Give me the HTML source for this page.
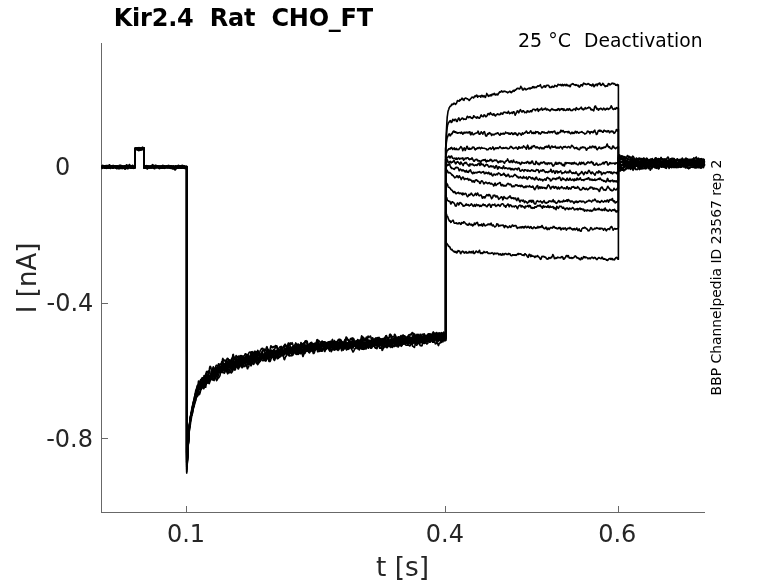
<!DOCTYPE html>
<html><head><meta charset="utf-8"><title>Kir2.4 Rat CHO_FT</title>
<style>
html,body{margin:0;padding:0;background:#fff;}
body{width:778px;height:583px;overflow:hidden;position:relative;font-family:"DejaVu Sans","Liberation Sans",sans-serif;}
svg{position:absolute;left:0;top:0;will-change:transform;}
.t{position:absolute;white-space:pre;line-height:1;color:#262626;}
</style></head><body>
<svg width="778" height="583" viewBox="0 0 778 583">
<g fill="#686868" shape-rendering="crispEdges">
<rect x="101" y="43" width="1" height="470"/>
<rect x="101" y="512" width="604" height="1"/>
<rect x="186" y="506" width="1" height="6"/>
<rect x="445" y="506" width="1" height="6"/>
<rect x="618" y="506" width="1" height="6"/>
<rect x="102" y="166" width="6" height="1"/>
<rect x="102" y="303" width="6" height="1"/>
<rect x="102" y="438" width="6" height="1"/>
</g>
<g fill="none" stroke="#000" stroke-width="1.6" stroke-linejoin="round" stroke-linecap="butt">
<path d="M101.5,165.7 101.9,166.2 102.3,166.6 102.7,166.6 103.1,166.1 103.5,165.6 103.9,165.8 104.3,166.3 104.7,166.3 105.1,166.0 105.5,165.9 105.9,166.0 106.3,166.5 106.7,166.8 107.1,166.9 107.5,167.0 107.9,167.1 108.3,167.0 108.7,166.9 109.1,166.8 109.5,166.7 109.9,166.6 110.3,166.9 110.7,167.1 111.1,167.0 111.5,167.1 111.9,167.2 112.3,167.5 112.7,167.9 113.1,167.6 113.5,167.0 113.9,166.9 114.3,167.2 114.7,167.3 115.1,167.4 115.5,167.6 115.9,167.8 116.3,167.7 116.7,167.3 117.1,166.9 117.5,166.7 117.9,166.4 118.3,166.2 118.7,166.4 119.1,167.0 119.5,167.5 119.9,167.3 120.3,166.6 120.7,166.3 121.1,166.2 121.5,166.0 121.9,166.3 122.3,167.1 122.7,167.7 123.1,167.6 123.5,167.1 123.9,166.9 124.3,167.2 124.7,167.4 125.1,167.2 125.5,167.0 125.9,167.0 126.3,166.8 126.7,166.5 127.1,166.4 127.5,166.6 127.9,167.1 128.3,167.6 128.7,167.7 129.1,167.5 129.5,167.4 129.9,167.4 130.3,167.5 130.7,167.4 131.1,167.0 131.5,166.5 131.9,166.0 132.3,165.4 132.7,165.3 133.1,165.7 133.5,166.5 133.9,167.3 134.3,167.7 134.7,167.2 135.1,166.8 135.1,148.8 135.9,148.9 136.3,148.9 136.7,149.0 137.1,149.1 137.5,148.9 137.9,148.5 138.3,148.4 138.7,148.3 139.1,148.3 139.5,148.4 139.9,148.7 140.3,149.0 140.7,149.1 141.1,148.7 141.5,148.3 141.9,147.8 142.3,147.4 142.7,147.4 143.1,147.7 143.5,147.8 143.9,148.0 143.9,166.4 144.7,166.6 145.1,166.9 145.5,167.0 145.9,166.9 146.3,167.0 146.7,167.6 147.1,167.9 147.5,167.4 147.9,166.9 148.3,166.6 148.7,166.8 149.1,167.0 149.5,166.9 149.9,166.5 150.3,166.2 150.7,166.1 151.1,166.5 151.5,167.1 151.9,167.5 152.3,167.4 152.7,167.1 153.1,166.6 153.5,166.4 153.9,166.5 154.3,166.6 154.7,166.5 155.1,166.2 155.5,166.1 155.9,166.6 156.3,167.0 156.7,166.8 157.1,166.7 157.5,167.1 157.9,167.1 158.3,166.6 158.7,166.2 159.1,166.0 159.5,166.1 159.9,166.7 160.3,167.0 160.7,166.9 161.1,166.8 161.5,166.7 161.9,166.6 162.3,166.3 162.7,166.1 163.1,166.4 163.5,167.0 163.9,167.1 164.3,167.0 164.7,166.9 165.1,166.7 165.5,166.8 165.9,167.0 166.3,167.0 166.7,167.1 167.1,167.4 167.5,167.8 167.9,167.8 168.3,167.2 168.7,166.6 169.1,166.6 169.5,167.3 169.9,167.6 170.3,167.6 170.7,167.7 171.1,167.9 171.5,168.0 171.9,167.8 172.3,167.6 172.7,167.4 173.1,167.3 173.5,167.5 173.9,168.0 174.3,168.4 174.7,168.6 175.1,167.9 175.5,166.7 175.9,166.2 176.3,166.4 176.7,166.6 177.1,166.8 177.5,166.5 177.9,165.8 178.3,165.6 178.7,166.2 179.1,166.7 179.5,166.8 179.9,166.5 180.3,166.0 180.7,165.8 181.1,165.8 181.5,165.8 181.9,166.0 182.3,166.6 182.7,166.9 183.1,166.8 183.5,166.3 183.9,166.0 184.3,165.9 184.7,166.1 185.1,166.5 185.5,166.8 185.9,167.2 186.3,167.7 186.7,167.7 186.7,473.1 187.3,463.1 187.7,453.9 188.1,445.4 188.5,437.6 188.9,430.9 189.3,426.1 189.7,422.6 190.1,418.9 190.5,416.9 190.9,414.7 191.3,412.6 191.7,409.7 192.1,407.1 192.5,405.7 192.9,404.0 193.3,402.2 193.7,400.7 194.1,399.9 194.5,398.7 194.9,396.9 195.3,394.7 195.7,393.5 196.1,392.0 196.5,390.7 196.9,390.0 197.3,388.6 197.7,386.5 198.1,385.3 198.5,384.8 198.9,383.9 199.3,382.6 199.7,382.2 200.1,381.0 200.5,380.2 200.9,379.3 201.3,379.3 201.7,378.7 202.1,377.9 202.5,378.3 202.9,377.6 203.3,377.6 203.7,376.8 204.1,375.5 204.5,375.8 204.9,376.6 205.3,376.3 205.7,375.2 206.1,373.3 206.5,371.6 206.9,371.5 207.3,371.4 207.7,372.8 208.1,372.6 208.5,371.6 208.9,371.0 209.3,369.7 209.7,367.3 210.1,366.3 210.5,366.6 210.9,367.3 211.3,369.9 211.7,372.5 212.1,372.2 212.5,372.0 212.9,370.8 213.3,370.1 213.7,368.9 214.1,368.1 214.5,368.7 214.9,369.5 215.3,368.5 215.7,366.9 216.1,365.5 216.5,365.3 216.9,365.2 217.3,365.7 217.7,366.1 218.1,366.0 218.5,363.8 218.9,364.2 219.3,365.3 219.7,364.8 220.1,364.5 220.5,364.7 220.9,364.3 221.3,365.2 221.7,365.7 222.1,363.0 222.5,359.3 222.9,358.4 223.3,359.7 223.7,361.0 224.1,360.2 224.5,360.0 224.9,361.1 225.3,361.4 225.7,360.8 226.1,360.2 226.5,360.0 226.9,359.3 227.3,358.3 227.7,358.8 228.1,358.6 228.5,359.5 228.9,360.9 229.3,360.6 229.7,359.9 230.1,361.8 230.5,362.5 230.9,360.8 231.3,359.5 231.7,358.6 232.1,357.7 232.5,357.3 232.9,354.7 233.3,354.4 233.7,355.9 234.1,357.1 234.5,358.0 234.9,358.2 235.3,357.9 235.7,357.2 236.1,355.5 236.5,356.1 236.9,357.0 237.3,357.8 237.7,357.5 238.1,356.2 238.5,356.1 238.9,357.0 239.3,357.0 239.7,357.4 240.1,359.9 240.5,360.3 240.9,358.2 241.3,359.0 241.7,360.4 242.1,359.4 242.5,358.2 242.9,357.8 243.3,357.4 243.7,356.9 244.1,356.1 244.5,355.6 244.9,354.5 245.3,353.7 245.7,353.7 246.1,354.3 246.5,354.3 246.9,354.8 247.3,355.3 247.7,354.7 248.1,354.2 248.5,353.7 248.9,353.0 249.3,352.3 249.7,352.1 250.1,352.2 250.5,352.1 250.9,353.3 251.3,352.9 251.7,351.8 252.1,351.6 252.5,351.9 252.9,352.7 253.3,353.5 253.7,354.4 254.1,353.0 254.5,351.3 254.9,351.2 255.3,351.2 255.7,352.7 256.1,354.2 256.5,353.6 256.9,351.8 257.3,352.1 257.7,353.6 258.1,353.2 258.5,352.9 258.9,353.9 259.3,354.5 259.7,352.9 260.1,351.0 260.5,350.3 260.9,349.9 261.3,348.8 261.7,348.5 262.1,348.8 262.5,348.3 262.9,348.5 263.3,349.6 263.7,350.6 264.1,349.3 264.5,349.1 264.9,349.8 265.3,350.5 265.7,350.4 266.1,348.8 266.5,347.2 266.9,346.6 267.3,347.8 267.7,349.9 268.1,350.3 268.5,349.9 268.9,350.3 269.3,351.0 269.7,350.8 270.1,349.4 270.5,347.5 270.9,345.7 271.3,346.2 271.7,347.6 272.1,346.7 272.5,347.2 272.9,347.8 273.3,347.1 273.7,346.6 274.1,346.9 274.5,347.1 274.9,346.5 275.3,345.6 275.7,346.1 276.1,346.0 276.5,346.1 276.9,347.2 277.3,348.4 277.7,348.8 278.1,348.2 278.5,348.3 278.9,348.1 279.3,347.8 279.7,347.4 280.1,346.6 280.5,346.7 280.9,346.9 281.3,346.4 281.7,347.3 282.1,348.1 282.5,348.1 282.9,347.3 283.3,347.0 283.7,347.3 284.1,347.5 284.5,346.9 284.9,345.8 285.3,345.3 285.7,345.4 286.1,346.2 286.5,346.6 286.9,347.2 287.3,347.3 287.7,345.2 288.1,343.3 288.5,343.0 288.9,343.0 289.3,343.9 289.7,345.3 290.1,344.3 290.5,342.9 290.9,343.8 291.3,344.2 291.7,343.1 292.1,342.7 292.5,343.5 292.9,344.6 293.3,345.5 293.7,345.9 294.1,345.9 294.5,345.7 294.9,345.4 295.3,344.2 295.7,342.9 296.1,343.5 296.5,344.4 296.9,344.6 297.3,344.9 297.7,344.1 298.1,343.9 298.5,345.3 298.9,345.7 299.3,345.7 299.7,346.2 300.1,346.1 300.5,344.5 300.9,342.6 301.3,343.1 301.7,343.6 302.1,343.8 302.5,345.0 302.9,345.9 303.3,345.1 303.7,344.9 304.1,345.6 304.5,343.6 304.9,341.8 305.3,341.8 305.7,341.4 306.1,340.7 306.5,341.1 306.9,341.0 307.3,341.7 307.7,343.8 308.1,345.3 308.5,345.6 308.9,346.1 309.3,346.6 309.7,346.6 310.1,344.4 310.5,343.6 310.9,343.1 311.3,343.4 311.7,344.6 312.1,345.4 312.5,345.5 312.9,344.6 313.3,343.7 313.7,344.1 314.1,345.2 314.5,345.8 314.9,345.6 315.3,344.5 315.7,343.9 316.1,343.3 316.5,341.5 316.9,339.9 317.3,339.5 317.7,340.1 318.1,341.1 318.5,340.4 318.9,340.7 319.3,341.2 319.7,342.0 320.1,342.3 320.5,342.0 320.9,342.0 321.3,342.1 321.7,341.7 322.1,341.0 322.5,341.6 322.9,342.7 323.3,342.5 323.7,343.7 324.1,344.5 324.5,345.3 324.9,345.5 325.3,344.6 325.7,343.8 326.1,343.0 326.5,343.9 326.9,344.2 327.3,344.5 327.7,343.5 328.1,341.7 328.5,342.4 328.9,344.1 329.3,344.9 329.7,343.9 330.1,342.4 330.5,341.8 330.9,343.4 331.3,343.8 331.7,342.1 332.1,340.2 332.5,339.4 332.9,341.3 333.3,343.1 333.7,343.0 334.1,343.1 334.5,342.8 334.9,342.4 335.3,342.8 335.7,341.8 336.1,341.7 336.5,342.0 336.9,342.0 337.3,341.5 337.7,340.8 338.1,339.9 338.5,339.7 338.9,340.3 339.3,339.9 339.7,339.3 340.1,339.4 340.5,339.9 340.9,339.9 341.3,340.8 341.7,342.4 342.1,344.6 342.5,346.0 342.9,345.6 343.3,342.9 343.7,342.0 344.1,342.1 344.5,341.0 344.9,340.5 345.3,340.5 345.7,338.7 346.1,337.0 346.5,337.2 346.9,338.9 347.3,339.5 347.7,339.1 348.1,339.7 348.5,341.1 348.9,341.1 349.3,340.3 349.7,340.3 350.1,339.8 350.5,338.6 350.9,339.3 351.3,339.9 351.7,338.8 352.1,337.7 352.5,338.8 352.9,340.2 353.3,340.2 353.7,339.8 354.1,342.1 354.5,342.6 354.9,343.9 355.3,344.8 355.7,344.3 356.1,342.9 356.5,341.8 356.9,342.0 357.3,341.0 357.7,341.1 358.1,344.2 358.5,345.0 358.9,344.6 359.3,343.5 359.7,343.7 360.1,343.4 360.5,342.1 360.9,340.2 361.3,339.0 361.7,338.6 362.1,337.3 362.5,337.0 362.9,337.6 363.3,337.4 363.7,337.6 364.1,338.5 364.5,339.8 364.9,339.8 365.3,339.7 365.7,340.6 366.1,340.7 366.5,341.2 366.9,341.0 367.3,338.9 367.7,337.1 368.1,336.1 368.5,336.9 368.9,337.7 369.3,336.9 369.7,336.6 370.1,336.2 370.5,336.0 370.9,337.2 371.3,339.7 371.7,340.6 372.1,339.0 372.5,337.7 372.9,338.1 373.3,339.0 373.7,340.8 374.1,342.2 374.5,343.0 374.9,342.9 375.3,341.5 375.7,340.0 376.1,338.7 376.5,338.3 376.9,337.8 377.3,337.8 377.7,337.6 378.1,338.0 378.5,338.0 378.9,337.3 379.3,337.7 379.7,338.9 380.1,340.7 380.5,341.5 380.9,340.6 381.3,339.6 381.7,339.5 382.1,338.9 382.5,339.7 382.9,338.8 383.3,338.4 383.7,341.1 384.1,340.8 384.5,338.5 384.9,337.8 385.3,337.4 385.7,336.7 386.1,335.9 386.5,336.9 386.9,338.6 387.3,339.6 387.7,339.9 388.1,339.7 388.5,339.5 388.9,337.7 389.3,336.2 389.7,334.4 390.1,334.2 390.5,335.1 390.9,334.7 391.3,335.5 391.7,336.1 392.1,336.4 392.5,337.1 392.9,337.1 393.3,336.8 393.7,336.6 394.1,335.8 394.5,334.5 394.9,334.3 395.3,335.1 395.7,336.0 396.1,337.6 396.5,339.2 396.9,338.8 397.3,338.1 397.7,337.9 398.1,337.7 398.5,337.6 398.9,337.7 399.3,337.8 399.7,337.7 400.1,337.4 400.5,336.3 400.9,335.5 401.3,335.8 401.7,337.4 402.1,338.1 402.5,338.3 402.9,337.6 403.3,336.6 403.7,335.5 404.1,336.2 404.5,337.0 404.9,335.9 405.3,336.9 405.7,337.9 406.1,337.7 406.5,338.2 406.9,338.7 407.3,338.1 407.7,337.7 408.1,336.4 408.5,335.3 408.9,334.8 409.3,334.9 409.7,335.0 410.1,334.5 410.5,334.0 410.9,335.1 411.3,334.9 411.7,333.6 412.1,332.5 412.5,332.8 412.9,333.8 413.3,333.7 413.7,333.4 414.1,335.5 414.5,336.9 414.9,335.5 415.3,336.1 415.7,336.3 416.1,335.9 416.5,335.6 416.9,334.4 417.3,335.2 417.7,336.5 418.1,336.4 418.5,336.5 418.9,336.8 419.3,337.1 419.7,337.5 420.1,337.0 420.5,337.2 420.9,337.0 421.3,337.2 421.7,336.0 422.1,334.2 422.5,334.5 422.9,334.2 423.3,334.4 423.7,334.8 424.1,333.7 424.5,334.3 424.9,336.6 425.3,337.4 425.7,337.9 426.1,337.1 426.5,336.3 426.9,337.3 427.3,338.8 427.7,338.7 428.1,337.6 428.5,336.7 428.9,336.0 429.3,335.9 429.7,336.7 430.1,335.5 430.5,334.2 430.9,334.4 431.3,335.2 431.7,335.0 432.1,333.9 432.5,333.1 432.9,332.8 433.3,331.9 433.7,332.4 434.1,333.7 434.5,333.7 434.9,334.2 435.3,335.1 435.7,335.4 436.1,336.4 436.5,338.4 436.9,338.5 437.3,337.8 437.7,337.5 438.1,336.5 438.5,335.2 438.9,334.9 439.3,334.2 439.7,333.3 440.1,334.0 440.5,334.5 440.9,333.9 441.3,333.1 441.7,333.6 442.1,334.0 442.5,333.7 442.9,333.0 443.3,332.8 443.7,332.0 444.1,332.6 444.5,333.8 444.9,333.5 445.3,333.8 445.7,334.5 445.7,148.6 446.4,131.0 446.8,123.6 447.2,117.2 447.6,114.5 448.0,111.5 448.4,110.3 448.8,109.3 449.2,107.7 449.6,107.2 450.0,106.5 450.4,106.2 450.8,106.0 451.2,105.6 451.6,104.2 452.0,104.8 452.4,104.2 452.8,104.5 453.2,104.3 453.6,103.7 454.0,103.1 454.4,103.4 454.8,103.8 455.2,104.1 455.6,104.5 456.0,103.5 456.4,103.4 456.8,102.4 457.2,101.2 457.6,100.5 458.0,100.8 458.4,100.9 458.8,101.2 459.2,101.1 459.6,101.0 460.0,99.5 460.4,100.2 460.8,99.6 461.2,99.4 461.6,98.9 462.0,98.2 462.4,98.5 462.8,98.9 463.2,99.9 463.6,99.7 464.0,100.3 464.4,99.2 464.8,98.4 465.2,98.2 465.6,98.1 466.0,98.1 466.4,98.5 466.8,98.7 467.2,98.7 467.6,98.7 468.0,99.5 468.4,99.5 468.8,99.9 469.2,100.5 469.6,100.1 470.0,99.6 470.4,98.9 470.8,98.6 471.2,98.0 471.6,98.0 472.0,97.1 472.4,97.3 472.8,97.2 473.2,97.4 473.6,98.0 474.0,97.2 474.4,96.6 474.8,96.0 475.2,96.6 475.6,96.3 476.0,95.9 476.4,95.3 476.8,95.1 477.2,96.2 477.6,97.2 478.0,96.0 478.4,96.4 478.8,96.4 479.2,96.1 479.6,96.3 480.0,96.1 480.4,96.2 480.8,97.2 481.2,95.5 481.6,95.5 482.0,95.4 482.4,95.7 482.8,96.7 483.2,96.9 483.6,95.9 484.0,95.7 484.4,96.4 484.8,96.3 485.2,97.4 485.6,97.1 486.0,95.7 486.4,94.7 486.8,93.4 487.2,94.1 487.6,94.7 488.0,95.6 488.4,96.4 488.8,95.6 489.2,95.5 489.6,95.3 490.0,96.0 490.4,95.5 490.8,94.7 491.2,94.8 491.6,95.7 492.0,94.3 492.4,94.1 492.8,94.2 493.2,94.6 493.6,94.4 494.0,93.5 494.4,93.4 494.8,94.0 495.2,95.0 495.6,94.5 496.0,94.8 496.4,94.4 496.8,94.1 497.2,94.8 497.6,94.9 498.0,94.7 498.4,93.2 498.8,93.4 499.2,92.6 499.6,91.9 500.0,92.0 500.4,92.2 500.8,91.9 501.2,91.2 501.6,90.8 502.0,91.4 502.4,91.9 502.8,91.8 503.2,92.0 503.6,91.2 504.0,91.3 504.4,91.4 504.8,91.1 505.2,91.4 505.6,91.8 506.0,91.7 506.4,91.7 506.8,92.2 507.2,92.1 507.6,92.8 508.0,92.5 508.4,92.2 508.8,92.0 509.2,91.7 509.6,91.3 510.0,91.2 510.4,91.9 510.8,92.4 511.2,92.7 511.6,91.8 512.0,92.1 512.4,91.5 512.8,90.9 513.2,90.4 513.6,90.5 514.0,91.3 514.4,91.0 514.8,90.0 515.2,90.3 515.6,90.0 516.0,89.4 516.4,89.4 516.8,88.6 517.2,88.7 517.6,88.3 518.0,88.4 518.4,88.7 518.8,88.6 519.2,88.9 519.6,88.9 520.0,88.5 520.4,87.6 520.8,86.2 521.2,87.4 521.6,87.3 522.0,88.4 522.4,89.4 522.8,89.9 523.2,90.0 523.6,89.6 524.0,88.7 524.4,88.2 524.8,88.4 525.2,88.8 525.6,89.6 526.0,89.3 526.4,89.7 526.8,89.2 527.2,89.1 527.6,88.7 528.0,88.6 528.4,88.6 528.8,88.3 529.2,88.0 529.6,88.1 530.0,89.0 530.4,88.3 530.8,88.0 531.2,88.3 531.6,88.3 532.0,88.0 532.4,86.9 532.8,87.0 533.2,86.5 533.6,87.3 534.0,87.9 534.4,87.4 534.8,86.9 535.2,87.1 535.6,87.3 536.0,87.6 536.4,87.3 536.8,86.7 537.2,86.6 537.6,85.9 538.0,86.2 538.4,86.1 538.8,86.2 539.2,85.6 539.6,85.5 540.0,85.7 540.4,84.7 540.8,85.8 541.2,86.8 541.6,87.7 542.0,87.9 542.4,87.6 542.8,87.1 543.2,86.8 543.6,86.7 544.0,85.8 544.4,86.0 544.8,86.0 545.2,87.2 545.6,87.0 546.0,86.3 546.4,85.4 546.8,85.6 547.2,85.2 547.6,85.2 548.0,85.2 548.4,85.5 548.8,85.6 549.2,86.7 549.6,87.4 550.0,87.5 550.4,87.3 550.8,87.1 551.2,87.5 551.6,86.9 552.0,86.5 552.4,86.2 552.8,86.2 553.2,87.2 553.6,86.8 554.0,87.0 554.4,86.4 554.8,85.3 555.2,85.6 555.6,86.0 556.0,85.9 556.4,85.8 556.8,86.6 557.2,86.0 557.6,85.3 558.0,84.4 558.4,84.5 558.8,84.5 559.2,84.9 559.6,85.0 560.0,84.7 560.4,84.5 560.8,84.7 561.2,85.6 561.6,85.6 562.0,84.8 562.4,84.4 562.8,85.1 563.2,85.8 563.6,84.7 564.0,84.7 564.4,84.9 564.8,84.4 565.2,85.4 565.6,85.2 566.0,85.6 566.4,84.7 566.8,84.4 567.2,85.0 567.6,85.6 568.0,85.7 568.4,86.0 568.8,85.3 569.2,85.2 569.6,85.7 570.0,86.7 570.4,86.2 570.8,85.1 571.2,84.5 571.6,84.2 572.0,84.3 572.4,84.0 572.8,83.6 573.2,83.8 573.6,84.2 574.0,84.7 574.4,85.0 574.8,84.9 575.2,84.8 575.6,85.3 576.0,84.6 576.4,85.0 576.8,85.3 577.2,85.2 577.6,85.8 578.0,85.4 578.4,85.3 578.8,86.5 579.2,87.2 579.6,86.5 580.0,86.7 580.4,85.6 580.8,84.7 581.2,84.7 581.6,84.8 582.0,85.8 582.4,85.9 582.8,84.9 583.2,83.9 583.6,83.1 584.0,83.3 584.4,83.8 584.8,83.8 585.2,84.3 585.6,83.9 586.0,84.2 586.4,84.4 586.8,84.6 587.2,84.1 587.6,84.1 588.0,83.5 588.4,83.7 588.8,84.0 589.2,84.3 589.6,84.3 590.0,85.2 590.4,85.0 590.8,84.8 591.2,85.0 591.6,85.8 592.0,86.0 592.4,85.1 592.8,84.1 593.2,84.6 593.6,85.5 594.0,86.7 594.4,86.2 594.8,85.0 595.2,85.4 595.6,84.7 596.0,84.2 596.4,84.4 596.8,84.4 597.2,85.7 597.6,85.1 598.0,83.7 598.4,83.8 598.8,83.5 599.2,84.0 599.6,83.1 600.0,83.3 600.4,84.8 600.8,85.3 601.2,85.5 601.6,84.5 602.0,84.6 602.4,84.5 602.8,83.2 603.2,84.2 603.6,84.1 604.0,85.3 604.4,85.3 604.8,85.8 605.2,86.6 605.6,86.3 606.0,85.8 606.4,86.2 606.8,85.9 607.2,85.4 607.6,86.1 608.0,84.5 608.4,83.6 608.8,83.7 609.2,83.7 609.6,84.5 610.0,85.0 610.4,84.6 610.8,84.3 611.2,84.2 611.6,83.4 612.0,83.5 612.4,83.5 612.8,83.1 613.2,83.8 613.6,83.6 614.0,83.9 614.4,83.6 614.8,83.9 615.2,84.1 615.6,85.1 616.0,85.1 616.4,85.3 616.8,84.6 617.2,84.4 617.6,85.5 618.0,85.7 618.4,84.9 618.4,169.9 619.1,170.8 619.5,170.2 619.9,170.4 620.3,171.0 620.7,170.5 621.1,169.4 621.5,169.5 621.9,170.2 622.3,170.2 622.7,169.2 623.1,169.1 623.5,170.4 623.9,170.9 624.3,170.1 624.7,169.4 625.1,169.5 625.5,169.8 625.9,169.4 626.3,168.6 626.7,168.6 627.1,168.4 627.5,168.1 627.9,168.6 628.3,168.7 628.7,168.6 629.1,168.3 629.5,167.7 629.9,168.2 630.3,169.0 630.7,169.3 631.1,168.8 631.5,167.4 631.9,166.9 632.3,168.1 632.7,169.5 633.1,170.3 633.5,169.3 633.9,168.2 634.3,168.0 634.7,167.3 635.1,167.7 635.5,169.5 635.9,169.5 636.3,169.1 636.7,169.4 637.1,169.7 637.5,169.3 637.9,168.5 638.3,167.1 638.7,167.0 639.1,168.8 639.5,169.6 639.9,168.9 640.3,168.2 640.7,167.7 641.1,167.8 641.5,168.8 641.9,168.9 642.3,168.5 642.7,168.5 643.1,168.7 643.5,168.5 643.9,167.9 644.3,167.2 644.7,168.2 645.1,169.0 645.5,167.9 645.9,167.6 646.3,168.4 646.7,168.6 647.1,167.6 647.5,166.5 647.9,166.5 648.3,166.2 648.7,166.4 649.1,167.2 649.5,167.7 649.9,169.1 650.3,170.3 650.7,169.4 651.1,167.8 651.5,166.5 651.9,165.9 652.3,165.7 652.7,165.7 653.1,165.7 653.5,166.0 653.9,166.1 654.3,165.5 654.7,165.0 655.1,165.6 655.5,166.8 655.9,167.7 656.3,168.3 656.7,168.1 657.1,167.4 657.5,167.0 657.9,167.2 658.3,168.7 658.7,168.6 659.1,167.0 659.5,166.1 659.9,165.9 660.3,165.3 660.7,165.9 661.1,167.1 661.5,167.1 661.9,167.0 662.3,167.0 662.7,166.6 663.1,166.5 663.5,166.3 663.9,166.2 664.3,166.6 664.7,167.0 665.1,167.8 665.5,167.9 665.9,167.9 666.3,167.0 666.7,166.4 667.1,165.6 667.5,165.5 667.9,166.5 668.3,166.9 668.7,166.6 669.1,166.9 669.5,166.7 669.9,166.9 670.3,167.3 670.7,166.8 671.1,166.4 671.5,167.6 671.9,167.5 672.3,166.3 672.7,165.1 673.1,164.5 673.5,165.2 673.9,166.3 674.3,166.2 674.7,165.7 675.1,166.5 675.5,167.5 675.9,167.0 676.3,166.9 676.7,167.7 677.1,167.6 677.5,166.7 677.9,165.7 678.3,164.8 678.7,165.0 679.1,165.8 679.5,166.5 679.9,167.2 680.3,167.4 680.7,167.2 681.1,166.5 681.5,165.2 681.9,164.4 682.3,165.0 682.7,165.4 683.1,165.6 683.5,165.6 683.9,165.2 684.3,165.3 684.7,166.1 685.1,166.5 685.5,166.5 685.9,166.7 686.3,166.3 686.7,166.0 687.1,167.1 687.5,167.9 687.9,167.6 688.3,168.1 688.7,168.8 689.1,168.3 689.5,167.7 689.9,168.1 690.3,167.5 690.7,166.7 691.1,166.7 691.5,167.1 691.9,167.0 692.3,167.1 692.7,167.3 693.1,166.3 693.5,166.1 693.9,167.2 694.3,167.9 694.7,167.5 695.1,166.9 695.5,167.5 695.9,168.1 696.3,167.8 696.7,166.6 697.1,166.3 697.5,165.8 697.9,165.2 698.3,165.9 698.7,166.9 699.1,166.5 699.5,166.5 699.9,167.5 700.3,168.1 700.7,167.6 701.1,166.6 701.5,166.8 701.9,167.1 702.3,166.4 702.7,166.4 703.1,167.6 703.5,167.5 703.9,165.4 704.3,163.7 704.7,164.0"/>
<path d="M101.5,166.6 101.9,166.8 102.3,166.8 102.7,166.9 103.1,167.2 103.5,167.3 103.9,167.4 104.3,167.6 104.7,167.5 105.1,167.1 105.5,166.5 105.9,165.9 106.3,165.5 106.7,165.5 107.1,165.8 107.5,166.0 107.9,166.0 108.3,166.0 108.7,166.0 109.1,166.3 109.5,166.9 109.9,167.5 110.3,167.8 110.7,167.6 111.1,167.2 111.5,166.9 111.9,166.8 112.3,166.7 112.7,166.5 113.1,166.5 113.5,166.6 113.9,166.7 114.3,166.6 114.7,166.3 115.1,166.2 115.5,166.1 115.9,165.9 116.3,166.1 116.7,166.0 117.1,165.7 117.5,165.7 117.9,166.2 118.3,166.5 118.7,166.7 119.1,166.7 119.5,167.2 119.9,167.7 120.3,167.5 120.7,167.0 121.1,166.6 121.5,166.4 121.9,166.4 122.3,166.3 122.7,166.4 123.1,166.5 123.5,166.3 123.9,166.1 124.3,166.2 124.7,166.4 125.1,166.6 125.5,166.5 125.9,166.0 126.3,165.9 126.7,165.9 127.1,166.0 127.5,166.2 127.9,166.5 128.3,166.7 128.7,166.8 129.1,167.0 129.5,167.0 129.9,166.8 130.3,166.4 130.7,166.0 131.1,166.2 131.5,167.0 131.9,167.8 132.3,168.2 132.7,168.0 133.1,167.3 133.5,166.9 133.9,166.9 134.3,167.2 134.7,167.4 135.1,167.1 135.1,148.5 135.9,148.5 136.3,148.9 136.7,149.0 137.1,148.9 137.5,148.8 137.9,148.5 138.3,148.0 138.7,147.7 139.1,147.6 139.5,147.8 139.9,147.8 140.3,147.8 140.7,148.1 141.1,148.4 141.5,148.4 141.9,148.0 142.3,147.6 142.7,147.5 143.1,147.8 143.5,148.3 143.9,148.8 143.9,167.4 144.7,167.7 145.1,167.6 145.5,167.3 145.9,167.0 146.3,167.0 146.7,167.2 147.1,167.1 147.5,166.9 147.9,167.1 148.3,167.3 148.7,167.2 149.1,166.7 149.5,166.2 149.9,166.3 150.3,166.8 150.7,166.7 151.1,166.3 151.5,166.0 151.9,165.6 152.3,164.9 152.7,164.6 153.1,165.1 153.5,165.9 153.9,166.4 154.3,166.6 154.7,166.6 155.1,166.2 155.5,165.7 155.9,165.5 156.3,165.5 156.7,165.6 157.1,165.8 157.5,166.0 157.9,165.9 158.3,165.9 158.7,166.4 159.1,166.7 159.5,166.2 159.9,165.9 160.3,166.3 160.7,166.8 161.1,166.7 161.5,166.5 161.9,166.4 162.3,166.0 162.7,165.8 163.1,166.0 163.5,166.5 163.9,167.0 164.3,167.2 164.7,167.2 165.1,167.2 165.5,167.0 165.9,166.5 166.3,165.9 166.7,165.7 167.1,165.9 167.5,165.9 167.9,166.0 168.3,166.2 168.7,166.3 169.1,166.4 169.5,166.4 169.9,166.4 170.3,167.0 170.7,167.6 171.1,167.5 171.5,167.2 171.9,167.4 172.3,167.2 172.7,166.7 173.1,166.5 173.5,166.7 173.9,166.9 174.3,167.0 174.7,166.8 175.1,166.6 175.5,166.3 175.9,166.1 176.3,166.0 176.7,166.1 177.1,166.2 177.5,166.5 177.9,166.7 178.3,166.6 178.7,166.4 179.1,166.5 179.5,166.6 179.9,166.7 180.3,166.8 180.7,166.7 181.1,166.6 181.5,166.6 181.9,166.8 182.3,166.8 182.7,166.3 183.1,166.2 183.5,166.2 183.9,166.1 184.3,166.4 184.7,167.1 185.1,167.6 185.5,167.8 185.9,167.5 186.3,167.2 186.7,167.2 186.7,471.7 187.3,462.5 187.7,453.8 188.1,446.7 188.5,439.4 188.9,432.8 189.3,426.7 189.7,422.4 190.1,420.5 190.5,417.9 190.9,415.4 191.3,413.7 191.7,412.1 192.1,409.3 192.5,406.0 192.9,404.6 193.3,402.6 193.7,401.6 194.1,401.7 194.5,399.7 194.9,396.0 195.3,393.4 195.7,393.8 196.1,394.1 196.5,392.7 196.9,390.4 197.3,388.5 197.7,387.0 198.1,386.7 198.5,386.3 198.9,384.8 199.3,383.0 199.7,383.4 200.1,384.1 200.5,383.9 200.9,384.8 201.3,386.1 201.7,384.7 202.1,383.1 202.5,381.5 202.9,380.1 203.3,378.7 203.7,379.3 204.1,380.4 204.5,380.2 204.9,378.8 205.3,377.7 205.7,377.4 206.1,377.6 206.5,378.8 206.9,379.3 207.3,378.7 207.7,378.1 208.1,375.3 208.5,372.5 208.9,371.3 209.3,370.6 209.7,371.7 210.1,374.1 210.5,374.5 210.9,374.9 211.3,375.5 211.7,374.4 212.1,372.5 212.5,372.4 212.9,371.9 213.3,371.7 213.7,371.7 214.1,370.4 214.5,370.0 214.9,369.9 215.3,369.1 215.7,367.6 216.1,367.6 216.5,369.6 216.9,371.3 217.3,372.0 217.7,372.0 218.1,370.6 218.5,369.7 218.9,369.4 219.3,368.5 219.7,368.6 220.1,369.6 220.5,368.4 220.9,367.5 221.3,368.6 221.7,368.7 222.1,366.7 222.5,365.4 222.9,364.0 223.3,364.0 223.7,365.3 224.1,367.7 224.5,369.4 224.9,368.4 225.3,368.1 225.7,366.3 226.1,365.8 226.5,366.7 226.9,366.6 227.3,365.5 227.7,364.5 228.1,365.2 228.5,366.2 228.9,367.9 229.3,366.6 229.7,365.1 230.1,363.7 230.5,362.7 230.9,362.0 231.3,361.9 231.7,360.7 232.1,359.6 232.5,358.3 232.9,358.5 233.3,359.2 233.7,357.7 234.1,357.2 234.5,358.7 234.9,358.7 235.3,359.1 235.7,359.4 236.1,358.4 236.5,358.4 236.9,358.8 237.3,361.0 237.7,361.7 238.1,360.0 238.5,358.3 238.9,357.0 239.3,357.0 239.7,356.7 240.1,355.6 240.5,356.2 240.9,355.8 241.3,355.6 241.7,356.5 242.1,358.5 242.5,357.8 242.9,356.9 243.3,357.3 243.7,358.3 244.1,357.8 244.5,359.8 244.9,361.8 245.3,360.5 245.7,359.8 246.1,359.2 246.5,357.5 246.9,356.9 247.3,356.6 247.7,355.7 248.1,355.1 248.5,355.2 248.9,356.1 249.3,357.3 249.7,358.6 250.1,358.2 250.5,356.5 250.9,355.5 251.3,357.5 251.7,357.6 252.1,354.9 252.5,352.9 252.9,353.7 253.3,355.4 253.7,355.1 254.1,355.4 254.5,356.5 254.9,357.2 255.3,356.5 255.7,355.8 256.1,355.8 256.5,356.4 256.9,354.9 257.3,352.1 257.7,350.3 258.1,351.3 258.5,353.4 258.9,354.5 259.3,355.7 259.7,355.6 260.1,355.0 260.5,354.9 260.9,354.5 261.3,353.7 261.7,354.3 262.1,354.5 262.5,351.4 262.9,350.2 263.3,350.9 263.7,350.5 264.1,349.9 264.5,350.4 264.9,352.5 265.3,353.9 265.7,353.8 266.1,352.6 266.5,351.6 266.9,350.4 267.3,350.7 267.7,351.2 268.1,352.3 268.5,353.2 268.9,352.7 269.3,351.5 269.7,351.8 270.1,350.9 270.5,350.2 270.9,350.3 271.3,350.1 271.7,350.9 272.1,351.5 272.5,351.5 272.9,351.8 273.3,351.5 273.7,350.9 274.1,349.9 274.5,349.5 274.9,348.5 275.3,347.9 275.7,347.8 276.1,347.3 276.5,345.9 276.9,346.0 277.3,347.8 277.7,349.4 278.1,350.4 278.5,351.5 278.9,352.2 279.3,351.8 279.7,350.8 280.1,349.7 280.5,349.5 280.9,350.0 281.3,350.6 281.7,350.3 282.1,349.7 282.5,349.5 282.9,350.1 283.3,350.4 283.7,350.8 284.1,350.6 284.5,349.4 284.9,348.7 285.3,349.2 285.7,349.1 286.1,348.5 286.5,349.3 286.9,351.1 287.3,350.3 287.7,350.2 288.1,350.0 288.5,348.8 288.9,349.0 289.3,349.8 289.7,349.2 290.1,348.6 290.5,348.5 290.9,348.9 291.3,349.8 291.7,349.8 292.1,349.7 292.5,350.1 292.9,350.4 293.3,349.9 293.7,348.8 294.1,347.4 294.5,349.0 294.9,350.1 295.3,348.7 295.7,346.5 296.1,345.8 296.5,346.5 296.9,346.9 297.3,347.9 297.7,348.2 298.1,349.0 298.5,348.3 298.9,346.0 299.3,345.9 299.7,345.4 300.1,344.6 300.5,344.8 300.9,345.2 301.3,344.9 301.7,343.7 302.1,344.8 302.5,345.6 302.9,344.5 303.3,343.6 303.7,343.0 304.1,342.8 304.5,343.9 304.9,344.5 305.3,345.3 305.7,346.4 306.1,346.0 306.5,346.2 306.9,346.4 307.3,344.7 307.7,344.1 308.1,344.8 308.5,345.7 308.9,346.9 309.3,347.6 309.7,348.6 310.1,348.1 310.5,346.3 310.9,344.8 311.3,344.8 311.7,344.3 312.1,343.3 312.5,344.1 312.9,344.9 313.3,345.3 313.7,346.0 314.1,345.3 314.5,343.7 314.9,343.5 315.3,343.7 315.7,344.3 316.1,344.3 316.5,345.1 316.9,345.5 317.3,345.4 317.7,344.3 318.1,343.7 318.5,345.2 318.9,345.5 319.3,346.2 319.7,346.2 320.1,346.5 320.5,346.9 320.9,346.4 321.3,345.6 321.7,344.0 322.1,343.9 322.5,343.5 322.9,343.1 323.3,343.2 323.7,343.7 324.1,343.5 324.5,341.7 324.9,341.8 325.3,342.4 325.7,343.2 326.1,342.8 326.5,342.8 326.9,343.1 327.3,344.2 327.7,345.0 328.1,344.7 328.5,344.4 328.9,344.2 329.3,345.5 329.7,346.6 330.1,346.7 330.5,346.7 330.9,344.7 331.3,343.4 331.7,343.4 332.1,343.7 332.5,343.7 332.9,343.0 333.3,342.3 333.7,341.8 334.1,340.8 334.5,340.5 334.9,342.0 335.3,343.6 335.7,342.1 336.1,342.9 336.5,344.3 336.9,343.3 337.3,341.4 337.7,340.9 338.1,340.9 338.5,340.2 338.9,339.3 339.3,340.5 339.7,342.2 340.1,344.0 340.5,344.5 340.9,342.9 341.3,342.0 341.7,343.4 342.1,344.6 342.5,344.1 342.9,343.8 343.3,344.1 343.7,342.8 344.1,343.0 344.5,343.2 344.9,343.5 345.3,343.8 345.7,343.1 346.1,340.4 346.5,338.5 346.9,337.9 347.3,339.0 347.7,339.7 348.1,340.1 348.5,339.9 348.9,340.5 349.3,341.5 349.7,341.3 350.1,341.7 350.5,342.1 350.9,341.7 351.3,341.8 351.7,343.2 352.1,343.3 352.5,341.9 352.9,339.3 353.3,338.3 353.7,338.7 354.1,340.8 354.5,343.0 354.9,343.1 355.3,341.9 355.7,341.2 356.1,340.9 356.5,340.7 356.9,341.4 357.3,341.0 357.7,339.6 358.1,340.3 358.5,341.3 358.9,340.6 359.3,340.2 359.7,340.2 360.1,340.8 360.5,341.4 360.9,339.9 361.3,337.3 361.7,335.8 362.1,336.7 362.5,337.0 362.9,338.1 363.3,340.5 363.7,340.8 364.1,339.8 364.5,340.8 364.9,340.7 365.3,339.6 365.7,339.1 366.1,337.6 366.5,337.1 366.9,337.7 367.3,339.4 367.7,341.3 368.1,340.9 368.5,340.2 368.9,340.1 369.3,340.3 369.7,340.5 370.1,341.2 370.5,340.9 370.9,340.8 371.3,341.5 371.7,341.7 372.1,341.3 372.5,342.3 372.9,343.1 373.3,342.1 373.7,342.0 374.1,342.1 374.5,340.2 374.9,338.6 375.3,338.3 375.7,339.2 376.1,339.8 376.5,339.8 376.9,340.7 377.3,341.9 377.7,341.3 378.1,339.9 378.5,340.4 378.9,341.4 379.3,341.9 379.7,341.5 380.1,341.2 380.5,341.0 380.9,340.5 381.3,340.8 381.7,340.7 382.1,340.4 382.5,339.6 382.9,339.4 383.3,338.9 383.7,338.8 384.1,339.2 384.5,338.7 384.9,338.0 385.3,336.9 385.7,336.3 386.1,335.5 386.5,335.9 386.9,336.8 387.3,337.8 387.7,337.9 388.1,337.8 388.5,338.1 388.9,337.9 389.3,337.7 389.7,337.3 390.1,336.4 390.5,336.0 390.9,336.6 391.3,337.2 391.7,338.7 392.1,340.2 392.5,340.5 392.9,339.8 393.3,339.5 393.7,340.1 394.1,340.2 394.5,339.9 394.9,338.7 395.3,338.5 395.7,338.8 396.1,338.4 396.5,338.9 396.9,340.4 397.3,340.8 397.7,340.0 398.1,339.0 398.5,338.5 398.9,339.3 399.3,340.0 399.7,340.3 400.1,340.2 400.5,340.1 400.9,339.5 401.3,339.2 401.7,339.1 402.1,337.5 402.5,335.6 402.9,335.0 403.3,335.0 403.7,336.1 404.1,337.8 404.5,338.4 404.9,338.3 405.3,338.3 405.7,337.6 406.1,337.0 406.5,337.3 406.9,338.6 407.3,339.7 407.7,339.3 408.1,340.4 408.5,340.8 408.9,339.7 409.3,338.9 409.7,338.4 410.1,338.5 410.5,338.8 410.9,339.1 411.3,340.5 411.7,341.8 412.1,341.9 412.5,341.2 412.9,340.0 413.3,338.2 413.7,336.3 414.1,335.7 414.5,335.1 414.9,335.0 415.3,336.4 415.7,336.2 416.1,336.9 416.5,337.9 416.9,336.8 417.3,335.9 417.7,334.7 418.1,334.3 418.5,335.0 418.9,336.2 419.3,337.5 419.7,338.2 420.1,338.5 420.5,338.0 420.9,337.6 421.3,337.8 421.7,336.7 422.1,336.3 422.5,337.4 422.9,337.3 423.3,336.8 423.7,337.0 424.1,336.6 424.5,335.6 424.9,336.1 425.3,336.8 425.7,338.1 426.1,339.1 426.5,340.1 426.9,339.2 427.3,337.3 427.7,336.5 428.1,336.5 428.5,338.1 428.9,339.9 429.3,339.8 429.7,338.5 430.1,338.6 430.5,338.9 430.9,338.3 431.3,337.2 431.7,335.5 432.1,335.2 432.5,334.8 432.9,335.0 433.3,335.5 433.7,335.3 434.1,334.6 434.5,334.2 434.9,333.1 435.3,333.1 435.7,334.3 436.1,334.0 436.5,332.6 436.9,332.6 437.3,333.6 437.7,334.9 438.1,335.1 438.5,334.1 438.9,332.7 439.3,333.3 439.7,334.2 440.1,334.5 440.5,334.8 440.9,335.5 441.3,337.1 441.7,336.9 442.1,334.8 442.5,333.8 442.9,334.3 443.3,333.7 443.7,334.9 444.1,335.6 444.5,334.4 444.9,333.8 445.3,333.0 445.7,332.5 445.7,148.1 446.4,135.9 446.8,131.0 447.2,127.5 447.6,125.0 448.0,124.1 448.4,122.6 448.8,122.7 449.2,121.9 449.6,121.0 450.0,121.4 450.4,120.6 450.8,121.0 451.2,122.5 451.6,122.2 452.0,122.0 452.4,120.5 452.8,119.2 453.2,119.6 453.6,119.9 454.0,120.7 454.4,120.2 454.8,119.5 455.2,119.3 455.6,119.3 456.0,119.8 456.4,121.3 456.8,121.5 457.2,121.4 457.6,120.1 458.0,119.3 458.4,118.4 458.8,117.9 459.2,118.8 459.6,119.8 460.0,120.6 460.4,119.7 460.8,119.3 461.2,119.3 461.6,118.9 462.0,118.0 462.4,118.1 462.8,118.4 463.2,118.5 463.6,119.4 464.0,119.1 464.4,119.0 464.8,119.0 465.2,119.2 465.6,119.4 466.0,119.3 466.4,118.7 466.8,117.6 467.2,116.5 467.6,116.3 468.0,117.0 468.4,117.2 468.8,117.6 469.2,117.2 469.6,116.8 470.0,116.6 470.4,117.0 470.8,117.4 471.2,118.2 471.6,118.2 472.0,117.9 472.4,118.5 472.8,117.6 473.2,117.5 473.6,115.9 474.0,115.8 474.4,116.5 474.8,116.9 475.2,117.0 475.6,117.4 476.0,117.3 476.4,118.0 476.8,118.1 477.2,116.8 477.6,117.3 478.0,117.4 478.4,117.9 478.8,117.5 479.2,118.2 479.6,118.1 480.0,117.2 480.4,117.0 480.8,115.5 481.2,114.9 481.6,115.4 482.0,116.1 482.4,116.5 482.8,116.5 483.2,116.6 483.6,116.2 484.0,114.9 484.4,115.0 484.8,115.0 485.2,115.8 485.6,116.7 486.0,116.8 486.4,116.2 486.8,116.0 487.2,115.6 487.6,114.1 488.0,113.7 488.4,114.0 488.8,113.7 489.2,114.7 489.6,114.2 490.0,113.5 490.4,112.7 490.8,113.3 491.2,114.1 491.6,114.5 492.0,114.2 492.4,114.3 492.8,115.1 493.2,114.9 493.6,113.8 494.0,113.9 494.4,115.2 494.8,115.2 495.2,116.0 495.6,115.9 496.0,114.8 496.4,114.6 496.8,114.7 497.2,114.3 497.6,113.9 498.0,113.9 498.4,114.5 498.8,114.5 499.2,114.8 499.6,114.7 500.0,114.0 500.4,114.4 500.8,113.1 501.2,113.8 501.6,113.8 502.0,113.1 502.4,114.0 502.8,114.2 503.2,113.1 503.6,113.0 504.0,112.1 504.4,112.3 504.8,112.3 505.2,112.3 505.6,112.6 506.0,112.4 506.4,112.9 506.8,113.0 507.2,112.7 507.6,113.1 508.0,112.5 508.4,111.2 508.8,112.3 509.2,112.8 509.6,113.7 510.0,113.3 510.4,113.2 510.8,113.0 511.2,112.6 511.6,112.8 512.0,112.3 512.4,113.5 512.8,112.6 513.2,111.8 513.6,111.8 514.0,111.9 514.4,113.2 514.8,114.1 515.2,115.2 515.6,114.0 516.0,113.7 516.4,112.3 516.8,112.2 517.2,110.9 517.6,111.2 518.0,111.1 518.4,112.2 518.8,112.8 519.2,111.9 519.6,111.2 520.0,110.3 520.4,109.7 520.8,110.3 521.2,111.0 521.6,111.5 522.0,112.1 522.4,111.9 522.8,110.8 523.2,110.7 523.6,111.0 524.0,111.5 524.4,112.1 524.8,112.7 525.2,112.3 525.6,112.2 526.0,112.3 526.4,112.7 526.8,111.9 527.2,110.8 527.6,111.2 528.0,111.9 528.4,111.1 528.8,111.6 529.2,112.0 529.6,112.0 530.0,111.8 530.4,110.8 530.8,110.9 531.2,110.7 531.6,111.8 532.0,111.1 532.4,110.3 532.8,109.5 533.2,109.3 533.6,109.2 534.0,109.2 534.4,109.5 534.8,109.5 535.2,110.6 535.6,110.5 536.0,109.8 536.4,109.4 536.8,109.4 537.2,109.1 537.6,108.6 538.0,110.7 538.4,111.4 538.8,110.7 539.2,109.9 539.6,109.5 540.0,109.9 540.4,109.5 540.8,108.9 541.2,108.9 541.6,108.0 542.0,109.2 542.4,110.2 542.8,109.9 543.2,109.5 543.6,109.1 544.0,109.4 544.4,109.3 544.8,108.7 545.2,108.3 545.6,108.1 546.0,109.1 546.4,110.0 546.8,109.9 547.2,109.1 547.6,109.1 548.0,109.5 548.4,110.1 548.8,109.9 549.2,110.1 549.6,110.3 550.0,111.0 550.4,110.5 550.8,109.8 551.2,109.4 551.6,109.4 552.0,108.6 552.4,109.3 552.8,109.6 553.2,109.4 553.6,110.0 554.0,109.9 554.4,109.7 554.8,110.1 555.2,110.1 555.6,110.4 556.0,109.8 556.4,109.9 556.8,110.3 557.2,109.4 557.6,110.1 558.0,108.7 558.4,108.8 558.8,108.6 559.2,109.5 559.6,110.4 560.0,109.5 560.4,109.8 560.8,109.5 561.2,108.7 561.6,109.2 562.0,108.9 562.4,108.8 562.8,109.0 563.2,110.4 563.6,109.2 564.0,108.9 564.4,109.6 564.8,110.2 565.2,110.4 565.6,110.5 566.0,110.1 566.4,110.2 566.8,109.3 567.2,108.8 567.6,109.4 568.0,110.0 568.4,110.1 568.8,109.2 569.2,108.6 569.6,108.8 570.0,109.1 570.4,110.3 570.8,110.2 571.2,110.6 571.6,110.4 572.0,110.0 572.4,110.5 572.8,110.2 573.2,109.5 573.6,109.2 574.0,109.0 574.4,109.1 574.8,109.2 575.2,109.8 575.6,110.3 576.0,108.1 576.4,107.7 576.8,108.2 577.2,108.7 577.6,109.2 578.0,109.0 578.4,109.3 578.8,109.6 579.2,109.0 579.6,108.9 580.0,108.5 580.4,108.1 580.8,107.8 581.2,107.1 581.6,107.9 582.0,108.9 582.4,109.4 582.8,109.4 583.2,108.8 583.6,109.8 584.0,109.3 584.4,109.1 584.8,108.9 585.2,107.6 585.6,108.4 586.0,108.8 586.4,108.8 586.8,108.4 587.2,108.4 587.6,107.8 588.0,108.0 588.4,108.0 588.8,107.2 589.2,107.6 589.6,107.7 590.0,107.6 590.4,108.3 590.8,109.5 591.2,109.9 591.6,109.3 592.0,109.5 592.4,110.0 592.8,109.8 593.2,110.2 593.6,110.9 594.0,109.9 594.4,107.7 594.8,106.4 595.2,106.1 595.6,106.0 596.0,107.4 596.4,108.3 596.8,109.1 597.2,108.4 597.6,108.7 598.0,109.2 598.4,110.3 598.8,109.9 599.2,108.8 599.6,109.0 600.0,109.0 600.4,108.5 600.8,108.2 601.2,108.4 601.6,109.1 602.0,109.3 602.4,109.8 602.8,109.5 603.2,108.8 603.6,108.1 604.0,108.5 604.4,108.8 604.8,109.4 605.2,110.0 605.6,109.5 606.0,109.2 606.4,108.5 606.8,109.1 607.2,108.5 607.6,108.3 608.0,108.6 608.4,109.5 608.8,109.3 609.2,108.6 609.6,108.4 610.0,108.5 610.4,107.5 610.8,107.0 611.2,105.8 611.6,106.2 612.0,107.6 612.4,108.5 612.8,109.0 613.2,109.2 613.6,109.5 614.0,108.8 614.4,108.7 614.8,108.3 615.2,109.0 615.6,109.2 616.0,108.2 616.4,107.9 616.8,107.6 617.2,108.4 617.6,108.5 618.0,108.4 618.4,108.5 618.4,169.5 619.1,168.2 619.5,167.3 619.9,168.0 620.3,168.3 620.7,168.4 621.1,167.1 621.5,166.8 621.9,168.2 622.3,169.0 622.7,168.4 623.1,167.9 623.5,168.0 623.9,167.2 624.3,167.0 624.7,167.2 625.1,167.8 625.5,168.4 625.9,168.2 626.3,168.5 626.7,167.9 627.1,166.3 627.5,166.0 627.9,166.6 628.3,167.0 628.7,166.9 629.1,166.6 629.5,167.7 629.9,168.3 630.3,167.2 630.7,166.3 631.1,166.7 631.5,167.2 631.9,167.7 632.3,167.8 632.7,167.9 633.1,167.8 633.5,167.2 633.9,165.5 634.3,165.6 634.7,166.4 635.1,166.3 635.5,166.6 635.9,166.3 636.3,166.2 636.7,166.1 637.1,166.3 637.5,166.8 637.9,166.9 638.3,167.6 638.7,168.5 639.1,167.5 639.5,166.7 639.9,167.7 640.3,168.5 640.7,169.0 641.1,168.6 641.5,167.4 641.9,167.9 642.3,168.1 642.7,167.2 643.1,165.6 643.5,164.2 643.9,165.5 644.3,166.8 644.7,165.7 645.1,165.7 645.5,166.9 645.9,167.8 646.3,167.4 646.7,166.0 647.1,166.2 647.5,166.6 647.9,165.9 648.3,166.9 648.7,168.6 649.1,168.5 649.5,166.5 649.9,164.6 650.3,165.4 650.7,166.4 651.1,166.5 651.5,167.6 651.9,168.8 652.3,167.2 652.7,165.8 653.1,166.0 653.5,166.0 653.9,166.0 654.3,166.5 654.7,167.0 655.1,166.3 655.5,165.5 655.9,165.9 656.3,166.5 656.7,166.7 657.1,167.4 657.5,167.0 657.9,166.2 658.3,167.2 658.7,168.7 659.1,168.5 659.5,167.4 659.9,166.7 660.3,165.5 660.7,165.1 661.1,166.2 661.5,166.8 661.9,166.8 662.3,166.6 662.7,166.3 663.1,166.2 663.5,166.8 663.9,167.1 664.3,166.8 664.7,166.1 665.1,164.9 665.5,165.6 665.9,167.7 666.3,168.4 666.7,167.2 667.1,165.8 667.5,165.3 667.9,166.2 668.3,166.3 668.7,165.6 669.1,166.3 669.5,166.9 669.9,166.3 670.3,165.6 670.7,165.6 671.1,165.8 671.5,166.7 671.9,166.4 672.3,166.0 672.7,167.2 673.1,167.5 673.5,167.1 673.9,167.4 674.3,166.5 674.7,166.5 675.1,166.3 675.5,165.2 675.9,166.0 676.3,166.3 676.7,165.7 677.1,165.3 677.5,165.4 677.9,164.8 678.3,164.6 678.7,164.8 679.1,165.4 679.5,166.2 679.9,165.3 680.3,164.9 680.7,165.5 681.1,166.3 681.5,167.1 681.9,167.0 682.3,166.1 682.7,165.8 683.1,166.4 683.5,167.0 683.9,166.7 684.3,165.3 684.7,165.2 685.1,167.4 685.5,167.9 685.9,167.0 686.3,166.3 686.7,165.4 687.1,164.9 687.5,165.2 687.9,165.3 688.3,164.8 688.7,164.5 689.1,165.4 689.5,166.1 689.9,165.8 690.3,165.0 690.7,164.2 691.1,164.8 691.5,165.1 691.9,164.2 692.3,164.2 692.7,165.2 693.1,165.7 693.5,166.0 693.9,166.2 694.3,166.2 694.7,165.4 695.1,164.7 695.5,165.2 695.9,165.9 696.3,166.2 696.7,165.9 697.1,166.1 697.5,167.2 697.9,167.8 698.3,167.8 698.7,167.6 699.1,167.4 699.5,167.4 699.9,167.4 700.3,166.9 700.7,166.6 701.1,167.3 701.5,168.1 701.9,167.0 702.3,165.9 702.7,165.7 703.1,165.9 703.5,165.6 703.9,164.4 704.3,164.0 704.7,164.6"/>
<path d="M101.5,167.1 101.9,167.4 102.3,167.4 102.7,167.0 103.1,166.6 103.5,166.3 103.9,166.3 104.3,166.2 104.7,166.1 105.1,166.3 105.5,166.9 105.9,167.3 106.3,167.4 106.7,167.7 107.1,167.9 107.5,167.8 107.9,167.7 108.3,168.0 108.7,168.0 109.1,167.9 109.5,167.9 109.9,167.9 110.3,167.8 110.7,167.6 111.1,167.5 111.5,167.5 111.9,167.4 112.3,167.1 112.7,167.2 113.1,167.4 113.5,167.6 113.9,167.6 114.3,167.6 114.7,167.4 115.1,167.3 115.5,167.7 115.9,168.1 116.3,168.4 116.7,168.4 117.1,168.3 117.5,168.3 117.9,168.3 118.3,168.4 118.7,168.6 119.1,168.8 119.5,168.7 119.9,168.6 120.3,168.2 120.7,167.8 121.1,167.8 121.5,167.9 121.9,167.9 122.3,168.0 122.7,168.1 123.1,167.9 123.5,167.6 123.9,167.6 124.3,167.6 124.7,167.3 125.1,167.1 125.5,167.1 125.9,167.3 126.3,167.8 126.7,168.4 127.1,168.7 127.5,168.7 127.9,168.6 128.3,168.5 128.7,168.2 129.1,167.9 129.5,167.8 129.9,167.6 130.3,167.4 130.7,167.2 131.1,167.0 131.5,167.0 131.9,167.1 132.3,167.3 132.7,167.5 133.1,167.6 133.5,167.7 133.9,167.6 134.3,167.3 134.7,166.8 135.1,166.2 135.1,147.7 135.9,148.1 136.3,148.7 136.7,149.0 137.1,149.3 137.5,149.7 137.9,149.9 138.3,150.3 138.7,150.6 139.1,150.6 139.5,150.4 139.9,149.9 140.3,149.4 140.7,149.0 141.1,148.7 141.5,148.6 141.9,148.9 142.3,149.4 142.7,149.4 143.1,149.1 143.5,148.9 143.9,149.0 143.9,167.2 144.7,166.9 145.1,166.6 145.5,166.6 145.9,167.1 146.3,167.9 146.7,168.5 147.1,168.8 147.5,168.6 147.9,168.0 148.3,167.4 148.7,166.9 149.1,166.7 149.5,166.7 149.9,167.3 150.3,167.9 150.7,168.1 151.1,167.8 151.5,167.3 151.9,166.9 152.3,167.0 152.7,167.6 153.1,168.1 153.5,168.2 153.9,167.7 154.3,167.3 154.7,167.1 155.1,167.0 155.5,167.0 155.9,167.3 156.3,167.5 156.7,167.4 157.1,167.1 157.5,166.9 157.9,166.9 158.3,167.1 158.7,167.1 159.1,167.0 159.5,167.0 159.9,166.8 160.3,166.7 160.7,167.0 161.1,167.7 161.5,168.0 161.9,168.2 162.3,168.3 162.7,168.1 163.1,167.9 163.5,168.0 163.9,168.1 164.3,168.0 164.7,167.8 165.1,167.7 165.5,167.7 165.9,167.4 166.3,167.0 166.7,166.9 167.1,167.0 167.5,166.9 167.9,166.8 168.3,167.0 168.7,167.1 169.1,167.0 169.5,166.8 169.9,166.5 170.3,166.4 170.7,166.4 171.1,166.6 171.5,167.0 171.9,167.4 172.3,167.6 172.7,168.0 173.1,168.2 173.5,167.8 173.9,167.2 174.3,166.9 174.7,167.0 175.1,167.0 175.5,167.1 175.9,167.4 176.3,167.8 176.7,167.7 177.1,167.5 177.5,167.4 177.9,167.7 178.3,168.0 178.7,168.0 179.1,167.4 179.5,167.0 179.9,167.4 180.3,168.1 180.7,168.2 181.1,167.7 181.5,167.2 181.9,167.0 182.3,166.9 182.7,166.8 183.1,167.2 183.5,167.9 183.9,168.2 184.3,168.0 184.7,167.9 185.1,167.9 185.5,167.5 185.9,167.2 186.3,167.3 186.7,167.8 186.7,469.4 187.3,462.3 187.7,453.8 188.1,446.4 188.5,439.2 188.9,431.7 189.3,426.5 189.7,423.9 190.1,421.1 190.5,417.1 190.9,413.5 191.3,411.9 191.7,410.4 192.1,409.5 192.5,407.9 192.9,406.3 193.3,404.5 193.7,402.2 194.1,400.8 194.5,398.8 194.9,395.9 195.3,393.3 195.7,390.6 196.1,389.9 196.5,388.7 196.9,387.3 197.3,387.0 197.7,386.4 198.1,386.1 198.5,386.9 198.9,387.5 199.3,386.7 199.7,385.3 200.1,383.0 200.5,382.3 200.9,382.0 201.3,380.9 201.7,379.7 202.1,378.7 202.5,378.5 202.9,378.9 203.3,377.9 203.7,377.8 204.1,378.5 204.5,378.0 204.9,377.8 205.3,375.6 205.7,374.6 206.1,373.6 206.5,373.5 206.9,373.6 207.3,374.7 207.7,375.6 208.1,376.3 208.5,377.8 208.9,378.2 209.3,376.5 209.7,376.0 210.1,375.1 210.5,375.0 210.9,374.8 211.3,371.6 211.7,370.5 212.1,370.1 212.5,371.0 212.9,373.1 213.3,375.7 213.7,374.5 214.1,374.3 214.5,373.5 214.9,371.8 215.3,372.1 215.7,372.7 216.1,371.6 216.5,371.2 216.9,370.8 217.3,369.5 217.7,369.9 218.1,371.4 218.5,371.4 218.9,370.2 219.3,370.1 219.7,370.2 220.1,370.1 220.5,369.9 220.9,368.5 221.3,366.4 221.7,363.6 222.1,362.5 222.5,362.4 222.9,361.7 223.3,362.7 223.7,363.2 224.1,363.9 224.5,365.1 224.9,364.3 225.3,363.4 225.7,363.7 226.1,365.5 226.5,366.6 226.9,364.4 227.3,365.1 227.7,366.4 228.1,366.5 228.5,363.7 228.9,361.5 229.3,362.7 229.7,362.4 230.1,362.5 230.5,362.2 230.9,362.7 231.3,364.1 231.7,365.2 232.1,364.2 232.5,361.9 232.9,360.8 233.3,359.9 233.7,359.8 234.1,360.1 234.5,360.0 234.9,359.1 235.3,359.5 235.7,360.7 236.1,361.4 236.5,362.2 236.9,363.7 237.3,362.9 237.7,362.6 238.1,362.3 238.5,361.1 238.9,359.2 239.3,360.4 239.7,359.4 240.1,358.4 240.5,360.4 240.9,362.3 241.3,360.3 241.7,357.5 242.1,357.1 242.5,357.2 242.9,355.7 243.3,356.3 243.7,358.5 244.1,360.7 244.5,360.2 244.9,359.5 245.3,357.5 245.7,357.0 246.1,358.7 246.5,358.8 246.9,358.1 247.3,359.5 247.7,360.0 248.1,359.1 248.5,359.5 248.9,359.5 249.3,358.3 249.7,357.0 250.1,355.7 250.5,354.4 250.9,353.4 251.3,353.7 251.7,354.2 252.1,355.7 252.5,356.4 252.9,356.7 253.3,358.7 253.7,360.2 254.1,359.1 254.5,357.3 254.9,358.1 255.3,357.6 255.7,356.3 256.1,355.3 256.5,355.5 256.9,355.9 257.3,354.5 257.7,352.7 258.1,352.0 258.5,353.0 258.9,355.1 259.3,356.2 259.7,354.9 260.1,354.8 260.5,354.3 260.9,353.5 261.3,353.4 261.7,352.6 262.1,351.2 262.5,352.3 262.9,355.1 263.3,355.9 263.7,355.5 264.1,354.6 264.5,354.5 264.9,354.8 265.3,353.9 265.7,352.9 266.1,353.1 266.5,352.4 266.9,350.6 267.3,350.8 267.7,350.3 268.1,349.3 268.5,349.9 268.9,351.3 269.3,352.9 269.7,353.5 270.1,352.8 270.5,353.6 270.9,355.8 271.3,356.0 271.7,355.6 272.1,355.4 272.5,354.5 272.9,352.1 273.3,351.3 273.7,350.3 274.1,351.0 274.5,351.4 274.9,350.6 275.3,351.6 275.7,352.1 276.1,352.1 276.5,351.8 276.9,350.7 277.3,350.7 277.7,352.0 278.1,351.9 278.5,350.1 278.9,349.8 279.3,351.9 279.7,351.6 280.1,349.6 280.5,347.9 280.9,347.6 281.3,347.8 281.7,348.0 282.1,349.5 282.5,349.5 282.9,348.8 283.3,347.2 283.7,346.0 284.1,345.4 284.5,345.1 284.9,344.3 285.3,344.2 285.7,345.0 286.1,346.3 286.5,347.4 286.9,346.6 287.3,345.9 287.7,346.9 288.1,347.6 288.5,346.6 288.9,346.9 289.3,348.1 289.7,349.9 290.1,350.6 290.5,350.2 290.9,350.4 291.3,350.9 291.7,350.7 292.1,349.9 292.5,348.9 292.9,347.6 293.3,347.5 293.7,347.7 294.1,346.6 294.5,345.9 294.9,344.8 295.3,344.8 295.7,344.4 296.1,344.3 296.5,345.1 296.9,344.9 297.3,345.0 297.7,345.3 298.1,346.0 298.5,347.1 298.9,346.6 299.3,346.0 299.7,345.1 300.1,345.1 300.5,345.0 300.9,344.5 301.3,344.6 301.7,346.0 302.1,347.6 302.5,347.1 302.9,346.3 303.3,346.1 303.7,346.8 304.1,345.3 304.5,343.2 304.9,341.9 305.3,340.9 305.7,341.3 306.1,342.4 306.5,342.9 306.9,343.0 307.3,344.3 307.7,346.1 308.1,346.0 308.5,344.7 308.9,345.8 309.3,346.3 309.7,344.7 310.1,343.4 310.5,342.6 310.9,343.2 311.3,342.5 311.7,342.4 312.1,344.3 312.5,346.3 312.9,345.4 313.3,345.4 313.7,347.3 314.1,348.7 314.5,348.6 314.9,345.9 315.3,344.3 315.7,344.7 316.1,345.0 316.5,344.6 316.9,343.4 317.3,341.0 317.7,340.5 318.1,341.7 318.5,343.3 318.9,344.1 319.3,344.5 319.7,345.7 320.1,348.0 320.5,349.3 320.9,349.3 321.3,347.6 321.7,346.6 322.1,344.7 322.5,343.9 322.9,343.5 323.3,342.9 323.7,342.0 324.1,341.7 324.5,341.8 324.9,342.2 325.3,343.2 325.7,343.6 326.1,344.4 326.5,345.5 326.9,344.9 327.3,343.9 327.7,343.1 328.1,342.8 328.5,342.4 328.9,341.9 329.3,343.2 329.7,344.2 330.1,343.7 330.5,342.1 330.9,341.3 331.3,342.3 331.7,343.7 332.1,344.4 332.5,343.8 332.9,343.8 333.3,344.1 333.7,343.3 334.1,343.7 334.5,343.5 334.9,342.4 335.3,342.9 335.7,342.9 336.1,342.3 336.5,341.6 336.9,342.0 337.3,343.1 337.7,343.1 338.1,343.0 338.5,342.7 338.9,343.1 339.3,343.0 339.7,341.7 340.1,341.6 340.5,342.7 340.9,342.4 341.3,341.4 341.7,342.0 342.1,343.5 342.5,343.8 342.9,342.3 343.3,342.7 343.7,343.4 344.1,342.4 344.5,341.1 344.9,339.5 345.3,341.3 345.7,342.0 346.1,342.4 346.5,345.4 346.9,347.4 347.3,347.6 347.7,346.6 348.1,344.5 348.5,342.8 348.9,342.4 349.3,342.8 349.7,342.8 350.1,342.1 350.5,342.4 350.9,343.2 351.3,344.1 351.7,345.6 352.1,344.7 352.5,341.4 352.9,339.5 353.3,338.8 353.7,339.8 354.1,341.8 354.5,342.2 354.9,342.4 355.3,342.9 355.7,342.6 356.1,341.2 356.5,340.9 356.9,341.9 357.3,342.2 357.7,342.1 358.1,341.5 358.5,340.2 358.9,340.3 359.3,340.8 359.7,341.7 360.1,341.2 360.5,340.0 360.9,340.1 361.3,339.5 361.7,340.0 362.1,339.6 362.5,338.4 362.9,338.6 363.3,339.9 363.7,340.8 364.1,341.0 364.5,340.7 364.9,339.3 365.3,339.1 365.7,338.9 366.1,338.9 366.5,340.3 366.9,339.8 367.3,338.8 367.7,339.7 368.1,340.7 368.5,341.1 368.9,340.8 369.3,341.9 369.7,342.7 370.1,343.2 370.5,343.7 370.9,343.1 371.3,342.6 371.7,343.3 372.1,343.6 372.5,342.8 372.9,341.4 373.3,340.5 373.7,341.3 374.1,340.8 374.5,339.6 374.9,340.4 375.3,341.4 375.7,341.7 376.1,342.0 376.5,340.9 376.9,338.6 377.3,338.3 377.7,339.0 378.1,339.8 378.5,339.5 378.9,338.1 379.3,339.1 379.7,340.9 380.1,342.2 380.5,342.3 380.9,340.8 381.3,340.3 381.7,340.6 382.1,341.2 382.5,341.3 382.9,343.1 383.3,344.3 383.7,343.5 384.1,341.8 384.5,342.1 384.9,342.1 385.3,340.4 385.7,340.0 386.1,340.6 386.5,341.2 386.9,340.8 387.3,340.0 387.7,339.4 388.1,339.7 388.5,340.5 388.9,341.4 389.3,341.6 389.7,341.1 390.1,339.8 390.5,340.1 390.9,340.0 391.3,340.2 391.7,340.0 392.1,340.2 392.5,339.9 392.9,338.6 393.3,338.4 393.7,338.7 394.1,338.5 394.5,337.5 394.9,337.8 395.3,337.9 395.7,337.6 396.1,337.3 396.5,337.4 396.9,339.1 397.3,339.9 397.7,340.0 398.1,338.2 398.5,337.3 398.9,337.6 399.3,337.2 399.7,338.3 400.1,339.0 400.5,339.9 400.9,340.9 401.3,341.7 401.7,342.5 402.1,341.5 402.5,340.3 402.9,340.6 403.3,339.9 403.7,339.5 404.1,338.5 404.5,338.8 404.9,339.8 405.3,339.0 405.7,338.2 406.1,338.0 406.5,338.3 406.9,338.4 407.3,336.7 407.7,336.4 408.1,337.5 408.5,337.5 408.9,338.9 409.3,340.6 409.7,340.2 410.1,339.2 410.5,338.2 410.9,337.5 411.3,337.3 411.7,338.0 412.1,339.1 412.5,339.0 412.9,337.9 413.3,337.6 413.7,337.4 414.1,335.8 414.5,335.8 414.9,336.2 415.3,336.1 415.7,336.7 416.1,337.1 416.5,335.8 416.9,335.5 417.3,336.1 417.7,336.7 418.1,337.1 418.5,338.5 418.9,338.2 419.3,337.0 419.7,335.7 420.1,334.3 420.5,334.2 420.9,335.5 421.3,336.0 421.7,336.4 422.1,337.1 422.5,336.8 422.9,336.8 423.3,336.0 423.7,335.3 424.1,335.7 424.5,335.7 424.9,336.8 425.3,337.0 425.7,337.9 426.1,338.7 426.5,337.6 426.9,336.0 427.3,335.4 427.7,334.7 428.1,334.1 428.5,334.6 428.9,335.8 429.3,335.6 429.7,334.1 430.1,334.6 430.5,335.5 430.9,335.2 431.3,335.0 431.7,335.5 432.1,335.0 432.5,335.7 432.9,335.3 433.3,333.0 433.7,333.1 434.1,333.8 434.5,333.8 434.9,333.7 435.3,334.1 435.7,334.5 436.1,335.8 436.5,336.1 436.9,334.7 437.3,333.7 437.7,333.9 438.1,334.5 438.5,334.8 438.9,335.0 439.3,334.7 439.7,333.4 440.1,333.1 440.5,335.2 440.9,335.6 441.3,333.3 441.7,332.6 442.1,333.5 442.5,334.3 442.9,335.2 443.3,336.4 443.7,337.2 444.1,338.2 444.5,338.4 444.9,338.0 445.3,338.1 445.7,337.5 445.7,148.6 446.4,142.4 446.8,139.9 447.2,137.3 447.6,137.1 448.0,135.7 448.4,134.7 448.8,134.3 449.2,133.8 449.6,134.7 450.0,135.8 450.4,135.8 450.8,135.0 451.2,134.1 451.6,133.5 452.0,133.9 452.4,133.1 452.8,132.1 453.2,131.2 453.6,131.3 454.0,131.0 454.4,132.3 454.8,132.3 455.2,131.8 455.6,131.7 456.0,132.7 456.4,132.7 456.8,132.3 457.2,133.1 457.6,133.2 458.0,133.0 458.4,132.8 458.8,132.9 459.2,132.8 459.6,132.6 460.0,132.5 460.4,132.8 460.8,133.4 461.2,132.5 461.6,132.0 462.0,133.0 462.4,133.1 462.8,134.1 463.2,133.8 463.6,133.5 464.0,132.2 464.4,132.5 464.8,133.0 465.2,132.9 465.6,132.3 466.0,132.8 466.4,132.4 466.8,132.1 467.2,132.6 467.6,132.9 468.0,132.8 468.4,132.2 468.8,132.8 469.2,132.3 469.6,131.8 470.0,132.0 470.4,134.3 470.8,134.8 471.2,134.3 471.6,132.9 472.0,132.4 472.4,133.3 472.8,134.1 473.2,134.7 473.6,134.5 474.0,134.4 474.4,133.8 474.8,133.6 475.2,133.3 475.6,133.5 476.0,133.0 476.4,133.0 476.8,132.9 477.2,132.4 477.6,132.6 478.0,131.1 478.4,131.7 478.8,133.0 479.2,134.3 479.6,133.7 480.0,134.2 480.4,133.4 480.8,132.9 481.2,131.7 481.6,132.5 482.0,133.0 482.4,133.4 482.8,134.2 483.2,133.1 483.6,132.6 484.0,131.8 484.4,131.6 484.8,132.8 485.2,134.2 485.6,135.5 486.0,136.1 486.4,135.6 486.8,135.8 487.2,134.7 487.6,133.7 488.0,134.2 488.4,134.2 488.8,133.4 489.2,132.6 489.6,132.9 490.0,133.6 490.4,133.3 490.8,133.6 491.2,134.2 491.6,135.5 492.0,134.6 492.4,134.3 492.8,134.5 493.2,134.7 493.6,134.4 494.0,134.9 494.4,134.6 494.8,134.1 495.2,134.1 495.6,133.6 496.0,133.8 496.4,133.5 496.8,133.6 497.2,132.9 497.6,133.1 498.0,132.9 498.4,133.7 498.8,134.1 499.2,134.6 499.6,135.1 500.0,135.2 500.4,134.6 500.8,133.3 501.2,134.2 501.6,133.9 502.0,133.9 502.4,133.5 502.8,133.8 503.2,133.2 503.6,133.8 504.0,134.1 504.4,134.0 504.8,133.4 505.2,132.9 505.6,132.0 506.0,132.9 506.4,133.0 506.8,133.0 507.2,133.1 507.6,132.9 508.0,132.8 508.4,133.7 508.8,134.0 509.2,133.2 509.6,134.0 510.0,134.2 510.4,134.3 510.8,133.5 511.2,133.0 511.6,132.8 512.0,133.2 512.4,133.3 512.8,134.5 513.2,134.5 513.6,133.9 514.0,133.9 514.4,132.9 514.8,133.7 515.2,134.0 515.6,132.9 516.0,133.5 516.4,134.1 516.8,135.0 517.2,135.1 517.6,135.5 518.0,134.5 518.4,133.8 518.8,133.2 519.2,133.5 519.6,133.3 520.0,133.5 520.4,134.1 520.8,134.4 521.2,135.2 521.6,134.5 522.0,133.6 522.4,132.8 522.8,133.7 523.2,134.2 523.6,133.5 524.0,133.4 524.4,133.1 524.8,132.5 525.2,132.7 525.6,132.5 526.0,131.6 526.4,131.1 526.8,131.9 527.2,132.1 527.6,133.2 528.0,132.7 528.4,132.8 528.8,132.8 529.2,133.1 529.6,132.6 530.0,131.8 530.4,131.3 530.8,130.8 531.2,131.9 531.6,132.2 532.0,133.4 532.4,133.2 532.8,132.6 533.2,133.4 533.6,132.4 534.0,133.5 534.4,132.7 534.8,133.1 535.2,133.4 535.6,131.6 536.0,131.7 536.4,132.5 536.8,132.2 537.2,131.9 537.6,131.8 538.0,131.8 538.4,132.8 538.8,133.7 539.2,132.9 539.6,132.9 540.0,133.5 540.4,134.1 540.8,133.4 541.2,133.2 541.6,132.3 542.0,131.7 542.4,131.8 542.8,132.4 543.2,132.7 543.6,132.3 544.0,132.0 544.4,132.3 544.8,133.0 545.2,132.8 545.6,132.9 546.0,133.0 546.4,133.0 546.8,132.7 547.2,132.6 547.6,133.1 548.0,132.3 548.4,131.9 548.8,131.3 549.2,132.0 549.6,132.0 550.0,132.8 550.4,131.9 550.8,131.9 551.2,131.8 551.6,132.2 552.0,131.7 552.4,132.7 552.8,132.2 553.2,131.9 553.6,131.5 554.0,131.4 554.4,131.5 554.8,131.2 555.2,132.7 555.6,133.4 556.0,133.6 556.4,133.9 556.8,134.0 557.2,132.6 557.6,132.5 558.0,133.8 558.4,133.3 558.8,133.1 559.2,132.4 559.6,132.3 560.0,132.5 560.4,131.8 560.8,130.4 561.2,130.3 561.6,131.1 562.0,131.7 562.4,131.5 562.8,130.6 563.2,130.6 563.6,131.6 564.0,132.1 564.4,132.6 564.8,132.0 565.2,131.7 565.6,131.9 566.0,131.9 566.4,131.8 566.8,131.7 567.2,131.6 567.6,131.8 568.0,132.7 568.4,132.2 568.8,131.4 569.2,131.9 569.6,132.8 570.0,133.1 570.4,133.1 570.8,133.9 571.2,133.2 571.6,132.7 572.0,132.1 572.4,132.8 572.8,133.5 573.2,132.6 573.6,132.8 574.0,133.3 574.4,133.0 574.8,132.4 575.2,131.4 575.6,131.5 576.0,131.6 576.4,133.0 576.8,132.2 577.2,131.7 577.6,132.3 578.0,132.3 578.4,133.1 578.8,133.0 579.2,132.9 579.6,132.4 580.0,132.4 580.4,132.3 580.8,132.2 581.2,132.0 581.6,131.7 582.0,131.6 582.4,132.4 582.8,132.6 583.2,132.8 583.6,132.7 584.0,133.4 584.4,133.4 584.8,134.1 585.2,133.9 585.6,133.6 586.0,133.5 586.4,133.1 586.8,132.9 587.2,131.4 587.6,131.1 588.0,131.3 588.4,131.4 588.8,132.1 589.2,131.9 589.6,132.3 590.0,133.7 590.4,132.3 590.8,131.8 591.2,131.8 591.6,132.1 592.0,131.6 592.4,132.5 592.8,132.6 593.2,132.6 593.6,131.9 594.0,130.9 594.4,130.4 594.8,130.2 595.2,132.0 595.6,132.3 596.0,133.2 596.4,134.4 596.8,134.0 597.2,134.0 597.6,132.6 598.0,131.5 598.4,130.6 598.8,130.5 599.2,131.2 599.6,130.6 600.0,130.1 600.4,130.7 600.8,131.3 601.2,130.7 601.6,131.2 602.0,131.4 602.4,132.1 602.8,131.7 603.2,132.2 603.6,130.8 604.0,130.3 604.4,130.3 604.8,130.8 605.2,131.3 605.6,131.4 606.0,130.9 606.4,131.1 606.8,131.9 607.2,132.0 607.6,131.2 608.0,130.6 608.4,130.8 608.8,130.9 609.2,132.4 609.6,132.8 610.0,132.1 610.4,131.8 610.8,131.4 611.2,131.0 611.6,131.2 612.0,131.8 612.4,131.3 612.8,131.1 613.2,131.9 613.6,132.7 614.0,133.4 614.4,133.0 614.8,132.9 615.2,132.2 615.6,131.3 616.0,130.6 616.4,129.5 616.8,130.6 617.2,131.0 617.6,130.4 618.0,129.6 618.4,129.5 618.4,167.1 619.1,166.9 619.5,167.0 619.9,167.8 620.3,168.9 620.7,169.4 621.1,169.6 621.5,169.0 621.9,167.8 622.3,168.3 622.7,169.5 623.1,169.0 623.5,166.7 623.9,165.9 624.3,166.7 624.7,166.6 625.1,166.4 625.5,166.5 625.9,165.6 626.3,165.0 626.7,166.1 627.1,167.2 627.5,167.8 627.9,167.9 628.3,167.2 628.7,166.3 629.1,165.5 629.5,165.1 629.9,166.1 630.3,167.5 630.7,168.3 631.1,168.2 631.5,166.6 631.9,165.6 632.3,166.7 632.7,166.9 633.1,165.4 633.5,164.9 633.9,166.0 634.3,166.4 634.7,165.6 635.1,165.3 635.5,164.9 635.9,164.5 636.3,164.8 636.7,165.5 637.1,165.5 637.5,164.6 637.9,164.6 638.3,166.0 638.7,165.8 639.1,165.3 639.5,165.2 639.9,165.3 640.3,165.0 640.7,165.5 641.1,166.1 641.5,166.1 641.9,165.3 642.3,165.1 642.7,166.2 643.1,166.8 643.5,165.7 643.9,165.4 644.3,165.6 644.7,166.1 645.1,166.5 645.5,166.4 645.9,166.2 646.3,165.9 646.7,165.3 647.1,164.8 647.5,164.3 647.9,164.5 648.3,164.9 648.7,165.6 649.1,166.4 649.5,166.6 649.9,166.6 650.3,165.9 650.7,164.6 651.1,165.1 651.5,165.6 651.9,165.2 652.3,165.0 652.7,166.1 653.1,167.1 653.5,167.0 653.9,166.4 654.3,166.7 654.7,167.4 655.1,167.9 655.5,167.4 655.9,166.4 656.3,165.9 656.7,165.9 657.1,165.7 657.5,165.6 657.9,165.7 658.3,165.1 658.7,164.9 659.1,165.3 659.5,165.0 659.9,164.4 660.3,164.2 660.7,165.3 661.1,165.7 661.5,165.7 661.9,165.9 662.3,165.7 662.7,165.9 663.1,166.7 663.5,166.5 663.9,166.9 664.3,167.0 664.7,165.9 665.1,165.2 665.5,165.3 665.9,165.8 666.3,165.3 666.7,165.2 667.1,166.4 667.5,166.4 667.9,165.8 668.3,166.4 668.7,167.3 669.1,168.4 669.5,167.7 669.9,165.8 670.3,164.9 670.7,164.8 671.1,165.3 671.5,165.8 671.9,166.0 672.3,165.2 672.7,164.2 673.1,164.9 673.5,166.6 673.9,166.8 674.3,165.9 674.7,165.3 675.1,165.2 675.5,164.8 675.9,164.5 676.3,165.2 676.7,165.1 677.1,164.4 677.5,163.8 677.9,165.0 678.3,165.6 678.7,165.0 679.1,165.9 679.5,165.9 679.9,164.6 680.3,164.5 680.7,165.8 681.1,166.2 681.5,165.9 681.9,165.3 682.3,165.1 682.7,165.4 683.1,165.3 683.5,165.1 683.9,164.1 684.3,163.6 684.7,164.3 685.1,165.0 685.5,164.2 685.9,164.3 686.3,165.6 686.7,166.8 687.1,168.0 687.5,168.0 687.9,167.0 688.3,165.5 688.7,164.0 689.1,164.0 689.5,164.6 689.9,164.5 690.3,163.9 690.7,163.9 691.1,164.8 691.5,166.0 691.9,166.0 692.3,165.3 692.7,165.2 693.1,165.2 693.5,164.8 693.9,164.3 694.3,164.3 694.7,165.6 695.1,166.5 695.5,166.4 695.9,166.3 696.3,166.8 696.7,167.1 697.1,165.8 697.5,164.3 697.9,164.5 698.3,165.9 698.7,166.8 699.1,166.8 699.5,166.4 699.9,165.3 700.3,164.0 700.7,163.6 701.1,163.5 701.5,163.8 701.9,164.2 702.3,164.7 702.7,164.5 703.1,164.2 703.5,165.4 703.9,165.6 704.3,164.8 704.7,165.3"/>
<path d="M101.5,166.6 101.9,166.9 102.3,167.3 102.7,167.4 103.1,167.3 103.5,167.0 103.9,166.8 104.3,167.0 104.7,167.7 105.1,168.3 105.5,168.3 105.9,167.7 106.3,167.4 106.7,167.4 107.1,167.3 107.5,167.2 107.9,167.4 108.3,167.8 108.7,167.5 109.1,166.7 109.5,166.3 109.9,166.6 110.3,167.1 110.7,167.2 111.1,167.0 111.5,166.8 111.9,167.1 112.3,167.4 112.7,167.4 113.1,167.3 113.5,167.3 113.9,167.1 114.3,166.9 114.7,166.8 115.1,167.0 115.5,167.4 115.9,167.4 116.3,167.3 116.7,167.3 117.1,167.2 117.5,167.0 117.9,167.1 118.3,167.3 118.7,167.0 119.1,166.6 119.5,166.4 119.9,166.1 120.3,165.9 120.7,166.0 121.1,166.6 121.5,167.2 121.9,167.6 122.3,167.9 122.7,168.1 123.1,168.0 123.5,167.6 123.9,167.5 124.3,168.1 124.7,169.0 125.1,169.2 125.5,168.7 125.9,168.3 126.3,168.0 126.7,168.0 127.1,167.9 127.5,167.8 127.9,167.7 128.3,167.5 128.7,167.0 129.1,166.6 129.5,166.5 129.9,166.6 130.3,166.9 130.7,167.1 131.1,167.0 131.5,166.9 131.9,166.7 132.3,166.6 132.7,166.5 133.1,166.7 133.5,166.9 133.9,167.0 134.3,167.2 134.7,167.3 135.1,167.4 135.1,149.2 135.9,148.9 136.3,148.4 136.7,148.1 137.1,148.0 137.5,148.2 137.9,148.4 138.3,148.4 138.7,148.8 139.1,149.3 139.5,149.7 139.9,150.0 140.3,150.1 140.7,149.8 141.1,149.3 141.5,149.1 141.9,149.3 142.3,149.2 142.7,149.0 143.1,148.6 143.5,148.4 143.9,148.2 143.9,166.4 144.7,166.6 145.1,167.3 145.5,168.1 145.9,168.3 146.3,168.0 146.7,167.8 147.1,167.9 147.5,168.0 147.9,167.7 148.3,167.4 148.7,167.6 149.1,168.2 149.5,168.2 149.9,167.4 150.3,166.9 150.7,167.1 151.1,167.4 151.5,167.7 151.9,167.7 152.3,167.1 152.7,166.4 153.1,166.2 153.5,166.4 153.9,166.6 154.3,166.7 154.7,166.6 155.1,166.5 155.5,166.5 155.9,166.7 156.3,167.2 156.7,167.7 157.1,167.8 157.5,167.6 157.9,167.6 158.3,168.0 158.7,168.1 159.1,168.1 159.5,168.2 159.9,168.4 160.3,168.3 160.7,168.1 161.1,167.6 161.5,167.1 161.9,166.9 162.3,167.1 162.7,167.3 163.1,167.4 163.5,167.4 163.9,167.2 164.3,166.9 164.7,166.9 165.1,167.2 165.5,167.4 165.9,167.4 166.3,167.4 166.7,167.3 167.1,166.9 167.5,166.4 167.9,166.4 168.3,167.0 168.7,167.3 169.1,167.1 169.5,166.8 169.9,166.6 170.3,166.7 170.7,166.4 171.1,165.9 171.5,165.9 171.9,166.6 172.3,167.2 172.7,167.4 173.1,167.6 173.5,167.3 173.9,166.9 174.3,167.0 174.7,167.3 175.1,167.3 175.5,167.3 175.9,167.3 176.3,167.0 176.7,166.6 177.1,166.4 177.5,166.5 177.9,166.7 178.3,166.8 178.7,166.8 179.1,166.7 179.5,166.6 179.9,166.7 180.3,167.2 180.7,167.9 181.1,168.3 181.5,168.2 181.9,167.8 182.3,167.6 182.7,167.6 183.1,167.6 183.5,167.7 183.9,167.9 184.3,168.0 184.7,168.1 185.1,167.9 185.5,167.5 185.9,167.1 186.3,166.7 186.7,166.6 186.7,467.1 187.3,461.9 187.7,454.7 188.1,446.5 188.5,437.7 188.9,431.4 189.3,427.2 189.7,425.1 190.1,423.0 190.5,419.7 190.9,417.0 191.3,415.0 191.7,412.7 192.1,410.7 192.5,407.9 192.9,405.7 193.3,403.9 193.7,400.8 194.1,398.4 194.5,396.5 194.9,395.7 195.3,395.1 195.7,393.9 196.1,391.5 196.5,389.3 196.9,387.3 197.3,385.5 197.7,385.3 198.1,384.3 198.5,381.1 198.9,381.1 199.3,383.5 199.7,383.6 200.1,384.5 200.5,385.1 200.9,386.1 201.3,385.8 201.7,384.3 202.1,383.3 202.5,382.6 202.9,383.2 203.3,384.4 203.7,383.7 204.1,381.6 204.5,380.3 204.9,379.4 205.3,378.0 205.7,376.3 206.1,375.3 206.5,375.8 206.9,376.4 207.3,376.9 207.7,377.0 208.1,376.7 208.5,376.2 208.9,377.7 209.3,377.8 209.7,377.5 210.1,377.6 210.5,377.4 210.9,376.1 211.3,374.2 211.7,372.4 212.1,371.3 212.5,371.9 212.9,371.6 213.3,371.7 213.7,372.0 214.1,369.8 214.5,370.7 214.9,372.8 215.3,373.5 215.7,372.7 216.1,370.3 216.5,369.8 216.9,370.7 217.3,370.8 217.7,371.0 218.1,369.4 218.5,367.8 218.9,366.7 219.3,365.5 219.7,364.7 220.1,364.0 220.5,364.0 220.9,364.0 221.3,363.5 221.7,361.8 222.1,361.9 222.5,363.9 222.9,364.6 223.3,364.1 223.7,364.2 224.1,364.9 224.5,366.1 224.9,365.0 225.3,364.8 225.7,362.6 226.1,360.8 226.5,359.5 226.9,359.8 227.3,362.1 227.7,363.8 228.1,364.0 228.5,364.9 228.9,367.3 229.3,367.2 229.7,365.4 230.1,364.4 230.5,364.2 230.9,364.1 231.3,363.7 231.7,362.0 232.1,361.3 232.5,361.5 232.9,363.2 233.3,363.8 233.7,362.7 234.1,363.0 234.5,363.4 234.9,362.3 235.3,362.4 235.7,364.3 236.1,365.1 236.5,365.2 236.9,365.7 237.3,363.8 237.7,361.7 238.1,362.4 238.5,363.7 238.9,364.8 239.3,363.5 239.7,362.1 240.1,361.1 240.5,359.1 240.9,356.9 241.3,356.8 241.7,357.7 242.1,360.0 242.5,361.1 242.9,359.2 243.3,358.3 243.7,358.1 244.1,357.7 244.5,357.7 244.9,358.5 245.3,358.6 245.7,356.5 246.1,354.9 246.5,355.2 246.9,357.3 247.3,357.2 247.7,354.9 248.1,354.9 248.5,357.5 248.9,359.6 249.3,360.0 249.7,359.5 250.1,359.4 250.5,358.9 250.9,358.8 251.3,359.6 251.7,358.0 252.1,355.8 252.5,354.5 252.9,353.4 253.3,354.0 253.7,354.4 254.1,353.9 254.5,355.7 254.9,356.7 255.3,354.5 255.7,352.2 256.1,352.1 256.5,353.1 256.9,353.7 257.3,355.0 257.7,356.9 258.1,358.2 258.5,358.6 258.9,358.2 259.3,358.9 259.7,358.1 260.1,356.3 260.5,355.6 260.9,357.0 261.3,357.7 261.7,358.8 262.1,357.7 262.5,355.2 262.9,355.1 263.3,356.9 263.7,356.7 264.1,355.4 264.5,354.7 264.9,354.0 265.3,353.0 265.7,352.9 266.1,352.8 266.5,352.8 266.9,352.6 267.3,352.0 267.7,352.9 268.1,354.0 268.5,355.4 268.9,356.4 269.3,356.7 269.7,356.3 270.1,355.7 270.5,355.2 270.9,354.7 271.3,353.6 271.7,353.3 272.1,353.4 272.5,352.5 272.9,351.6 273.3,351.0 273.7,351.8 274.1,351.5 274.5,351.7 274.9,352.2 275.3,352.5 275.7,351.7 276.1,350.6 276.5,350.2 276.9,350.7 277.3,350.8 277.7,352.0 278.1,351.8 278.5,349.3 278.9,349.3 279.3,351.2 279.7,352.1 280.1,351.2 280.5,350.0 280.9,349.3 281.3,349.4 281.7,350.6 282.1,350.8 282.5,350.5 282.9,351.5 283.3,351.9 283.7,350.8 284.1,349.7 284.5,348.5 284.9,348.1 285.3,348.9 285.7,349.0 286.1,349.0 286.5,349.8 286.9,351.1 287.3,351.7 287.7,350.2 288.1,348.9 288.5,346.6 288.9,344.6 289.3,345.4 289.7,345.6 290.1,345.7 290.5,347.2 290.9,348.7 291.3,347.4 291.7,347.5 292.1,348.7 292.5,347.8 292.9,346.0 293.3,346.1 293.7,346.3 294.1,346.9 294.5,347.8 294.9,347.9 295.3,348.8 295.7,349.5 296.1,348.1 296.5,348.3 296.9,348.5 297.3,347.3 297.7,346.7 298.1,346.8 298.5,347.5 298.9,347.8 299.3,348.4 299.7,348.1 300.1,346.7 300.5,345.8 300.9,345.9 301.3,345.7 301.7,345.5 302.1,346.6 302.5,347.0 302.9,346.9 303.3,346.8 303.7,348.6 304.1,349.7 304.5,348.0 304.9,346.0 305.3,346.1 305.7,346.3 306.1,346.2 306.5,346.1 306.9,346.0 307.3,345.4 307.7,344.9 308.1,344.4 308.5,345.0 308.9,345.8 309.3,345.9 309.7,346.2 310.1,345.9 310.5,346.1 310.9,347.1 311.3,347.9 311.7,347.5 312.1,347.3 312.5,346.0 312.9,346.3 313.3,347.3 313.7,346.9 314.1,345.4 314.5,345.1 314.9,345.7 315.3,345.2 315.7,345.6 316.1,345.8 316.5,346.8 316.9,348.3 317.3,347.9 317.7,345.8 318.1,343.9 318.5,344.0 318.9,344.1 319.3,344.1 319.7,344.2 320.1,343.3 320.5,344.2 320.9,345.0 321.3,345.5 321.7,346.2 322.1,344.7 322.5,344.1 322.9,343.4 323.3,342.0 323.7,342.5 324.1,344.4 324.5,346.4 324.9,347.0 325.3,346.3 325.7,344.4 326.1,342.5 326.5,342.8 326.9,343.3 327.3,344.4 327.7,345.4 328.1,345.6 328.5,344.6 328.9,343.4 329.3,342.0 329.7,341.6 330.1,341.4 330.5,341.9 330.9,341.5 331.3,341.9 331.7,342.4 332.1,343.2 332.5,344.0 332.9,343.8 333.3,343.9 333.7,344.5 334.1,346.2 334.5,347.1 334.9,348.8 335.3,348.7 335.7,345.4 336.1,344.5 336.5,345.2 336.9,345.5 337.3,344.7 337.7,344.5 338.1,344.5 338.5,344.5 338.9,343.8 339.3,342.8 339.7,340.2 340.1,340.6 340.5,343.0 340.9,342.8 341.3,342.6 341.7,344.2 342.1,344.2 342.5,343.5 342.9,343.0 343.3,343.8 343.7,343.8 344.1,343.1 344.5,344.1 344.9,345.0 345.3,346.1 345.7,345.9 346.1,344.2 346.5,343.3 346.9,343.5 347.3,343.5 347.7,342.7 348.1,342.8 348.5,343.4 348.9,343.8 349.3,344.0 349.7,343.1 350.1,341.6 350.5,341.5 350.9,343.1 351.3,343.2 351.7,342.8 352.1,342.3 352.5,341.6 352.9,341.6 353.3,341.3 353.7,342.2 354.1,343.1 354.5,344.2 354.9,343.9 355.3,343.7 355.7,344.8 356.1,345.7 356.5,345.3 356.9,345.1 357.3,345.7 357.7,346.9 358.1,345.4 358.5,344.3 358.9,346.5 359.3,347.7 359.7,346.8 360.1,347.4 360.5,345.9 360.9,344.4 361.3,342.9 361.7,341.7 362.1,340.8 362.5,340.5 362.9,341.1 363.3,342.9 363.7,342.8 364.1,343.2 364.5,343.2 364.9,342.5 365.3,342.4 365.7,342.2 366.1,342.2 366.5,342.8 366.9,342.9 367.3,341.9 367.7,341.2 368.1,341.3 368.5,342.1 368.9,342.9 369.3,342.9 369.7,342.5 370.1,342.9 370.5,343.4 370.9,343.9 371.3,343.7 371.7,343.3 372.1,343.2 372.5,344.1 372.9,344.9 373.3,343.7 373.7,343.4 374.1,343.5 374.5,344.0 374.9,343.3 375.3,340.1 375.7,338.1 376.1,340.0 376.5,340.9 376.9,340.2 377.3,340.7 377.7,340.6 378.1,339.9 378.5,341.4 378.9,342.2 379.3,341.3 379.7,339.7 380.1,338.8 380.5,338.6 380.9,338.8 381.3,339.0 381.7,340.7 382.1,340.9 382.5,341.0 382.9,343.4 383.3,343.6 383.7,342.5 384.1,341.6 384.5,340.2 384.9,339.7 385.3,338.5 385.7,339.7 386.1,342.3 386.5,342.9 386.9,341.8 387.3,341.3 387.7,341.9 388.1,341.5 388.5,341.4 388.9,341.3 389.3,341.0 389.7,341.6 390.1,342.0 390.5,343.8 390.9,343.7 391.3,344.0 391.7,344.9 392.1,345.8 392.5,345.6 392.9,344.4 393.3,343.2 393.7,341.8 394.1,340.0 394.5,337.8 394.9,336.7 395.3,337.3 395.7,339.0 396.1,339.6 396.5,339.7 396.9,339.7 397.3,339.0 397.7,337.8 398.1,336.7 398.5,337.0 398.9,338.9 399.3,338.9 399.7,337.4 400.1,337.6 400.5,338.6 400.9,338.8 401.3,337.9 401.7,338.4 402.1,339.1 402.5,338.2 402.9,338.5 403.3,339.2 403.7,339.9 404.1,341.5 404.5,341.5 404.9,340.6 405.3,340.4 405.7,341.5 406.1,341.6 406.5,340.4 406.9,339.4 407.3,338.7 407.7,339.4 408.1,340.3 408.5,340.3 408.9,339.9 409.3,339.3 409.7,338.2 410.1,338.2 410.5,339.0 410.9,338.3 411.3,337.6 411.7,338.6 412.1,339.9 412.5,340.3 412.9,339.8 413.3,339.2 413.7,339.7 414.1,340.1 414.5,338.8 414.9,337.7 415.3,337.6 415.7,337.0 416.1,337.3 416.5,337.4 416.9,337.7 417.3,337.6 417.7,338.4 418.1,338.8 418.5,337.0 418.9,335.9 419.3,336.0 419.7,335.6 420.1,335.2 420.5,335.4 420.9,336.8 421.3,337.4 421.7,337.2 422.1,338.6 422.5,339.8 422.9,339.8 423.3,338.5 423.7,338.3 424.1,339.0 424.5,338.0 424.9,337.2 425.3,337.0 425.7,336.6 426.1,335.9 426.5,335.9 426.9,337.1 427.3,337.1 427.7,337.9 428.1,339.8 428.5,339.6 428.9,338.3 429.3,338.2 429.7,338.2 430.1,337.3 430.5,336.8 430.9,338.0 431.3,338.1 431.7,336.8 432.1,336.0 432.5,336.6 432.9,337.0 433.3,336.5 433.7,336.6 434.1,337.1 434.5,337.8 434.9,337.2 435.3,336.0 435.7,336.9 436.1,338.5 436.5,338.2 436.9,338.5 437.3,339.0 437.7,339.7 438.1,339.1 438.5,338.4 438.9,338.2 439.3,339.1 439.7,339.7 440.1,338.6 440.5,336.9 440.9,336.7 441.3,334.9 441.7,333.5 442.1,334.0 442.5,334.3 442.9,334.6 443.3,335.1 443.7,335.5 444.1,335.2 444.5,335.1 444.9,336.3 445.3,336.8 445.7,337.6 445.7,156.1 446.4,153.0 446.8,151.7 447.2,150.5 447.6,150.0 448.0,150.1 448.4,149.3 448.8,148.8 449.2,149.1 449.6,148.6 450.0,148.4 450.4,148.9 450.8,147.8 451.2,148.2 451.6,147.4 452.0,148.0 452.4,148.8 452.8,149.5 453.2,148.6 453.6,148.7 454.0,148.1 454.4,147.9 454.8,149.5 455.2,149.5 455.6,149.4 456.0,149.4 456.4,148.4 456.8,149.5 457.2,149.5 457.6,149.3 458.0,149.6 458.4,149.4 458.8,149.6 459.2,148.6 459.6,148.3 460.0,147.7 460.4,147.6 460.8,146.6 461.2,146.9 461.6,147.5 462.0,148.2 462.4,149.3 462.8,150.7 463.2,149.8 463.6,148.8 464.0,148.4 464.4,147.8 464.8,148.6 465.2,150.5 465.6,149.6 466.0,148.6 466.4,147.7 466.8,146.5 467.2,146.3 467.6,147.6 468.0,148.8 468.4,149.2 468.8,149.2 469.2,148.2 469.6,148.5 470.0,149.3 470.4,148.6 470.8,149.0 471.2,149.0 471.6,148.4 472.0,148.5 472.4,147.3 472.8,147.1 473.2,147.0 473.6,147.4 474.0,147.3 474.4,148.5 474.8,149.3 475.2,149.9 475.6,148.8 476.0,149.3 476.4,149.1 476.8,148.6 477.2,147.8 477.6,148.3 478.0,148.5 478.4,148.2 478.8,147.8 479.2,147.4 479.6,147.6 480.0,148.3 480.4,148.8 480.8,148.1 481.2,147.7 481.6,147.4 482.0,148.1 482.4,148.0 482.8,148.2 483.2,148.2 483.6,148.3 484.0,148.3 484.4,148.2 484.8,148.4 485.2,148.7 485.6,148.8 486.0,148.7 486.4,148.9 486.8,149.8 487.2,149.5 487.6,149.8 488.0,149.7 488.4,149.2 488.8,148.6 489.2,148.6 489.6,148.0 490.0,148.2 490.4,147.8 490.8,148.6 491.2,149.2 491.6,148.7 492.0,148.4 492.4,148.0 492.8,146.9 493.2,147.5 493.6,148.1 494.0,149.7 494.4,149.3 494.8,148.8 495.2,148.5 495.6,147.9 496.0,148.4 496.4,148.5 496.8,147.8 497.2,147.9 497.6,147.9 498.0,148.4 498.4,148.4 498.8,147.9 499.2,147.4 499.6,147.1 500.0,146.5 500.4,147.4 500.8,147.8 501.2,147.8 501.6,148.1 502.0,148.6 502.4,148.3 502.8,147.9 503.2,148.3 503.6,147.6 504.0,148.1 504.4,148.3 504.8,148.2 505.2,148.1 505.6,147.6 506.0,147.4 506.4,147.9 506.8,148.3 507.2,148.0 507.6,148.7 508.0,148.8 508.4,148.8 508.8,148.5 509.2,148.4 509.6,148.2 510.0,147.1 510.4,147.0 510.8,146.3 511.2,146.6 511.6,147.3 512.0,147.1 512.4,147.7 512.8,148.3 513.2,148.5 513.6,148.7 514.0,148.3 514.4,148.0 514.8,148.0 515.2,147.9 515.6,147.4 516.0,147.2 516.4,147.5 516.8,148.1 517.2,148.1 517.6,149.2 518.0,148.8 518.4,148.7 518.8,146.9 519.2,146.8 519.6,147.6 520.0,148.1 520.4,147.7 520.8,148.0 521.2,147.3 521.6,147.7 522.0,147.6 522.4,147.9 522.8,147.1 523.2,146.5 523.6,145.8 524.0,146.6 524.4,146.7 524.8,147.2 525.2,147.5 525.6,147.6 526.0,148.7 526.4,149.1 526.8,147.8 527.2,146.1 527.6,145.2 528.0,145.9 528.4,147.1 528.8,149.0 529.2,148.9 529.6,148.2 530.0,148.5 530.4,148.1 530.8,147.3 531.2,148.6 531.6,148.0 532.0,146.3 532.4,146.2 532.8,146.8 533.2,146.6 533.6,145.9 534.0,145.6 534.4,145.8 534.8,146.2 535.2,147.2 535.6,147.7 536.0,147.8 536.4,147.8 536.8,146.7 537.2,147.7 537.6,147.1 538.0,147.7 538.4,147.8 538.8,148.1 539.2,148.5 539.6,148.8 540.0,147.5 540.4,147.4 540.8,147.5 541.2,147.7 541.6,148.1 542.0,148.9 542.4,148.1 542.8,147.9 543.2,148.3 543.6,148.7 544.0,148.7 544.4,147.7 544.8,147.0 545.2,146.6 545.6,147.0 546.0,147.3 546.4,146.3 546.8,146.8 547.2,146.4 547.6,147.3 548.0,147.1 548.4,146.3 548.8,145.3 549.2,146.9 549.6,147.3 550.0,148.3 550.4,148.6 550.8,147.2 551.2,146.9 551.6,146.3 552.0,146.0 552.4,146.5 552.8,147.3 553.2,146.9 553.6,147.3 554.0,147.3 554.4,147.0 554.8,146.8 555.2,146.1 555.6,147.2 556.0,148.0 556.4,147.6 556.8,148.0 557.2,148.1 557.6,147.5 558.0,147.2 558.4,147.5 558.8,148.0 559.2,148.2 559.6,147.2 560.0,147.2 560.4,146.5 560.8,146.6 561.2,147.2 561.6,147.7 562.0,148.1 562.4,149.0 562.8,147.8 563.2,147.0 563.6,146.9 564.0,146.6 564.4,146.8 564.8,147.2 565.2,146.4 565.6,146.8 566.0,147.1 566.4,147.4 566.8,147.5 567.2,147.7 567.6,147.1 568.0,147.0 568.4,146.5 568.8,146.6 569.2,146.9 569.6,147.6 570.0,147.9 570.4,147.8 570.8,147.0 571.2,146.3 571.6,145.4 572.0,145.4 572.4,146.0 572.8,146.2 573.2,146.9 573.6,147.0 574.0,147.9 574.4,148.3 574.8,148.6 575.2,147.9 575.6,147.7 576.0,148.0 576.4,147.4 576.8,148.5 577.2,148.4 577.6,148.0 578.0,149.3 578.4,149.3 578.8,149.5 579.2,149.6 579.6,149.6 580.0,148.9 580.4,147.6 580.8,147.6 581.2,147.4 581.6,148.0 582.0,147.5 582.4,147.2 582.8,146.9 583.2,147.5 583.6,147.2 584.0,147.7 584.4,147.7 584.8,147.4 585.2,147.8 585.6,148.3 586.0,149.1 586.4,150.3 586.8,149.9 587.2,149.0 587.6,148.3 588.0,148.1 588.4,148.0 588.8,148.1 589.2,148.0 589.6,147.1 590.0,146.4 590.4,147.6 590.8,147.8 591.2,147.8 591.6,147.8 592.0,146.4 592.4,146.2 592.8,146.1 593.2,146.8 593.6,146.5 594.0,147.2 594.4,147.7 594.8,146.8 595.2,146.3 595.6,147.4 596.0,147.2 596.4,148.7 596.8,149.4 597.2,149.8 597.6,149.1 598.0,148.5 598.4,148.4 598.8,147.4 599.2,147.5 599.6,147.1 600.0,148.1 600.4,148.5 600.8,148.6 601.2,148.7 601.6,148.7 602.0,147.6 602.4,148.2 602.8,148.3 603.2,147.5 603.6,147.4 604.0,147.6 604.4,147.0 604.8,147.0 605.2,147.5 605.6,146.8 606.0,146.8 606.4,145.7 606.8,144.7 607.2,144.0 607.6,145.4 608.0,146.4 608.4,146.3 608.8,147.3 609.2,146.7 609.6,146.7 610.0,147.9 610.4,148.4 610.8,148.5 611.2,148.6 611.6,148.9 612.0,148.5 612.4,147.1 612.8,146.0 613.2,146.3 613.6,146.3 614.0,147.8 614.4,147.9 614.8,148.2 615.2,148.1 615.6,148.7 616.0,148.3 616.4,147.7 616.8,147.8 617.2,147.2 617.6,147.1 618.0,147.0 618.4,146.7 618.4,166.7 619.1,166.3 619.5,166.5 619.9,167.3 620.3,166.4 620.7,164.8 621.1,164.8 621.5,164.7 621.9,164.6 622.3,164.9 622.7,165.4 623.1,165.4 623.5,164.6 623.9,164.1 624.3,165.0 624.7,165.8 625.1,165.5 625.5,166.0 625.9,166.2 626.3,165.8 626.7,165.6 627.1,165.1 627.5,164.8 627.9,165.0 628.3,166.1 628.7,166.7 629.1,166.1 629.5,165.4 629.9,164.0 630.3,163.8 630.7,165.0 631.1,166.2 631.5,165.9 631.9,165.1 632.3,164.3 632.7,165.0 633.1,165.6 633.5,164.5 633.9,163.5 634.3,164.8 634.7,166.5 635.1,166.8 635.5,165.6 635.9,164.3 636.3,164.8 636.7,165.5 637.1,165.2 637.5,165.2 637.9,165.2 638.3,165.4 638.7,165.7 639.1,166.2 639.5,167.3 639.9,166.6 640.3,165.4 640.7,164.8 641.1,164.7 641.5,164.2 641.9,163.3 642.3,163.4 642.7,164.4 643.1,163.8 643.5,162.1 643.9,162.2 644.3,163.8 644.7,164.9 645.1,165.0 645.5,164.6 645.9,164.9 646.3,164.8 646.7,164.6 647.1,165.2 647.5,166.0 647.9,166.2 648.3,165.7 648.7,164.7 649.1,164.0 649.5,163.7 649.9,163.9 650.3,164.2 650.7,164.8 651.1,165.6 651.5,165.9 651.9,165.9 652.3,165.9 652.7,166.0 653.1,166.0 653.5,166.1 653.9,166.1 654.3,165.7 654.7,164.6 655.1,163.5 655.5,164.1 655.9,166.0 656.3,166.1 656.7,165.5 657.1,165.0 657.5,165.7 657.9,166.5 658.3,165.2 658.7,164.5 659.1,164.2 659.5,163.4 659.9,163.1 660.3,163.6 660.7,164.1 661.1,164.6 661.5,164.8 661.9,164.5 662.3,165.4 662.7,166.4 663.1,165.5 663.5,163.3 663.9,162.5 664.3,164.4 664.7,165.3 665.1,165.2 665.5,165.5 665.9,165.0 666.3,164.4 666.7,164.2 667.1,164.5 667.5,164.4 667.9,164.8 668.3,165.5 668.7,164.9 669.1,164.2 669.5,165.1 669.9,165.3 670.3,164.4 670.7,164.2 671.1,164.6 671.5,164.7 671.9,165.1 672.3,165.3 672.7,165.6 673.1,166.0 673.5,165.0 673.9,165.2 674.3,167.1 674.7,167.5 675.1,165.9 675.5,164.5 675.9,164.4 676.3,165.3 676.7,165.0 677.1,164.6 677.5,165.4 677.9,166.5 678.3,167.0 678.7,167.5 679.1,166.9 679.5,165.8 679.9,165.4 680.3,165.8 680.7,166.4 681.1,166.5 681.5,166.2 681.9,165.9 682.3,166.1 682.7,166.0 683.1,164.8 683.5,164.6 683.9,165.8 684.3,165.7 684.7,164.9 685.1,164.6 685.5,164.0 685.9,163.2 686.3,163.3 686.7,163.6 687.1,164.4 687.5,165.2 687.9,165.6 688.3,165.3 688.7,165.0 689.1,164.5 689.5,163.9 689.9,164.0 690.3,165.0 690.7,165.0 691.1,164.5 691.5,164.5 691.9,164.2 692.3,164.3 692.7,165.2 693.1,165.6 693.5,164.5 693.9,163.5 694.3,164.4 694.7,165.6 695.1,165.4 695.5,165.5 695.9,165.4 696.3,165.2 696.7,164.3 697.1,163.5 697.5,164.7 697.9,166.2 698.3,165.8 698.7,165.2 699.1,164.7 699.5,164.8 699.9,165.3 700.3,166.2 700.7,166.7 701.1,165.6 701.5,164.4 701.9,163.6 702.3,162.8 702.7,163.1 703.1,163.9 703.5,164.2 703.9,165.5 704.3,165.7 704.7,164.5"/>
<path d="M101.5,166.9 101.9,167.1 102.3,167.5 102.7,167.8 103.1,167.7 103.5,167.3 103.9,167.3 104.3,167.4 104.7,167.4 105.1,167.3 105.5,167.3 105.9,167.3 106.3,167.5 106.7,167.6 107.1,167.6 107.5,167.3 107.9,166.9 108.3,166.8 108.7,166.8 109.1,167.0 109.5,167.1 109.9,167.4 110.3,168.0 110.7,168.5 111.1,168.1 111.5,167.1 111.9,166.4 112.3,166.7 112.7,167.2 113.1,167.5 113.5,167.5 113.9,167.5 114.3,167.4 114.7,167.5 115.1,167.7 115.5,167.8 115.9,167.9 116.3,167.9 116.7,167.9 117.1,168.1 117.5,168.3 117.9,168.4 118.3,168.3 118.7,168.3 119.1,168.2 119.5,168.0 119.9,167.9 120.3,167.9 120.7,168.1 121.1,168.1 121.5,167.8 121.9,167.6 122.3,167.9 122.7,168.4 123.1,168.4 123.5,168.0 123.9,167.6 124.3,167.6 124.7,168.1 125.1,168.5 125.5,168.5 125.9,168.4 126.3,168.2 126.7,168.0 127.1,167.6 127.5,167.4 127.9,167.5 128.3,167.7 128.7,167.7 129.1,167.3 129.5,166.9 129.9,166.7 130.3,166.6 130.7,166.7 131.1,167.3 131.5,168.0 131.9,168.2 132.3,167.9 132.7,167.6 133.1,167.5 133.5,167.5 133.9,167.7 134.3,168.0 134.7,168.0 135.1,167.8 135.1,149.5 135.9,149.6 136.3,149.4 136.7,149.0 137.1,148.8 137.5,148.8 137.9,149.1 138.3,149.3 138.7,149.3 139.1,148.9 139.5,148.3 139.9,148.3 140.3,149.0 140.7,149.6 141.1,149.8 141.5,149.6 141.9,149.3 142.3,149.3 142.7,149.3 143.1,149.2 143.5,149.3 143.9,149.7 143.9,168.3 144.7,168.3 145.1,168.2 145.5,167.8 145.9,167.2 146.3,166.8 146.7,167.2 147.1,168.3 147.5,168.8 147.9,168.3 148.3,167.6 148.7,167.6 149.1,167.8 149.5,167.8 149.9,167.6 150.3,167.3 150.7,167.1 151.1,167.0 151.5,167.2 151.9,167.4 152.3,167.3 152.7,167.3 153.1,167.5 153.5,167.8 153.9,168.1 154.3,168.0 154.7,167.6 155.1,167.2 155.5,167.3 155.9,167.5 156.3,167.3 156.7,167.2 157.1,167.4 157.5,167.7 157.9,167.7 158.3,167.7 158.7,168.1 159.1,168.5 159.5,168.6 159.9,168.4 160.3,168.1 160.7,167.6 161.1,167.3 161.5,167.2 161.9,167.4 162.3,167.6 162.7,167.8 163.1,167.9 163.5,167.8 163.9,167.4 164.3,166.8 164.7,166.5 165.1,166.3 165.5,166.4 165.9,166.6 166.3,166.6 166.7,166.6 167.1,167.0 167.5,167.6 167.9,168.0 168.3,168.0 168.7,167.9 169.1,167.8 169.5,168.0 169.9,168.0 170.3,167.6 170.7,167.1 171.1,166.9 171.5,167.0 171.9,167.4 172.3,168.1 172.7,168.8 173.1,169.0 173.5,168.9 173.9,168.8 174.3,169.2 174.7,169.7 175.1,170.0 175.5,169.7 175.9,169.0 176.3,168.6 176.7,168.4 177.1,168.1 177.5,167.8 177.9,167.7 178.3,167.9 178.7,168.1 179.1,167.9 179.5,167.4 179.9,167.2 180.3,167.6 180.7,167.7 181.1,167.2 181.5,166.9 181.9,167.0 182.3,167.1 182.7,167.5 183.1,168.1 183.5,168.1 183.9,167.4 184.3,167.2 184.7,168.0 185.1,168.7 185.5,168.8 185.9,168.3 186.3,167.7 186.7,167.4 186.7,465.3 187.3,460.5 187.7,452.4 188.1,445.3 188.5,438.3 188.9,432.2 189.3,427.4 189.7,423.4 190.1,419.6 190.5,416.5 190.9,413.9 191.3,413.3 191.7,412.4 192.1,410.9 192.5,409.0 192.9,407.2 193.3,405.3 193.7,403.4 194.1,401.1 194.5,400.2 194.9,399.3 195.3,398.1 195.7,395.5 196.1,393.6 196.5,392.8 196.9,391.9 197.3,390.5 197.7,388.9 198.1,388.2 198.5,388.1 198.9,386.9 199.3,384.4 199.7,382.4 200.1,382.1 200.5,382.3 200.9,382.3 201.3,383.7 201.7,385.2 202.1,385.5 202.5,384.3 202.9,382.5 203.3,380.4 203.7,380.1 204.1,380.1 204.5,379.6 204.9,381.2 205.3,381.5 205.7,380.2 206.1,379.2 206.5,377.0 206.9,376.4 207.3,377.1 207.7,377.3 208.1,376.3 208.5,375.8 208.9,376.7 209.3,376.2 209.7,376.4 210.1,377.7 210.5,378.2 210.9,377.9 211.3,376.7 211.7,375.5 212.1,374.9 212.5,371.2 212.9,367.8 213.3,366.7 213.7,367.5 214.1,370.4 214.5,371.4 214.9,372.2 215.3,372.3 215.7,371.3 216.1,369.9 216.5,368.1 216.9,367.3 217.3,366.9 217.7,367.0 218.1,367.6 218.5,369.0 218.9,368.6 219.3,366.8 219.7,365.7 220.1,367.3 220.5,368.1 220.9,367.0 221.3,366.5 221.7,368.1 222.1,368.3 222.5,366.4 222.9,365.9 223.3,364.6 223.7,365.3 224.1,366.2 224.5,365.1 224.9,364.4 225.3,364.2 225.7,365.4 226.1,367.2 226.5,366.0 226.9,363.0 227.3,361.5 227.7,362.1 228.1,363.6 228.5,363.5 228.9,363.4 229.3,362.1 229.7,361.3 230.1,362.2 230.5,361.4 230.9,360.5 231.3,360.8 231.7,361.5 232.1,362.0 232.5,362.9 232.9,365.2 233.3,365.8 233.7,365.1 234.1,363.7 234.5,363.3 234.9,363.6 235.3,364.4 235.7,364.3 236.1,363.1 236.5,361.5 236.9,360.6 237.3,361.1 237.7,362.0 238.1,362.4 238.5,363.2 238.9,364.8 239.3,363.3 239.7,360.5 240.1,359.8 240.5,360.4 240.9,362.2 241.3,363.1 241.7,362.3 242.1,362.4 242.5,362.3 242.9,362.9 243.3,362.8 243.7,361.7 244.1,360.9 244.5,359.8 244.9,358.9 245.3,358.9 245.7,360.0 246.1,360.1 246.5,359.4 246.9,358.8 247.3,358.2 247.7,357.7 248.1,358.9 248.5,360.6 248.9,361.0 249.3,361.2 249.7,359.6 250.1,358.7 250.5,359.3 250.9,358.9 251.3,357.4 251.7,357.2 252.1,357.2 252.5,356.3 252.9,354.7 253.3,353.7 253.7,353.4 254.1,355.0 254.5,356.5 254.9,356.2 255.3,353.7 255.7,352.5 256.1,353.0 256.5,353.3 256.9,351.5 257.3,352.2 257.7,354.2 258.1,353.1 258.5,351.3 258.9,352.3 259.3,354.3 259.7,355.2 260.1,355.2 260.5,355.5 260.9,356.4 261.3,356.6 261.7,356.8 262.1,356.5 262.5,356.3 262.9,356.8 263.3,356.2 263.7,356.2 264.1,355.8 264.5,355.5 264.9,354.6 265.3,353.6 265.7,353.8 266.1,354.8 266.5,355.6 266.9,355.0 267.3,354.1 267.7,354.5 268.1,354.6 268.5,354.3 268.9,353.0 269.3,353.3 269.7,353.1 270.1,353.4 270.5,353.2 270.9,353.3 271.3,352.0 271.7,350.6 272.1,351.3 272.5,352.4 272.9,352.1 273.3,350.3 273.7,349.9 274.1,350.4 274.5,351.2 274.9,352.0 275.3,351.8 275.7,352.0 276.1,353.3 276.5,354.0 276.9,354.4 277.3,353.9 277.7,353.5 278.1,352.4 278.5,352.1 278.9,352.1 279.3,352.1 279.7,351.9 280.1,352.2 280.5,352.2 280.9,352.6 281.3,353.9 281.7,354.9 282.1,353.6 282.5,352.9 282.9,352.7 283.3,352.7 283.7,351.9 284.1,351.2 284.5,350.9 284.9,351.6 285.3,350.4 285.7,348.4 286.1,349.2 286.5,349.4 286.9,348.7 287.3,349.6 287.7,350.4 288.1,350.1 288.5,349.0 288.9,347.5 289.3,348.0 289.7,348.2 290.1,347.7 290.5,347.4 290.9,347.8 291.3,348.7 291.7,350.4 292.1,351.8 292.5,352.6 292.9,351.9 293.3,351.5 293.7,349.8 294.1,348.1 294.5,347.0 294.9,347.0 295.3,347.0 295.7,347.8 296.1,348.7 296.5,348.4 296.9,349.0 297.3,349.7 297.7,349.3 298.1,349.0 298.5,349.5 298.9,349.7 299.3,349.5 299.7,348.5 300.1,347.2 300.5,347.5 300.9,347.5 301.3,345.9 301.7,344.6 302.1,343.7 302.5,344.8 302.9,346.8 303.3,347.3 303.7,347.8 304.1,349.3 304.5,350.0 304.9,349.2 305.3,346.8 305.7,345.6 306.1,345.4 306.5,345.3 306.9,346.1 307.3,345.2 307.7,345.1 308.1,345.4 308.5,346.4 308.9,347.7 309.3,348.2 309.7,348.3 310.1,347.5 310.5,346.2 310.9,346.3 311.3,345.3 311.7,344.8 312.1,344.3 312.5,344.0 312.9,344.2 313.3,344.3 313.7,345.4 314.1,345.4 314.5,345.3 314.9,345.4 315.3,345.4 315.7,345.6 316.1,346.2 316.5,345.3 316.9,345.6 317.3,345.9 317.7,346.1 318.1,346.5 318.5,346.6 318.9,347.6 319.3,347.6 319.7,346.8 320.1,345.8 320.5,344.0 320.9,343.0 321.3,343.7 321.7,345.0 322.1,346.3 322.5,345.9 322.9,346.7 323.3,348.1 323.7,348.8 324.1,347.8 324.5,347.0 324.9,346.1 325.3,345.3 325.7,345.1 326.1,345.9 326.5,347.3 326.9,347.3 327.3,347.2 327.7,347.7 328.1,347.9 328.5,348.1 328.9,348.1 329.3,348.0 329.7,347.1 330.1,345.7 330.5,346.8 330.9,347.6 331.3,346.4 331.7,346.2 332.1,346.7 332.5,346.8 332.9,345.6 333.3,343.9 333.7,343.4 334.1,343.4 334.5,344.0 334.9,345.3 335.3,345.4 335.7,345.0 336.1,345.8 336.5,346.9 336.9,347.4 337.3,347.6 337.7,347.1 338.1,346.5 338.5,345.3 338.9,344.0 339.3,342.4 339.7,342.4 340.1,343.4 340.5,343.8 340.9,344.2 341.3,344.2 341.7,344.7 342.1,346.6 342.5,346.8 342.9,345.3 343.3,345.4 343.7,346.1 344.1,346.0 344.5,344.5 344.9,343.3 345.3,344.1 345.7,345.1 346.1,346.5 346.5,347.3 346.9,347.7 347.3,347.6 347.7,346.6 348.1,345.3 348.5,344.8 348.9,343.3 349.3,341.4 349.7,341.0 350.1,341.4 350.5,342.0 350.9,342.0 351.3,341.4 351.7,342.1 352.1,341.9 352.5,341.5 352.9,342.1 353.3,341.8 353.7,342.4 354.1,344.7 354.5,345.8 354.9,345.8 355.3,346.6 355.7,346.4 356.1,345.8 356.5,346.3 356.9,345.4 357.3,344.0 357.7,342.9 358.1,344.0 358.5,344.5 358.9,344.5 359.3,344.4 359.7,346.0 360.1,346.9 360.5,345.2 360.9,342.1 361.3,342.4 361.7,342.0 362.1,340.5 362.5,341.8 362.9,343.7 363.3,344.3 363.7,343.3 364.1,343.2 364.5,343.4 364.9,343.4 365.3,343.1 365.7,343.4 366.1,342.9 366.5,341.8 366.9,342.3 367.3,342.1 367.7,342.8 368.1,344.0 368.5,344.2 368.9,344.5 369.3,344.9 369.7,344.6 370.1,343.5 370.5,343.1 370.9,344.1 371.3,344.6 371.7,344.4 372.1,344.1 372.5,343.7 372.9,342.0 373.3,340.5 373.7,341.0 374.1,341.9 374.5,342.0 374.9,341.1 375.3,341.1 375.7,341.5 376.1,341.2 376.5,341.3 376.9,341.9 377.3,342.6 377.7,343.5 378.1,343.9 378.5,344.7 378.9,345.2 379.3,345.3 379.7,344.0 380.1,343.9 380.5,344.3 380.9,343.3 381.3,342.5 381.7,342.5 382.1,341.7 382.5,340.4 382.9,340.3 383.3,340.0 383.7,339.8 384.1,339.9 384.5,340.5 384.9,341.7 385.3,341.9 385.7,341.5 386.1,341.8 386.5,342.7 386.9,343.3 387.3,343.6 387.7,343.2 388.1,343.5 388.5,343.9 388.9,343.0 389.3,342.7 389.7,341.6 390.1,339.9 390.5,339.5 390.9,340.6 391.3,340.4 391.7,339.6 392.1,339.5 392.5,340.7 392.9,340.7 393.3,340.5 393.7,341.0 394.1,341.3 394.5,341.7 394.9,341.9 395.3,341.1 395.7,340.4 396.1,341.7 396.5,341.9 396.9,341.4 397.3,341.1 397.7,339.0 398.1,338.4 398.5,340.4 398.9,339.8 399.3,337.6 399.7,337.4 400.1,337.9 400.5,338.2 400.9,340.8 401.3,343.6 401.7,344.0 402.1,343.1 402.5,342.2 402.9,341.3 403.3,341.2 403.7,340.8 404.1,340.0 404.5,340.3 404.9,341.3 405.3,339.9 405.7,338.3 406.1,338.8 406.5,340.7 406.9,340.9 407.3,339.6 407.7,339.4 408.1,339.3 408.5,337.7 408.9,336.2 409.3,336.1 409.7,336.8 410.1,337.1 410.5,337.4 410.9,338.7 411.3,339.5 411.7,338.8 412.1,337.8 412.5,337.3 412.9,335.3 413.3,333.9 413.7,333.6 414.1,334.6 414.5,334.6 414.9,334.3 415.3,336.3 415.7,339.1 416.1,340.0 416.5,340.1 416.9,340.1 417.3,338.8 417.7,338.2 418.1,337.5 418.5,337.0 418.9,337.2 419.3,338.0 419.7,339.0 420.1,340.4 420.5,341.4 420.9,340.5 421.3,340.4 421.7,340.5 422.1,339.4 422.5,338.8 422.9,338.3 423.3,337.8 423.7,338.6 424.1,339.1 424.5,337.5 424.9,336.9 425.3,338.0 425.7,338.4 426.1,338.6 426.5,338.5 426.9,338.8 427.3,339.2 427.7,338.7 428.1,337.6 428.5,336.3 428.9,335.4 429.3,335.9 429.7,337.6 430.1,338.9 430.5,339.0 430.9,338.8 431.3,338.1 431.7,337.6 432.1,337.8 432.5,338.2 432.9,337.3 433.3,337.3 433.7,336.8 434.1,336.9 434.5,337.3 434.9,338.1 435.3,338.6 435.7,337.7 436.1,337.2 436.5,337.3 436.9,337.5 437.3,338.0 437.7,337.9 438.1,337.7 438.5,337.4 438.9,336.8 439.3,336.2 439.7,334.9 440.1,335.6 440.5,336.1 440.9,335.6 441.3,336.0 441.7,337.0 442.1,336.4 442.5,335.1 442.9,335.3 443.3,335.9 443.7,335.1 444.1,335.1 444.5,334.8 444.9,333.9 445.3,333.8 445.7,333.5 445.7,159.0 446.4,158.4 446.8,158.0 447.2,157.6 447.6,157.7 448.0,156.7 448.4,156.6 448.8,156.1 449.2,156.3 449.6,157.4 450.0,158.0 450.4,157.4 450.8,156.2 451.2,156.3 451.6,156.0 452.0,156.8 452.4,158.1 452.8,158.1 453.2,158.3 453.6,158.8 454.0,158.8 454.4,158.2 454.8,158.5 455.2,158.3 455.6,159.2 456.0,159.1 456.4,158.1 456.8,159.0 457.2,159.3 457.6,158.7 458.0,158.3 458.4,158.1 458.8,157.9 459.2,158.9 459.6,159.2 460.0,158.8 460.4,158.7 460.8,158.2 461.2,158.4 461.6,158.3 462.0,158.7 462.4,158.2 462.8,157.8 463.2,159.1 463.6,160.2 464.0,159.9 464.4,159.3 464.8,159.2 465.2,158.2 465.6,158.5 466.0,158.2 466.4,158.7 466.8,158.2 467.2,157.7 467.6,157.8 468.0,157.8 468.4,158.2 468.8,159.2 469.2,159.2 469.6,159.7 470.0,158.8 470.4,159.0 470.8,159.1 471.2,159.1 471.6,159.0 472.0,157.7 472.4,158.7 472.8,159.4 473.2,160.1 473.6,161.0 474.0,161.2 474.4,161.1 474.8,160.3 475.2,159.6 475.6,159.7 476.0,159.7 476.4,159.3 476.8,159.2 477.2,159.8 477.6,160.5 478.0,161.1 478.4,160.5 478.8,160.6 479.2,160.9 479.6,160.7 480.0,161.2 480.4,162.5 480.8,162.1 481.2,161.1 481.6,160.5 482.0,160.5 482.4,160.4 482.8,160.0 483.2,160.4 483.6,159.8 484.0,159.9 484.4,160.2 484.8,160.0 485.2,159.4 485.6,161.2 486.0,161.5 486.4,161.9 486.8,160.8 487.2,160.4 487.6,161.1 488.0,161.3 488.4,160.8 488.8,161.0 489.2,160.7 489.6,160.7 490.0,159.5 490.4,159.7 490.8,159.3 491.2,160.4 491.6,159.8 492.0,160.6 492.4,161.6 492.8,161.4 493.2,161.2 493.6,160.9 494.0,160.7 494.4,160.0 494.8,160.5 495.2,160.5 495.6,160.4 496.0,160.0 496.4,160.3 496.8,160.5 497.2,161.3 497.6,161.9 498.0,162.6 498.4,162.6 498.8,161.6 499.2,161.9 499.6,161.3 500.0,161.9 500.4,160.9 500.8,161.9 501.2,161.4 501.6,161.5 502.0,161.2 502.4,161.5 502.8,161.3 503.2,161.9 503.6,162.1 504.0,162.7 504.4,163.4 504.8,162.8 505.2,161.7 505.6,161.4 506.0,160.9 506.4,161.1 506.8,160.6 507.2,159.8 507.6,158.9 508.0,160.4 508.4,160.3 508.8,161.3 509.2,162.2 509.6,161.8 510.0,162.5 510.4,161.4 510.8,160.9 511.2,160.7 511.6,161.8 512.0,162.2 512.4,162.5 512.8,161.9 513.2,160.4 513.6,160.1 514.0,161.7 514.4,161.8 514.8,162.1 515.2,162.3 515.6,162.7 516.0,162.7 516.4,161.8 516.8,161.6 517.2,162.4 517.6,162.9 518.0,163.0 518.4,163.0 518.8,162.4 519.2,162.6 519.6,162.7 520.0,163.9 520.4,164.5 520.8,164.4 521.2,163.7 521.6,162.6 522.0,162.1 522.4,162.7 522.8,163.0 523.2,162.9 523.6,163.0 524.0,163.1 524.4,163.2 524.8,163.1 525.2,162.6 525.6,162.5 526.0,162.6 526.4,163.1 526.8,162.5 527.2,161.5 527.6,161.5 528.0,161.8 528.4,162.8 528.8,163.2 529.2,163.6 529.6,162.5 530.0,162.4 530.4,163.3 530.8,163.5 531.2,162.6 531.6,161.6 532.0,161.1 532.4,161.1 532.8,162.2 533.2,163.3 533.6,163.7 534.0,164.4 534.4,164.3 534.8,164.2 535.2,164.4 535.6,162.8 536.0,161.3 536.4,161.8 536.8,162.6 537.2,163.1 537.6,164.0 538.0,163.8 538.4,163.4 538.8,164.6 539.2,164.7 539.6,164.1 540.0,164.1 540.4,162.5 540.8,162.6 541.2,162.3 541.6,162.6 542.0,163.3 542.4,162.8 542.8,162.5 543.2,162.6 543.6,161.9 544.0,162.1 544.4,162.0 544.8,163.1 545.2,163.8 545.6,164.0 546.0,163.0 546.4,163.5 546.8,163.3 547.2,164.4 547.6,163.5 548.0,162.9 548.4,162.8 548.8,163.6 549.2,163.5 549.6,163.8 550.0,162.9 550.4,163.2 550.8,163.4 551.2,163.3 551.6,163.0 552.0,164.5 552.4,164.7 552.8,165.9 553.2,165.3 553.6,165.8 554.0,165.0 554.4,164.8 554.8,164.0 555.2,163.0 555.6,162.5 556.0,162.3 556.4,164.3 556.8,164.1 557.2,164.0 557.6,163.1 558.0,164.0 558.4,163.7 558.8,162.7 559.2,162.5 559.6,162.8 560.0,163.4 560.4,163.8 560.8,163.0 561.2,163.1 561.6,163.8 562.0,164.7 562.4,165.3 562.8,164.8 563.2,164.3 563.6,165.7 564.0,165.6 564.4,166.0 564.8,164.6 565.2,162.5 565.6,163.1 566.0,163.7 566.4,163.5 566.8,162.7 567.2,163.0 567.6,162.8 568.0,163.0 568.4,163.1 568.8,162.7 569.2,162.9 569.6,163.0 570.0,163.7 570.4,163.0 570.8,163.0 571.2,163.5 571.6,164.2 572.0,162.9 572.4,162.8 572.8,163.5 573.2,164.0 573.6,162.8 574.0,162.7 574.4,162.3 574.8,163.5 575.2,163.7 575.6,163.5 576.0,163.2 576.4,163.3 576.8,164.1 577.2,164.5 577.6,164.7 578.0,164.7 578.4,164.7 578.8,163.7 579.2,163.5 579.6,162.3 580.0,163.5 580.4,164.0 580.8,164.3 581.2,163.4 581.6,162.4 582.0,162.5 582.4,163.5 582.8,163.2 583.2,162.7 583.6,162.3 584.0,163.2 584.4,164.4 584.8,164.4 585.2,164.5 585.6,164.5 586.0,164.2 586.4,163.3 586.8,162.9 587.2,163.1 587.6,162.3 588.0,161.9 588.4,162.2 588.8,162.5 589.2,162.9 589.6,162.6 590.0,163.0 590.4,162.4 590.8,162.4 591.2,161.6 591.6,161.6 592.0,162.0 592.4,163.2 592.8,163.7 593.2,162.7 593.6,164.5 594.0,165.0 594.4,165.1 594.8,164.8 595.2,164.9 595.6,164.7 596.0,163.5 596.4,163.1 596.8,163.3 597.2,164.3 597.6,164.7 598.0,165.4 598.4,165.0 598.8,164.9 599.2,164.4 599.6,164.2 600.0,164.4 600.4,164.7 600.8,164.4 601.2,164.3 601.6,163.9 602.0,164.0 602.4,163.1 602.8,162.7 603.2,162.3 603.6,163.0 604.0,164.1 604.4,163.1 604.8,162.4 605.2,162.6 605.6,161.9 606.0,161.8 606.4,161.7 606.8,162.0 607.2,162.8 607.6,164.5 608.0,165.1 608.4,164.4 608.8,164.4 609.2,164.1 609.6,162.9 610.0,162.5 610.4,162.9 610.8,163.7 611.2,163.3 611.6,163.4 612.0,163.5 612.4,163.3 612.8,163.4 613.2,163.1 613.6,163.3 614.0,163.4 614.4,163.0 614.8,164.1 615.2,164.0 615.6,163.7 616.0,162.7 616.4,163.0 616.8,163.0 617.2,163.0 617.6,164.1 618.0,163.3 618.4,162.8 618.4,166.0 619.1,165.2 619.5,164.9 619.9,164.7 620.3,164.7 620.7,165.2 621.1,165.3 621.5,164.8 621.9,164.8 622.3,164.8 622.7,165.2 623.1,165.0 623.5,164.4 623.9,164.3 624.3,163.9 624.7,164.2 625.1,164.6 625.5,164.0 625.9,164.8 626.3,165.3 626.7,165.2 627.1,165.8 627.5,165.4 627.9,164.4 628.3,164.8 628.7,164.9 629.1,164.6 629.5,165.1 629.9,165.0 630.3,163.5 630.7,162.8 631.1,163.5 631.5,163.2 631.9,162.5 632.3,162.3 632.7,162.2 633.1,163.6 633.5,164.2 633.9,162.9 634.3,163.3 634.7,163.5 635.1,163.4 635.5,163.8 635.9,164.5 636.3,164.2 636.7,163.2 637.1,162.9 637.5,163.9 637.9,164.6 638.3,164.1 638.7,164.3 639.1,164.0 639.5,163.4 639.9,164.6 640.3,165.9 640.7,167.1 641.1,166.7 641.5,165.0 641.9,163.7 642.3,162.9 642.7,163.1 643.1,164.2 643.5,164.2 643.9,163.9 644.3,164.4 644.7,165.3 645.1,165.4 645.5,164.8 645.9,164.4 646.3,165.1 646.7,165.1 647.1,163.0 647.5,162.8 647.9,164.2 648.3,165.2 648.7,166.2 649.1,166.8 649.5,166.4 649.9,164.9 650.3,164.6 650.7,164.8 651.1,165.2 651.5,165.2 651.9,164.9 652.3,164.1 652.7,163.9 653.1,163.7 653.5,163.6 653.9,163.4 654.3,163.7 654.7,164.9 655.1,165.4 655.5,164.8 655.9,163.0 656.3,161.9 656.7,162.8 657.1,164.1 657.5,165.4 657.9,166.2 658.3,166.6 658.7,166.5 659.1,165.7 659.5,164.5 659.9,164.0 660.3,164.2 660.7,163.8 661.1,163.7 661.5,164.5 661.9,165.0 662.3,164.9 662.7,164.6 663.1,165.1 663.5,164.9 663.9,163.9 664.3,163.0 664.7,162.4 665.1,163.1 665.5,164.1 665.9,163.9 666.3,164.1 666.7,163.9 667.1,163.5 667.5,163.6 667.9,164.4 668.3,165.2 668.7,165.0 669.1,163.8 669.5,162.4 669.9,162.9 670.3,164.3 670.7,163.5 671.1,163.0 671.5,163.8 671.9,163.8 672.3,164.7 672.7,165.4 673.1,165.3 673.5,164.5 673.9,162.9 674.3,162.5 674.7,163.4 675.1,164.0 675.5,164.3 675.9,164.1 676.3,162.9 676.7,162.3 677.1,163.5 677.5,164.6 677.9,165.8 678.3,166.4 678.7,165.5 679.1,164.6 679.5,164.2 679.9,164.8 680.3,165.0 680.7,165.0 681.1,164.7 681.5,164.0 681.9,164.6 682.3,165.4 682.7,165.0 683.1,163.6 683.5,164.4 683.9,165.7 684.3,164.8 684.7,164.8 685.1,166.7 685.5,167.1 685.9,165.2 686.3,163.5 686.7,163.1 687.1,163.1 687.5,162.9 687.9,163.2 688.3,164.0 688.7,164.5 689.1,164.6 689.5,163.9 689.9,163.6 690.3,164.3 690.7,164.4 691.1,163.8 691.5,163.9 691.9,164.3 692.3,164.4 692.7,164.6 693.1,165.3 693.5,165.3 693.9,164.4 694.3,163.6 694.7,163.2 695.1,163.8 695.5,164.9 695.9,165.2 696.3,164.7 696.7,163.9 697.1,163.6 697.5,163.6 697.9,163.4 698.3,163.8 698.7,163.8 699.1,163.6 699.5,164.0 699.9,164.3 700.3,164.4 700.7,164.4 701.1,165.2 701.5,165.8 701.9,165.4 702.3,164.7 702.7,163.7 703.1,162.8 703.5,162.2 703.9,162.7 704.3,162.9 704.7,162.8"/>
<path d="M101.5,168.3 101.9,168.5 102.3,167.9 102.7,166.7 103.1,166.1 103.5,166.2 103.9,166.7 104.3,167.1 104.7,167.1 105.1,166.9 105.5,167.0 105.9,167.0 106.3,166.8 106.7,166.5 107.1,166.3 107.5,166.3 107.9,166.5 108.3,166.9 108.7,167.3 109.1,167.5 109.5,167.1 109.9,166.5 110.3,166.0 110.7,166.0 111.1,166.2 111.5,166.4 111.9,166.8 112.3,167.2 112.7,167.3 113.1,166.9 113.5,166.6 113.9,166.5 114.3,166.5 114.7,166.3 115.1,165.9 115.5,165.7 115.9,165.9 116.3,166.3 116.7,166.6 117.1,166.5 117.5,166.5 117.9,166.6 118.3,167.0 118.7,167.6 119.1,167.7 119.5,167.3 119.9,167.0 120.3,166.9 120.7,166.9 121.1,166.7 121.5,166.5 121.9,166.4 122.3,166.4 122.7,166.7 123.1,167.2 123.5,167.1 123.9,166.4 124.3,165.9 124.7,165.8 125.1,165.8 125.5,165.8 125.9,165.8 126.3,166.0 126.7,166.4 127.1,166.3 127.5,166.0 127.9,165.9 128.3,165.9 128.7,166.0 129.1,166.2 129.5,166.6 129.9,167.0 130.3,167.1 130.7,167.0 131.1,167.2 131.5,167.9 131.9,168.1 132.3,167.7 132.7,167.5 133.1,167.6 133.5,167.7 133.9,167.6 134.3,167.6 134.7,167.5 135.1,167.2 135.1,148.7 135.9,148.5 136.3,148.6 136.7,148.7 137.1,148.7 137.5,148.5 137.9,148.5 138.3,148.8 138.7,149.0 139.1,149.2 139.5,149.3 139.9,149.4 140.3,149.4 140.7,149.5 141.1,149.5 141.5,149.0 141.9,148.4 142.3,148.3 142.7,148.7 143.1,149.2 143.5,149.6 143.9,149.7 143.9,167.6 144.7,167.1 145.1,166.6 145.5,166.3 145.9,166.0 146.3,165.9 146.7,166.1 147.1,166.6 147.5,167.0 147.9,166.7 148.3,166.1 148.7,165.9 149.1,166.1 149.5,166.3 149.9,166.4 150.3,166.3 150.7,166.3 151.1,166.5 151.5,166.8 151.9,166.7 152.3,166.6 152.7,166.9 153.1,167.1 153.5,167.1 153.9,166.9 154.3,166.5 154.7,165.9 155.1,165.3 155.5,165.3 155.9,165.9 156.3,166.7 156.7,167.2 157.1,167.1 157.5,167.1 157.9,167.2 158.3,167.2 158.7,167.1 159.1,166.8 159.5,166.6 159.9,166.6 160.3,166.4 160.7,166.0 161.1,165.9 161.5,166.5 161.9,167.6 162.3,168.2 162.7,168.1 163.1,167.7 163.5,167.4 163.9,167.9 164.3,168.2 164.7,168.0 165.1,167.4 165.5,167.2 165.9,167.2 166.3,167.1 166.7,166.8 167.1,166.6 167.5,166.7 167.9,166.9 168.3,167.2 168.7,167.5 169.1,167.6 169.5,167.3 169.9,166.9 170.3,166.8 170.7,167.0 171.1,167.1 171.5,167.1 171.9,167.0 172.3,166.8 172.7,166.5 173.1,166.1 173.5,166.1 173.9,166.5 174.3,166.9 174.7,167.0 175.1,167.1 175.5,167.1 175.9,167.2 176.3,167.3 176.7,167.5 177.1,167.6 177.5,167.4 177.9,166.8 178.3,166.2 178.7,166.3 179.1,167.0 179.5,167.6 179.9,167.6 180.3,167.4 180.7,167.4 181.1,167.6 181.5,167.6 181.9,167.3 182.3,167.1 182.7,166.8 183.1,166.5 183.5,166.6 183.9,167.0 184.3,167.2 184.7,167.1 185.1,167.2 185.5,167.4 185.9,167.5 186.3,167.4 186.7,166.9 186.7,463.1 187.3,460.5 187.7,453.4 188.1,446.3 188.5,439.2 188.9,432.2 189.3,427.4 189.7,423.8 190.1,419.5 190.5,416.7 190.9,416.2 191.3,415.9 191.7,414.7 192.1,413.0 192.5,411.7 192.9,410.0 193.3,406.3 193.7,402.8 194.1,401.4 194.5,399.8 194.9,398.4 195.3,397.7 195.7,396.6 196.1,394.3 196.5,391.2 196.9,388.9 197.3,389.3 197.7,389.6 198.1,390.1 198.5,389.7 198.9,388.7 199.3,388.1 199.7,386.4 200.1,384.4 200.5,382.4 200.9,381.1 201.3,380.4 201.7,379.4 202.1,378.2 202.5,379.8 202.9,381.2 203.3,379.5 203.7,379.5 204.1,380.5 204.5,382.0 204.9,383.4 205.3,382.9 205.7,380.8 206.1,378.8 206.5,377.8 206.9,376.8 207.3,375.7 207.7,375.2 208.1,376.4 208.5,376.6 208.9,377.6 209.3,377.3 209.7,375.8 210.1,375.2 210.5,374.6 210.9,374.2 211.3,374.5 211.7,375.2 212.1,376.9 212.5,375.5 212.9,371.9 213.3,370.9 213.7,373.7 214.1,374.9 214.5,374.6 214.9,373.9 215.3,373.2 215.7,374.3 216.1,377.2 216.5,375.8 216.9,372.4 217.3,370.3 217.7,367.4 218.1,367.9 218.5,368.5 218.9,367.8 219.3,367.7 219.7,367.9 220.1,369.4 220.5,371.0 220.9,371.1 221.3,370.6 221.7,369.6 222.1,368.2 222.5,369.0 222.9,367.1 223.3,364.6 223.7,364.3 224.1,364.9 224.5,365.7 224.9,365.0 225.3,363.4 225.7,365.2 226.1,365.8 226.5,365.0 226.9,367.0 227.3,368.3 227.7,368.3 228.1,367.3 228.5,365.0 228.9,364.6 229.3,364.5 229.7,365.2 230.1,363.0 230.5,362.3 230.9,364.1 231.3,364.2 231.7,363.4 232.1,363.1 232.5,363.7 232.9,363.8 233.3,362.1 233.7,361.5 234.1,362.1 234.5,363.0 234.9,363.0 235.3,362.3 235.7,362.2 236.1,361.1 236.5,360.8 236.9,360.6 237.3,360.5 237.7,361.2 238.1,361.2 238.5,360.6 238.9,360.2 239.3,359.8 239.7,360.7 240.1,360.8 240.5,361.1 240.9,361.0 241.3,360.0 241.7,360.2 242.1,360.9 242.5,360.8 242.9,359.4 243.3,357.7 243.7,357.2 244.1,357.9 244.5,357.8 244.9,358.3 245.3,359.3 245.7,359.1 246.1,357.4 246.5,356.4 246.9,357.7 247.3,358.3 247.7,357.5 248.1,356.9 248.5,357.3 248.9,359.8 249.3,361.0 249.7,362.2 250.1,362.3 250.5,361.7 250.9,360.2 251.3,358.9 251.7,359.3 252.1,357.1 252.5,356.7 252.9,357.0 253.3,357.7 253.7,357.4 254.1,354.8 254.5,354.9 254.9,356.1 255.3,356.8 255.7,356.8 256.1,355.4 256.5,354.1 256.9,354.5 257.3,356.2 257.7,357.7 258.1,358.4 258.5,359.2 258.9,358.7 259.3,358.2 259.7,357.3 260.1,355.9 260.5,355.8 260.9,354.8 261.3,355.4 261.7,356.4 262.1,354.5 262.5,354.3 262.9,355.0 263.3,355.3 263.7,355.6 264.1,356.3 264.5,356.8 264.9,354.5 265.3,354.5 265.7,356.3 266.1,355.9 266.5,354.5 266.9,354.5 267.3,356.4 267.7,358.5 268.1,357.1 268.5,355.3 268.9,355.2 269.3,355.3 269.7,355.8 270.1,355.1 270.5,354.6 270.9,354.5 271.3,355.1 271.7,354.2 272.1,352.6 272.5,350.9 272.9,350.4 273.3,350.6 273.7,351.1 274.1,352.6 274.5,351.7 274.9,351.3 275.3,352.5 275.7,352.5 276.1,352.3 276.5,351.3 276.9,350.8 277.3,351.8 277.7,352.3 278.1,353.0 278.5,352.5 278.9,351.8 279.3,351.7 279.7,351.9 280.1,351.6 280.5,351.0 280.9,349.9 281.3,348.5 281.7,348.6 282.1,348.7 282.5,350.4 282.9,352.9 283.3,352.2 283.7,350.9 284.1,352.0 284.5,352.6 284.9,352.7 285.3,352.7 285.7,351.6 286.1,350.7 286.5,350.2 286.9,350.4 287.3,350.0 287.7,350.8 288.1,352.0 288.5,352.1 288.9,352.9 289.3,353.5 289.7,352.7 290.1,353.2 290.5,352.1 290.9,351.0 291.3,351.1 291.7,350.6 292.1,348.8 292.5,348.2 292.9,348.8 293.3,349.6 293.7,350.4 294.1,350.3 294.5,350.4 294.9,350.4 295.3,350.1 295.7,350.0 296.1,348.9 296.5,349.4 296.9,351.8 297.3,352.0 297.7,350.9 298.1,350.9 298.5,350.7 298.9,350.7 299.3,351.5 299.7,351.7 300.1,350.6 300.5,348.3 300.9,348.5 301.3,348.4 301.7,347.8 302.1,347.8 302.5,347.4 302.9,346.6 303.3,347.0 303.7,347.7 304.1,347.2 304.5,347.3 304.9,347.2 305.3,348.5 305.7,349.4 306.1,348.6 306.5,347.0 306.9,345.7 307.3,345.5 307.7,345.2 308.1,345.7 308.5,345.4 308.9,345.4 309.3,346.3 309.7,346.3 310.1,347.0 310.5,347.3 310.9,347.9 311.3,349.1 311.7,349.4 312.1,349.1 312.5,349.0 312.9,348.9 313.3,348.3 313.7,347.1 314.1,345.1 314.5,343.4 314.9,343.9 315.3,344.5 315.7,345.3 316.1,346.0 316.5,347.3 316.9,348.2 317.3,347.4 317.7,347.3 318.1,348.3 318.5,347.9 318.9,348.0 319.3,348.7 319.7,348.0 320.1,346.6 320.5,344.7 320.9,344.8 321.3,344.9 321.7,343.5 322.1,343.5 322.5,343.1 322.9,342.6 323.3,344.4 323.7,344.5 324.1,345.1 324.5,345.8 324.9,344.9 325.3,345.7 325.7,346.3 326.1,346.6 326.5,347.1 326.9,347.7 327.3,346.6 327.7,346.4 328.1,346.1 328.5,345.2 328.9,344.6 329.3,344.9 329.7,345.7 330.1,345.4 330.5,344.3 330.9,343.4 331.3,344.0 331.7,344.7 332.1,345.5 332.5,346.0 332.9,345.7 333.3,347.0 333.7,345.6 334.1,343.3 334.5,342.9 334.9,344.7 335.3,345.5 335.7,345.5 336.1,345.9 336.5,346.4 336.9,346.9 337.3,348.0 337.7,347.8 338.1,346.2 338.5,345.1 338.9,345.3 339.3,343.7 339.7,342.7 340.1,343.7 340.5,342.9 340.9,341.0 341.3,340.9 341.7,341.5 342.1,341.5 342.5,343.1 342.9,346.3 343.3,347.6 343.7,346.8 344.1,347.3 344.5,347.5 344.9,346.1 345.3,344.9 345.7,345.1 346.1,344.4 346.5,344.1 346.9,343.6 347.3,343.0 347.7,343.5 348.1,342.8 348.5,342.2 348.9,342.4 349.3,343.9 349.7,345.0 350.1,345.3 350.5,345.9 350.9,345.2 351.3,344.1 351.7,344.1 352.1,344.6 352.5,344.4 352.9,343.6 353.3,342.0 353.7,341.5 354.1,342.1 354.5,342.6 354.9,342.4 355.3,342.1 355.7,343.3 356.1,346.2 356.5,347.2 356.9,346.9 357.3,347.5 357.7,346.7 358.1,346.3 358.5,345.8 358.9,344.0 359.3,342.5 359.7,342.0 360.1,343.2 360.5,344.0 360.9,344.2 361.3,344.0 361.7,344.2 362.1,344.9 362.5,345.0 362.9,346.1 363.3,346.6 363.7,346.4 364.1,346.5 364.5,345.7 364.9,345.0 365.3,343.9 365.7,343.3 366.1,344.4 366.5,344.6 366.9,344.1 367.3,344.0 367.7,343.9 368.1,344.2 368.5,344.1 368.9,343.6 369.3,343.0 369.7,343.0 370.1,342.3 370.5,341.6 370.9,342.1 371.3,342.4 371.7,342.6 372.1,343.8 372.5,344.1 372.9,341.9 373.3,340.2 373.7,341.4 374.1,343.0 374.5,341.7 374.9,341.5 375.3,342.0 375.7,343.1 376.1,343.4 376.5,342.7 376.9,342.4 377.3,341.3 377.7,341.0 378.1,340.8 378.5,341.5 378.9,341.8 379.3,341.8 379.7,341.4 380.1,341.9 380.5,341.9 380.9,341.0 381.3,340.0 381.7,339.5 382.1,340.1 382.5,341.3 382.9,342.2 383.3,343.6 383.7,344.8 384.1,344.6 384.5,345.0 384.9,345.7 385.3,345.7 385.7,345.4 386.1,345.4 386.5,345.4 386.9,343.6 387.3,342.7 387.7,343.9 388.1,345.6 388.5,346.1 388.9,345.7 389.3,345.9 389.7,345.6 390.1,345.0 390.5,344.6 390.9,343.8 391.3,343.0 391.7,342.5 392.1,341.4 392.5,342.1 392.9,343.0 393.3,342.6 393.7,340.7 394.1,339.0 394.5,338.3 394.9,340.5 395.3,342.6 395.7,341.5 396.1,341.7 396.5,343.4 396.9,342.8 397.3,340.6 397.7,340.4 398.1,340.1 398.5,339.4 398.9,340.1 399.3,340.4 399.7,341.7 400.1,341.5 400.5,339.7 400.9,338.1 401.3,337.8 401.7,337.7 402.1,337.6 402.5,338.3 402.9,340.2 403.3,341.9 403.7,341.9 404.1,342.1 404.5,342.1 404.9,341.7 405.3,342.0 405.7,342.2 406.1,341.1 406.5,339.8 406.9,338.1 407.3,338.8 407.7,339.1 408.1,338.0 408.5,337.6 408.9,336.9 409.3,338.3 409.7,338.7 410.1,339.1 410.5,340.3 410.9,341.0 411.3,340.7 411.7,340.6 412.1,341.3 412.5,341.8 412.9,341.1 413.3,340.0 413.7,338.4 414.1,338.0 414.5,338.7 414.9,339.5 415.3,340.1 415.7,340.0 416.1,338.5 416.5,337.4 416.9,337.1 417.3,335.5 417.7,334.6 418.1,335.3 418.5,335.5 418.9,336.0 419.3,336.9 419.7,336.9 420.1,337.2 420.5,337.9 420.9,338.6 421.3,339.0 421.7,338.8 422.1,338.0 422.5,337.2 422.9,338.3 423.3,338.0 423.7,339.4 424.1,341.1 424.5,339.5 424.9,338.5 425.3,339.5 425.7,338.6 426.1,337.8 426.5,337.9 426.9,338.5 427.3,338.6 427.7,338.3 428.1,338.2 428.5,337.5 428.9,338.1 429.3,338.9 429.7,340.3 430.1,340.6 430.5,341.1 430.9,341.1 431.3,338.7 431.7,337.3 432.1,337.6 432.5,337.2 432.9,336.8 433.3,337.6 433.7,338.2 434.1,336.6 434.5,336.4 434.9,336.8 435.3,336.8 435.7,337.5 436.1,337.7 436.5,337.3 436.9,337.5 437.3,336.9 437.7,337.6 438.1,339.7 438.5,340.7 438.9,338.5 439.3,339.0 439.7,340.2 440.1,339.0 440.5,338.6 440.9,337.5 441.3,336.2 441.7,336.3 442.1,336.1 442.5,335.9 442.9,335.8 443.3,336.0 443.7,335.0 444.1,336.1 444.5,337.7 444.9,337.2 445.3,335.9 445.7,335.1 445.7,159.2 446.4,158.8 446.8,159.3 447.2,159.7 447.6,160.5 448.0,162.2 448.4,162.8 448.8,162.6 449.2,162.2 449.6,161.6 450.0,161.6 450.4,161.3 450.8,162.5 451.2,162.9 451.6,162.2 452.0,162.1 452.4,162.2 452.8,162.1 453.2,161.3 453.6,160.8 454.0,160.5 454.4,161.0 454.8,162.1 455.2,163.1 455.6,163.9 456.0,163.6 456.4,162.6 456.8,162.1 457.2,162.2 457.6,161.6 458.0,162.0 458.4,162.4 458.8,163.2 459.2,163.1 459.6,164.0 460.0,164.4 460.4,163.1 460.8,162.0 461.2,162.5 461.6,163.1 462.0,163.9 462.4,164.2 462.8,164.8 463.2,165.6 463.6,163.9 464.0,163.4 464.4,163.5 464.8,162.6 465.2,163.3 465.6,162.7 466.0,162.3 466.4,162.7 466.8,163.4 467.2,164.1 467.6,164.7 468.0,164.8 468.4,165.0 468.8,166.0 469.2,166.0 469.6,166.0 470.0,163.7 470.4,164.5 470.8,164.6 471.2,164.7 471.6,164.3 472.0,164.1 472.4,164.1 472.8,164.0 473.2,165.2 473.6,164.8 474.0,165.1 474.4,165.7 474.8,165.3 475.2,165.3 475.6,164.9 476.0,165.2 476.4,164.8 476.8,165.5 477.2,165.2 477.6,164.7 478.0,163.8 478.4,163.6 478.8,163.3 479.2,163.2 479.6,165.0 480.0,165.5 480.4,164.1 480.8,164.3 481.2,163.4 481.6,163.7 482.0,164.8 482.4,164.5 482.8,164.7 483.2,164.3 483.6,165.2 484.0,165.7 484.4,166.5 484.8,166.3 485.2,165.5 485.6,164.8 486.0,164.8 486.4,164.4 486.8,164.9 487.2,165.0 487.6,164.8 488.0,165.9 488.4,166.1 488.8,167.0 489.2,166.6 489.6,166.9 490.0,166.4 490.4,166.3 490.8,165.8 491.2,166.5 491.6,166.1 492.0,166.9 492.4,166.4 492.8,166.7 493.2,166.1 493.6,166.4 494.0,167.2 494.4,168.1 494.8,167.9 495.2,167.9 495.6,166.3 496.0,165.8 496.4,165.6 496.8,166.3 497.2,167.7 497.6,169.1 498.0,168.9 498.4,168.5 498.8,166.8 499.2,167.1 499.6,166.9 500.0,167.7 500.4,167.7 500.8,168.1 501.2,168.3 501.6,167.9 502.0,168.0 502.4,168.7 502.8,168.0 503.2,166.6 503.6,165.9 504.0,167.3 504.4,168.0 504.8,168.6 505.2,167.7 505.6,167.8 506.0,168.1 506.4,167.9 506.8,168.1 507.2,168.6 507.6,168.9 508.0,168.8 508.4,168.5 508.8,168.1 509.2,168.7 509.6,168.2 510.0,168.8 510.4,168.4 510.8,169.8 511.2,169.8 511.6,169.1 512.0,168.5 512.4,169.0 512.8,169.7 513.2,169.7 513.6,169.2 514.0,169.8 514.4,169.5 514.8,169.1 515.2,168.5 515.6,168.6 516.0,168.6 516.4,169.1 516.8,169.3 517.2,169.9 517.6,169.0 518.0,168.3 518.4,168.0 518.8,168.3 519.2,168.3 519.6,170.1 520.0,170.7 520.4,171.3 520.8,171.3 521.2,170.8 521.6,170.2 522.0,170.0 522.4,169.7 522.8,170.1 523.2,170.4 523.6,170.5 524.0,171.4 524.4,170.0 524.8,169.7 525.2,169.7 525.6,169.9 526.0,170.3 526.4,170.6 526.8,170.4 527.2,170.7 527.6,171.2 528.0,169.9 528.4,170.5 528.8,170.6 529.2,171.0 529.6,170.8 530.0,171.4 530.4,170.9 530.8,170.6 531.2,170.5 531.6,169.8 532.0,169.7 532.4,170.7 532.8,170.8 533.2,170.4 533.6,171.0 534.0,171.3 534.4,171.0 534.8,171.0 535.2,171.4 535.6,170.9 536.0,170.5 536.4,169.6 536.8,169.9 537.2,170.1 537.6,169.9 538.0,169.8 538.4,170.4 538.8,171.6 539.2,172.6 539.6,171.3 540.0,171.1 540.4,170.9 540.8,170.3 541.2,171.0 541.6,170.5 542.0,171.2 542.4,170.4 542.8,169.8 543.2,169.7 543.6,170.4 544.0,170.3 544.4,171.5 544.8,171.3 545.2,172.1 545.6,172.5 546.0,172.0 546.4,171.8 546.8,171.7 547.2,172.4 547.6,172.2 548.0,172.5 548.4,171.5 548.8,171.7 549.2,171.3 549.6,171.6 550.0,171.4 550.4,170.9 550.8,169.3 551.2,169.8 551.6,170.8 552.0,172.4 552.4,171.9 552.8,171.9 553.2,171.2 553.6,170.7 554.0,171.4 554.4,171.9 554.8,173.4 555.2,173.3 555.6,172.5 556.0,170.9 556.4,171.5 556.8,171.5 557.2,171.1 557.6,172.9 558.0,172.7 558.4,171.8 558.8,172.5 559.2,172.0 559.6,171.9 560.0,171.5 560.4,171.3 560.8,170.9 561.2,172.0 561.6,172.8 562.0,173.7 562.4,173.4 562.8,172.6 563.2,172.9 563.6,172.9 564.0,172.7 564.4,172.6 564.8,171.6 565.2,171.7 565.6,171.2 566.0,172.2 566.4,172.6 566.8,173.0 567.2,172.3 567.6,172.0 568.0,172.3 568.4,172.6 568.8,172.7 569.2,171.5 569.6,170.5 570.0,170.4 570.4,171.7 570.8,171.5 571.2,172.3 571.6,172.6 572.0,173.4 572.4,172.9 572.8,173.4 573.2,172.5 573.6,172.8 574.0,173.2 574.4,173.4 574.8,172.9 575.2,173.4 575.6,173.0 576.0,171.7 576.4,172.6 576.8,173.2 577.2,173.9 577.6,174.0 578.0,175.2 578.4,175.5 578.8,175.2 579.2,173.9 579.6,173.7 580.0,173.9 580.4,173.0 580.8,172.9 581.2,172.5 581.6,171.5 582.0,171.7 582.4,172.9 582.8,172.9 583.2,173.8 583.6,174.7 584.0,174.5 584.4,173.7 584.8,172.5 585.2,172.0 585.6,172.1 586.0,172.5 586.4,172.8 586.8,173.5 587.2,172.7 587.6,173.2 588.0,171.8 588.4,171.0 588.8,170.3 589.2,170.7 589.6,171.3 590.0,172.3 590.4,172.5 590.8,173.4 591.2,173.8 591.6,173.1 592.0,172.0 592.4,172.1 592.8,172.4 593.2,173.2 593.6,173.6 594.0,174.1 594.4,174.2 594.8,175.1 595.2,175.0 595.6,173.2 596.0,172.9 596.4,172.5 596.8,171.9 597.2,172.1 597.6,172.6 598.0,173.1 598.4,171.7 598.8,170.9 599.2,171.2 599.6,171.8 600.0,172.5 600.4,172.2 600.8,171.8 601.2,172.8 601.6,174.8 602.0,174.1 602.4,173.9 602.8,173.8 603.2,172.7 603.6,172.5 604.0,173.0 604.4,172.9 604.8,173.5 605.2,173.7 605.6,173.3 606.0,172.7 606.4,172.4 606.8,172.4 607.2,171.9 607.6,171.9 608.0,172.1 608.4,172.1 608.8,172.6 609.2,171.9 609.6,171.9 610.0,171.8 610.4,172.4 610.8,173.2 611.2,172.5 611.6,172.0 612.0,173.1 612.4,173.8 612.8,173.5 613.2,172.9 613.6,172.5 614.0,172.0 614.4,172.5 614.8,172.5 615.2,172.8 615.6,172.7 616.0,172.7 616.4,173.2 616.8,173.6 617.2,172.0 617.6,172.0 618.0,172.7 618.4,172.3 618.4,164.6 619.1,165.1 619.5,164.6 619.9,163.4 620.3,163.6 620.7,164.5 621.1,165.2 621.5,165.9 621.9,165.6 622.3,164.9 622.7,164.2 623.1,163.2 623.5,163.2 623.9,164.0 624.3,163.7 624.7,162.8 625.1,162.7 625.5,162.7 625.9,163.3 626.3,164.0 626.7,163.1 627.1,163.0 627.5,163.8 627.9,163.9 628.3,163.2 628.7,162.4 629.1,162.7 629.5,162.8 629.9,162.5 630.3,162.7 630.7,163.6 631.1,165.1 631.5,165.8 631.9,165.4 632.3,165.1 632.7,163.8 633.1,162.6 633.5,163.7 633.9,165.3 634.3,165.2 634.7,164.6 635.1,164.9 635.5,163.6 635.9,162.7 636.3,163.5 636.7,164.9 637.1,164.9 637.5,163.7 637.9,162.1 638.3,162.6 638.7,163.7 639.1,164.1 639.5,164.1 639.9,164.1 640.3,162.8 640.7,161.5 641.1,162.2 641.5,164.2 641.9,164.5 642.3,163.9 642.7,164.2 643.1,163.8 643.5,162.8 643.9,162.0 644.3,162.5 644.7,163.4 645.1,163.6 645.5,163.8 645.9,164.9 646.3,165.0 646.7,163.8 647.1,163.0 647.5,162.6 647.9,162.8 648.3,162.8 648.7,163.1 649.1,163.6 649.5,163.9 649.9,164.0 650.3,163.2 650.7,163.1 651.1,163.6 651.5,163.8 651.9,163.7 652.3,163.2 652.7,163.2 653.1,163.9 653.5,164.5 653.9,165.1 654.3,165.0 654.7,163.6 655.1,162.7 655.5,162.4 655.9,162.0 656.3,162.4 656.7,164.4 657.1,165.7 657.5,165.8 657.9,164.6 658.3,164.2 658.7,164.2 659.1,164.2 659.5,164.5 659.9,164.1 660.3,163.6 660.7,162.6 661.1,161.4 661.5,161.8 661.9,163.3 662.3,165.0 662.7,165.3 663.1,165.0 663.5,164.6 663.9,164.6 664.3,164.8 664.7,163.6 665.1,162.8 665.5,164.1 665.9,164.9 666.3,164.6 666.7,164.7 667.1,165.4 667.5,165.8 667.9,165.8 668.3,165.8 668.7,165.6 669.1,165.2 669.5,163.9 669.9,164.1 670.3,164.2 670.7,163.4 671.1,163.1 671.5,163.8 671.9,163.4 672.3,162.5 672.7,162.5 673.1,163.1 673.5,163.1 673.9,162.5 674.3,162.6 674.7,163.6 675.1,164.6 675.5,165.2 675.9,164.7 676.3,165.0 676.7,165.5 677.1,164.8 677.5,164.7 677.9,164.5 678.3,164.6 678.7,164.6 679.1,163.1 679.5,161.9 679.9,161.8 680.3,163.1 680.7,164.3 681.1,164.2 681.5,164.0 681.9,163.9 682.3,164.3 682.7,163.9 683.1,164.0 683.5,164.9 683.9,164.6 684.3,164.4 684.7,164.4 685.1,164.3 685.5,163.5 685.9,162.9 686.3,163.6 686.7,164.3 687.1,164.2 687.5,164.5 687.9,164.8 688.3,163.9 688.7,163.6 689.1,163.2 689.5,162.3 689.9,162.5 690.3,163.9 690.7,164.4 691.1,163.4 691.5,162.3 691.9,162.8 692.3,164.0 692.7,164.9 693.1,165.3 693.5,165.2 693.9,165.4 694.3,164.5 694.7,162.9 695.1,163.4 695.5,163.8 695.9,163.9 696.3,163.5 696.7,162.5 697.1,162.6 697.5,163.5 697.9,163.9 698.3,164.2 698.7,164.6 699.1,165.4 699.5,165.3 699.9,165.2 700.3,164.3 700.7,164.3 701.1,164.1 701.5,162.6 701.9,162.5 702.3,164.1 702.7,165.4 703.1,165.7 703.5,165.2 703.9,164.3 704.3,163.1 704.7,163.4"/>
<path d="M101.5,167.8 101.9,167.6 102.3,167.0 102.7,166.2 103.1,165.8 103.5,166.0 103.9,166.6 104.3,167.2 104.7,167.7 105.1,168.0 105.5,168.0 105.9,167.8 106.3,167.4 106.7,166.9 107.1,166.5 107.5,166.3 107.9,166.3 108.3,166.3 108.7,165.8 109.1,164.9 109.5,164.7 109.9,165.2 110.3,166.0 110.7,166.6 111.1,166.7 111.5,166.4 111.9,166.3 112.3,166.8 112.7,167.4 113.1,167.3 113.5,166.7 113.9,166.5 114.3,166.8 114.7,167.3 115.1,167.4 115.5,167.2 115.9,166.9 116.3,166.7 116.7,166.5 117.1,166.4 117.5,166.4 117.9,166.5 118.3,166.9 118.7,167.3 119.1,167.6 119.5,167.2 119.9,166.2 120.3,165.3 120.7,165.2 121.1,165.5 121.5,165.7 121.9,165.8 122.3,166.0 122.7,166.2 123.1,166.3 123.5,166.3 123.9,166.2 124.3,166.0 124.7,166.0 125.1,166.2 125.5,166.1 125.9,165.6 126.3,165.3 126.7,165.5 127.1,165.9 127.5,166.2 127.9,166.4 128.3,166.5 128.7,166.4 129.1,166.5 129.5,166.7 129.9,166.6 130.3,166.3 130.7,166.0 131.1,165.9 131.5,165.9 131.9,166.2 132.3,166.6 132.7,166.8 133.1,166.8 133.5,166.8 133.9,166.6 134.3,166.7 134.7,167.1 135.1,167.0 135.1,148.4 135.9,148.1 136.3,148.1 136.7,148.3 137.1,148.6 137.5,149.1 137.9,149.4 138.3,149.4 138.7,148.8 139.1,148.2 139.5,148.2 139.9,148.9 140.3,149.1 140.7,148.8 141.1,148.6 141.5,148.8 141.9,149.0 142.3,149.0 142.7,148.8 143.1,148.3 143.5,148.1 143.9,148.3 143.9,166.8 144.7,166.8 145.1,166.6 145.5,166.3 145.9,166.1 146.3,166.4 146.7,166.5 147.1,166.3 147.5,165.9 147.9,166.0 148.3,166.4 148.7,166.7 149.1,166.7 149.5,166.6 149.9,166.7 150.3,166.8 150.7,166.8 151.1,166.7 151.5,166.7 151.9,166.8 152.3,166.9 152.7,167.0 153.1,167.2 153.5,167.0 153.9,166.4 154.3,165.8 154.7,165.8 155.1,166.4 155.5,166.9 155.9,166.9 156.3,166.9 156.7,167.0 157.1,166.8 157.5,166.7 157.9,166.6 158.3,166.7 158.7,167.0 159.1,167.4 159.5,167.5 159.9,167.7 160.3,167.9 160.7,167.4 161.1,166.6 161.5,166.1 161.9,165.9 162.3,165.7 162.7,165.4 163.1,165.4 163.5,165.6 163.9,165.9 164.3,165.9 164.7,165.9 165.1,166.1 165.5,166.5 165.9,166.6 166.3,166.6 166.7,166.8 167.1,167.3 167.5,167.6 167.9,167.6 168.3,167.3 168.7,166.9 169.1,166.7 169.5,166.6 169.9,166.3 170.3,166.0 170.7,166.0 171.1,166.3 171.5,166.8 171.9,167.3 172.3,167.3 172.7,166.8 173.1,166.3 173.5,166.0 173.9,166.0 174.3,166.4 174.7,166.8 175.1,166.7 175.5,166.6 175.9,166.8 176.3,166.9 176.7,166.7 177.1,166.3 177.5,166.3 177.9,166.6 178.3,166.5 178.7,166.3 179.1,166.1 179.5,165.8 179.9,165.9 180.3,166.2 180.7,166.3 181.1,165.9 181.5,165.6 181.9,165.5 182.3,165.4 182.7,165.5 183.1,165.8 183.5,166.1 183.9,166.5 184.3,166.6 184.7,166.4 185.1,166.5 185.5,166.9 185.9,167.2 186.3,167.2 186.7,166.9 186.7,462.0 187.3,460.2 187.7,453.1 188.1,445.3 188.5,436.8 188.9,430.2 189.3,426.6 189.7,424.8 190.1,421.9 190.5,418.3 190.9,414.9 191.3,413.5 191.7,412.3 192.1,411.1 192.5,410.0 192.9,406.6 193.3,404.9 193.7,404.5 194.1,403.5 194.5,402.8 194.9,401.5 195.3,399.2 195.7,397.5 196.1,396.7 196.5,396.0 196.9,394.2 197.3,393.4 197.7,393.0 198.1,390.6 198.5,388.8 198.9,389.0 199.3,389.2 199.7,389.6 200.1,389.7 200.5,389.4 200.9,387.8 201.3,384.7 201.7,383.9 202.1,385.1 202.5,383.6 202.9,381.6 203.3,381.1 203.7,381.6 204.1,380.3 204.5,378.3 204.9,377.8 205.3,378.1 205.7,378.8 206.1,377.9 206.5,376.4 206.9,375.6 207.3,376.9 207.7,378.5 208.1,379.2 208.5,379.6 208.9,379.2 209.3,379.2 209.7,378.6 210.1,378.0 210.5,378.5 210.9,377.8 211.3,376.1 211.7,373.7 212.1,372.6 212.5,372.9 212.9,373.2 213.3,374.6 213.7,376.0 214.1,377.2 214.5,376.8 214.9,375.8 215.3,376.2 215.7,374.9 216.1,374.1 216.5,374.5 216.9,375.2 217.3,376.8 217.7,377.8 218.1,376.3 218.5,375.3 218.9,373.9 219.3,372.6 219.7,371.1 220.1,370.5 220.5,370.8 220.9,369.8 221.3,368.6 221.7,368.6 222.1,370.4 222.5,370.2 222.9,369.5 223.3,369.9 223.7,370.3 224.1,370.2 224.5,369.3 224.9,367.1 225.3,367.7 225.7,370.7 226.1,372.0 226.5,370.5 226.9,369.8 227.3,369.0 227.7,369.0 228.1,369.1 228.5,369.0 228.9,368.8 229.3,369.8 229.7,369.4 230.1,368.9 230.5,368.9 230.9,367.9 231.3,367.5 231.7,369.6 232.1,371.1 232.5,369.3 232.9,367.3 233.3,365.7 233.7,365.2 234.1,364.5 234.5,362.0 234.9,361.5 235.3,361.6 235.7,361.9 236.1,363.4 236.5,364.1 236.9,363.1 237.3,363.1 237.7,364.2 238.1,364.4 238.5,362.5 238.9,361.7 239.3,362.0 239.7,361.2 240.1,360.0 240.5,360.5 240.9,360.7 241.3,362.1 241.7,361.8 242.1,359.9 242.5,360.9 242.9,361.2 243.3,360.7 243.7,361.8 244.1,362.2 244.5,360.3 244.9,358.2 245.3,357.8 245.7,358.8 246.1,360.6 246.5,362.4 246.9,361.9 247.3,360.7 247.7,360.2 248.1,359.3 248.5,358.5 248.9,357.9 249.3,358.1 249.7,358.5 250.1,358.9 250.5,360.5 250.9,360.0 251.3,359.2 251.7,359.1 252.1,358.5 252.5,359.5 252.9,360.6 253.3,361.5 253.7,360.3 254.1,359.0 254.5,357.9 254.9,357.4 255.3,357.7 255.7,357.6 256.1,358.0 256.5,358.0 256.9,357.3 257.3,355.1 257.7,355.4 258.1,355.5 258.5,354.9 258.9,355.3 259.3,356.9 259.7,357.1 260.1,357.6 260.5,357.8 260.9,358.0 261.3,358.6 261.7,358.5 262.1,357.2 262.5,356.3 262.9,355.9 263.3,355.9 263.7,354.6 264.1,353.6 264.5,353.7 264.9,353.3 265.3,353.2 265.7,353.3 266.1,354.0 266.5,354.3 266.9,354.4 267.3,355.2 267.7,355.2 268.1,355.2 268.5,355.5 268.9,355.1 269.3,355.4 269.7,357.3 270.1,357.7 270.5,356.4 270.9,356.5 271.3,356.3 271.7,355.3 272.1,354.8 272.5,354.8 272.9,354.5 273.3,354.0 273.7,353.5 274.1,353.3 274.5,354.0 274.9,353.1 275.3,353.1 275.7,354.5 276.1,355.1 276.5,355.1 276.9,354.3 277.3,354.5 277.7,356.1 278.1,356.1 278.5,355.2 278.9,353.9 279.3,352.4 279.7,350.2 280.1,349.9 280.5,349.3 280.9,349.9 281.3,350.2 281.7,352.8 282.1,355.0 282.5,353.5 282.9,352.7 283.3,353.8 283.7,352.7 284.1,352.2 284.5,352.6 284.9,350.5 285.3,350.1 285.7,350.8 286.1,350.9 286.5,350.8 286.9,352.3 287.3,352.6 287.7,351.1 288.1,349.8 288.5,349.4 288.9,350.3 289.3,350.7 289.7,351.9 290.1,352.7 290.5,351.2 290.9,348.7 291.3,348.7 291.7,349.8 292.1,349.8 292.5,349.3 292.9,347.7 293.3,348.1 293.7,348.0 294.1,346.7 294.5,347.3 294.9,348.9 295.3,349.1 295.7,348.9 296.1,350.1 296.5,350.5 296.9,349.3 297.3,349.4 297.7,349.8 298.1,349.6 298.5,350.6 298.9,350.9 299.3,351.4 299.7,351.1 300.1,349.8 300.5,348.5 300.9,348.2 301.3,349.2 301.7,350.7 302.1,351.9 302.5,351.5 302.9,351.7 303.3,352.2 303.7,351.6 304.1,351.5 304.5,351.9 304.9,351.1 305.3,351.0 305.7,351.2 306.1,350.2 306.5,348.9 306.9,348.5 307.3,349.7 307.7,350.9 308.1,350.9 308.5,350.1 308.9,347.9 309.3,345.2 309.7,343.8 310.1,344.5 310.5,345.4 310.9,346.0 311.3,346.7 311.7,346.3 312.1,346.7 312.5,346.4 312.9,344.9 313.3,345.8 313.7,347.8 314.1,348.4 314.5,347.8 314.9,347.3 315.3,348.0 315.7,349.1 316.1,349.4 316.5,348.0 316.9,346.5 317.3,346.2 317.7,345.9 318.1,344.8 318.5,345.7 318.9,347.9 319.3,349.7 319.7,349.6 320.1,348.2 320.5,347.4 320.9,346.4 321.3,345.8 321.7,345.5 322.1,344.8 322.5,344.0 322.9,343.1 323.3,342.6 323.7,343.3 324.1,343.9 324.5,344.0 324.9,343.8 325.3,345.2 325.7,347.4 326.1,347.9 326.5,347.2 326.9,345.3 327.3,343.8 327.7,343.6 328.1,344.5 328.5,343.9 328.9,343.6 329.3,344.9 329.7,346.2 330.1,345.6 330.5,345.2 330.9,345.2 331.3,345.3 331.7,345.1 332.1,345.4 332.5,347.1 332.9,347.2 333.3,346.7 333.7,345.6 334.1,345.8 334.5,345.4 334.9,345.8 335.3,347.7 335.7,349.3 336.1,349.6 336.5,348.6 336.9,346.9 337.3,346.0 337.7,345.1 338.1,345.1 338.5,346.0 338.9,346.5 339.3,346.3 339.7,345.4 340.1,346.2 340.5,346.3 340.9,347.0 341.3,346.3 341.7,344.6 342.1,344.6 342.5,344.7 342.9,343.5 343.3,343.0 343.7,343.8 344.1,345.3 344.5,346.0 344.9,346.1 345.3,347.3 345.7,348.0 346.1,346.6 346.5,344.2 346.9,343.2 347.3,344.1 347.7,344.9 348.1,344.8 348.5,344.2 348.9,344.6 349.3,346.2 349.7,346.9 350.1,347.0 350.5,345.1 350.9,344.0 351.3,344.5 351.7,346.0 352.1,345.5 352.5,343.1 352.9,341.8 353.3,343.0 353.7,343.2 354.1,342.7 354.5,343.8 354.9,345.8 355.3,346.5 355.7,346.5 356.1,346.1 356.5,345.1 356.9,345.0 357.3,345.5 357.7,345.7 358.1,346.0 358.5,346.0 358.9,345.0 359.3,345.6 359.7,344.8 360.1,343.2 360.5,343.2 360.9,343.9 361.3,342.9 361.7,341.5 362.1,342.5 362.5,345.0 362.9,346.8 363.3,346.2 363.7,345.2 364.1,345.1 364.5,344.8 364.9,344.6 365.3,344.1 365.7,343.2 366.1,344.4 366.5,344.4 366.9,343.3 367.3,342.4 367.7,342.5 368.1,343.6 368.5,344.6 368.9,345.9 369.3,346.8 369.7,345.7 370.1,346.1 370.5,347.3 370.9,348.1 371.3,347.1 371.7,345.9 372.1,345.9 372.5,346.0 372.9,345.9 373.3,344.6 373.7,343.5 374.1,343.1 374.5,343.2 374.9,343.9 375.3,343.9 375.7,342.9 376.1,343.0 376.5,343.8 376.9,343.4 377.3,342.7 377.7,341.7 378.1,341.1 378.5,340.3 378.9,340.9 379.3,342.6 379.7,343.3 380.1,342.1 380.5,341.5 380.9,343.0 381.3,344.4 381.7,344.6 382.1,345.1 382.5,344.5 382.9,343.5 383.3,343.5 383.7,344.6 384.1,345.7 384.5,344.5 384.9,343.1 385.3,342.7 385.7,342.0 386.1,340.8 386.5,340.2 386.9,340.2 387.3,341.0 387.7,341.9 388.1,341.7 388.5,341.2 388.9,341.5 389.3,341.2 389.7,341.2 390.1,342.1 390.5,342.4 390.9,342.0 391.3,342.1 391.7,342.2 392.1,341.6 392.5,340.3 392.9,340.1 393.3,341.5 393.7,341.5 394.1,341.7 394.5,341.5 394.9,341.3 395.3,342.3 395.7,342.1 396.1,341.5 396.5,341.1 396.9,340.6 397.3,340.7 397.7,341.4 398.1,340.6 398.5,339.8 398.9,339.7 399.3,339.5 399.7,339.8 400.1,339.8 400.5,340.7 400.9,341.8 401.3,341.5 401.7,341.7 402.1,341.5 402.5,340.4 402.9,338.9 403.3,338.6 403.7,339.0 404.1,339.8 404.5,341.1 404.9,340.8 405.3,340.7 405.7,341.6 406.1,341.9 406.5,341.7 406.9,342.7 407.3,342.7 407.7,341.7 408.1,341.1 408.5,340.0 408.9,340.2 409.3,341.1 409.7,341.9 410.1,342.4 410.5,341.7 410.9,341.3 411.3,342.0 411.7,342.1 412.1,341.7 412.5,340.9 412.9,340.4 413.3,340.2 413.7,340.4 414.1,339.8 414.5,339.7 414.9,340.0 415.3,338.9 415.7,338.8 416.1,339.5 416.5,340.0 416.9,340.7 417.3,340.8 417.7,340.9 418.1,339.6 418.5,339.5 418.9,341.4 419.3,343.4 419.7,343.8 420.1,342.7 420.5,342.1 420.9,340.7 421.3,339.1 421.7,339.4 422.1,339.3 422.5,339.6 422.9,338.9 423.3,337.8 423.7,337.7 424.1,338.6 424.5,339.5 424.9,340.3 425.3,341.4 425.7,339.2 426.1,336.8 426.5,336.8 426.9,337.2 427.3,336.3 427.7,335.1 428.1,334.3 428.5,333.8 428.9,333.8 429.3,334.7 429.7,335.8 430.1,336.7 430.5,338.2 430.9,337.9 431.3,337.1 431.7,337.6 432.1,338.1 432.5,337.2 432.9,338.7 433.3,340.5 433.7,338.9 434.1,336.4 434.5,335.6 434.9,336.2 435.3,337.3 435.7,336.1 436.1,335.8 436.5,336.1 436.9,335.2 437.3,335.0 437.7,337.5 438.1,339.4 438.5,339.8 438.9,340.4 439.3,340.6 439.7,339.3 440.1,338.1 440.5,339.3 440.9,339.8 441.3,339.3 441.7,338.6 442.1,338.1 442.5,338.0 442.9,338.6 443.3,338.9 443.7,338.6 444.1,339.1 444.5,339.1 444.9,339.4 445.3,339.5 445.7,340.5 445.7,162.3 446.4,163.5 446.8,164.4 447.2,165.3 447.6,165.6 448.0,164.8 448.4,165.1 448.8,164.9 449.2,164.2 449.6,163.8 450.0,165.2 450.4,166.4 450.8,167.4 451.2,167.3 451.6,168.5 452.0,168.1 452.4,168.4 452.8,168.4 453.2,168.6 453.6,169.1 454.0,168.8 454.4,169.3 454.8,168.6 455.2,168.0 455.6,167.6 456.0,167.9 456.4,167.2 456.8,167.2 457.2,167.5 457.6,167.8 458.0,167.7 458.4,168.5 458.8,169.5 459.2,170.8 459.6,170.1 460.0,169.6 460.4,169.1 460.8,169.5 461.2,169.7 461.6,170.6 462.0,170.9 462.4,170.8 462.8,169.7 463.2,169.9 463.6,170.4 464.0,170.7 464.4,171.3 464.8,170.9 465.2,172.0 465.6,171.8 466.0,170.9 466.4,170.4 466.8,170.9 467.2,172.2 467.6,171.6 468.0,171.8 468.4,172.3 468.8,171.7 469.2,170.5 469.6,170.9 470.0,170.5 470.4,169.8 470.8,170.7 471.2,171.9 471.6,172.2 472.0,173.1 472.4,173.6 472.8,173.6 473.2,172.6 473.6,172.2 474.0,172.9 474.4,173.3 474.8,172.7 475.2,172.5 475.6,172.7 476.0,172.4 476.4,172.8 476.8,172.5 477.2,172.7 477.6,172.1 478.0,172.2 478.4,172.3 478.8,171.9 479.2,172.1 479.6,171.6 480.0,172.0 480.4,172.5 480.8,172.8 481.2,173.0 481.6,172.5 482.0,172.1 482.4,172.1 482.8,171.8 483.2,172.1 483.6,171.6 484.0,172.6 484.4,173.7 484.8,173.3 485.2,173.1 485.6,173.4 486.0,172.3 486.4,172.9 486.8,173.0 487.2,173.2 487.6,173.0 488.0,173.8 488.4,172.5 488.8,172.3 489.2,173.2 489.6,173.3 490.0,174.4 490.4,174.2 490.8,173.6 491.2,173.1 491.6,173.9 492.0,175.3 492.4,175.6 492.8,176.0 493.2,175.2 493.6,174.6 494.0,174.0 494.4,174.2 494.8,174.6 495.2,175.1 495.6,174.8 496.0,174.5 496.4,174.1 496.8,174.0 497.2,174.6 497.6,174.6 498.0,173.5 498.4,172.9 498.8,173.1 499.2,173.3 499.6,173.6 500.0,173.8 500.4,174.6 500.8,175.4 501.2,175.3 501.6,174.8 502.0,175.1 502.4,174.6 502.8,174.7 503.2,174.5 503.6,173.3 504.0,173.3 504.4,174.1 504.8,175.2 505.2,174.8 505.6,175.4 506.0,176.5 506.4,176.2 506.8,175.3 507.2,175.2 507.6,175.7 508.0,174.4 508.4,174.3 508.8,175.4 509.2,175.9 509.6,176.9 510.0,176.6 510.4,176.6 510.8,176.5 511.2,176.1 511.6,176.2 512.0,176.3 512.4,176.8 512.8,176.6 513.2,176.3 513.6,175.9 514.0,175.3 514.4,174.8 514.8,174.4 515.2,174.6 515.6,175.2 516.0,175.2 516.4,176.0 516.8,176.4 517.2,176.9 517.6,176.4 518.0,177.0 518.4,177.9 518.8,177.5 519.2,177.8 519.6,177.5 520.0,177.2 520.4,176.6 520.8,177.4 521.2,177.8 521.6,177.9 522.0,177.9 522.4,177.5 522.8,178.3 523.2,177.3 523.6,176.4 524.0,177.1 524.4,177.8 524.8,178.0 525.2,177.9 525.6,177.9 526.0,177.7 526.4,176.9 526.8,178.5 527.2,179.3 527.6,178.9 528.0,178.8 528.4,177.8 528.8,176.8 529.2,176.8 529.6,177.0 530.0,177.1 530.4,177.4 530.8,177.8 531.2,178.6 531.6,178.3 532.0,178.9 532.4,177.6 532.8,178.0 533.2,178.2 533.6,178.4 534.0,179.5 534.4,179.6 534.8,179.8 535.2,178.9 535.6,177.6 536.0,177.5 536.4,177.2 536.8,177.9 537.2,179.2 537.6,179.2 538.0,179.4 538.4,180.1 538.8,179.7 539.2,179.4 539.6,178.7 540.0,179.5 540.4,179.8 540.8,179.4 541.2,179.9 541.6,179.7 542.0,179.4 542.4,179.9 542.8,181.0 543.2,180.0 543.6,179.9 544.0,179.8 544.4,179.4 544.8,178.9 545.2,179.9 545.6,180.2 546.0,180.2 546.4,178.8 546.8,177.9 547.2,178.0 547.6,177.4 548.0,178.0 548.4,178.2 548.8,178.7 549.2,178.5 549.6,178.9 550.0,179.0 550.4,180.8 550.8,180.9 551.2,180.4 551.6,180.1 552.0,179.9 552.4,179.0 552.8,178.3 553.2,178.9 553.6,178.8 554.0,178.3 554.4,178.9 554.8,178.9 555.2,179.3 555.6,178.9 556.0,179.5 556.4,178.3 556.8,178.6 557.2,178.0 557.6,178.7 558.0,178.2 558.4,178.4 558.8,177.5 559.2,177.0 559.6,177.1 560.0,177.7 560.4,179.0 560.8,180.1 561.2,180.5 561.6,180.1 562.0,179.3 562.4,178.1 562.8,178.6 563.2,179.1 563.6,178.5 564.0,179.0 564.4,179.6 564.8,179.8 565.2,179.9 565.6,180.3 566.0,180.6 566.4,179.7 566.8,178.6 567.2,178.2 567.6,179.0 568.0,180.1 568.4,180.2 568.8,180.0 569.2,179.9 569.6,178.7 570.0,178.1 570.4,178.7 570.8,179.9 571.2,180.0 571.6,180.1 572.0,179.7 572.4,179.9 572.8,179.0 573.2,179.5 573.6,180.2 574.0,180.9 574.4,180.1 574.8,178.9 575.2,179.4 575.6,180.3 576.0,180.2 576.4,179.7 576.8,178.6 577.2,178.1 577.6,179.2 578.0,179.9 578.4,179.4 578.8,179.3 579.2,179.4 579.6,178.3 580.0,178.4 580.4,177.9 580.8,179.1 581.2,179.7 581.6,180.1 582.0,180.0 582.4,179.8 582.8,179.8 583.2,180.4 583.6,179.6 584.0,180.5 584.4,179.7 584.8,179.4 585.2,179.5 585.6,179.3 586.0,179.2 586.4,178.6 586.8,178.9 587.2,179.2 587.6,178.9 588.0,178.0 588.4,177.8 588.8,177.8 589.2,179.2 589.6,179.9 590.0,179.5 590.4,179.1 590.8,179.8 591.2,180.1 591.6,179.9 592.0,179.2 592.4,179.8 592.8,180.4 593.2,179.9 593.6,180.2 594.0,180.1 594.4,180.1 594.8,179.0 595.2,180.3 595.6,180.4 596.0,180.1 596.4,179.9 596.8,179.8 597.2,179.5 597.6,179.4 598.0,179.1 598.4,178.6 598.8,179.1 599.2,179.4 599.6,178.7 600.0,178.0 600.4,178.5 600.8,179.4 601.2,179.4 601.6,180.1 602.0,180.4 602.4,180.5 602.8,180.1 603.2,180.4 603.6,181.3 604.0,181.1 604.4,180.7 604.8,181.3 605.2,181.4 605.6,181.9 606.0,181.0 606.4,181.7 606.8,181.2 607.2,179.0 607.6,178.4 608.0,179.4 608.4,180.4 608.8,181.1 609.2,181.4 609.6,180.8 610.0,181.0 610.4,181.7 610.8,180.7 611.2,180.9 611.6,180.7 612.0,180.5 612.4,180.1 612.8,180.6 613.2,181.6 613.6,181.7 614.0,180.7 614.4,180.7 614.8,181.5 615.2,181.6 615.6,181.2 616.0,180.7 616.4,180.9 616.8,181.9 617.2,182.0 617.6,182.4 618.0,181.5 618.4,181.2 618.4,164.9 619.1,165.0 619.5,164.0 619.9,162.6 620.3,162.2 620.7,161.9 621.1,161.8 621.5,162.5 621.9,162.0 622.3,161.8 622.7,161.7 623.1,162.5 623.5,163.2 623.9,162.8 624.3,161.9 624.7,162.1 625.1,162.9 625.5,162.9 625.9,162.9 626.3,162.3 626.7,161.3 627.1,162.5 627.5,164.2 627.9,164.6 628.3,163.7 628.7,163.0 629.1,163.8 629.5,164.1 629.9,162.7 630.3,161.9 630.7,161.9 631.1,161.3 631.5,160.0 631.9,159.6 632.3,160.4 632.7,161.7 633.1,162.5 633.5,162.6 633.9,163.4 634.3,165.0 634.7,165.7 635.1,164.3 635.5,162.9 635.9,163.2 636.3,163.3 636.7,163.5 637.1,163.8 637.5,163.1 637.9,161.7 638.3,161.6 638.7,162.8 639.1,164.2 639.5,164.8 639.9,163.9 640.3,162.6 640.7,162.0 641.1,161.5 641.5,161.0 641.9,161.1 642.3,161.8 642.7,162.3 643.1,162.2 643.5,162.4 643.9,162.4 644.3,162.4 644.7,162.5 645.1,162.7 645.5,161.9 645.9,161.0 646.3,162.0 646.7,162.6 647.1,162.5 647.5,162.4 647.9,162.3 648.3,162.4 648.7,162.5 649.1,163.0 649.5,162.7 649.9,161.7 650.3,162.1 650.7,163.2 651.1,163.3 651.5,162.7 651.9,161.8 652.3,162.0 652.7,162.7 653.1,163.0 653.5,162.6 653.9,162.1 654.3,162.1 654.7,161.8 655.1,161.3 655.5,161.2 655.9,161.2 656.3,161.6 656.7,162.9 657.1,163.8 657.5,163.5 657.9,162.4 658.3,162.1 658.7,162.5 659.1,162.4 659.5,162.2 659.9,161.9 660.3,161.9 660.7,162.5 661.1,161.6 661.5,161.5 661.9,162.4 662.3,162.7 662.7,163.4 663.1,163.6 663.5,163.1 663.9,162.1 664.3,161.2 664.7,161.5 665.1,162.3 665.5,162.2 665.9,161.4 666.3,161.2 666.7,161.7 667.1,162.6 667.5,163.4 667.9,163.6 668.3,163.6 668.7,164.2 669.1,164.5 669.5,164.0 669.9,163.1 670.3,163.4 670.7,163.2 671.1,162.4 671.5,163.1 671.9,163.8 672.3,163.9 672.7,163.8 673.1,163.6 673.5,162.9 673.9,162.7 674.3,163.4 674.7,163.2 675.1,162.8 675.5,163.8 675.9,164.5 676.3,163.9 676.7,163.3 677.1,163.8 677.5,164.1 677.9,163.8 678.3,163.0 678.7,162.3 679.1,162.0 679.5,162.4 679.9,162.9 680.3,162.4 680.7,162.3 681.1,162.6 681.5,161.9 681.9,161.0 682.3,161.5 682.7,162.9 683.1,164.0 683.5,163.5 683.9,162.1 684.3,161.6 684.7,162.1 685.1,162.5 685.5,162.5 685.9,162.4 686.3,162.2 686.7,162.9 687.1,162.7 687.5,161.4 687.9,162.0 688.3,163.1 688.7,163.3 689.1,163.1 689.5,163.0 689.9,163.1 690.3,163.2 690.7,163.7 691.1,164.5 691.5,164.6 691.9,163.8 692.3,162.7 692.7,162.7 693.1,163.1 693.5,162.8 693.9,162.9 694.3,163.1 694.7,164.4 695.1,164.3 695.5,162.8 695.9,161.6 696.3,161.3 696.7,162.5 697.1,163.8 697.5,163.8 697.9,163.8 698.3,164.5 698.7,164.2 699.1,163.4 699.5,163.3 699.9,164.3 700.3,165.0 700.7,163.6 701.1,162.2 701.5,163.2 701.9,164.7 702.3,164.3 702.7,163.1 703.1,162.5 703.5,162.1 703.9,162.4 704.3,162.2 704.7,161.9"/>
<path d="M101.5,166.2 101.9,166.0 102.3,165.5 102.7,165.4 103.1,165.9 103.5,167.0 103.9,168.0 104.3,168.2 104.7,168.0 105.1,167.8 105.5,167.7 105.9,167.5 106.3,167.2 106.7,166.8 107.1,166.0 107.5,165.6 107.9,166.1 108.3,167.1 108.7,167.4 109.1,167.2 109.5,166.9 109.9,166.8 110.3,166.7 110.7,166.7 111.1,166.8 111.5,166.9 111.9,167.0 112.3,166.7 112.7,166.3 113.1,166.2 113.5,166.1 113.9,165.9 114.3,165.9 114.7,166.2 115.1,166.6 115.5,166.9 115.9,166.9 116.3,166.7 116.7,166.4 117.1,166.3 117.5,166.4 117.9,166.7 118.3,167.0 118.7,167.2 119.1,167.2 119.5,167.3 119.9,167.6 120.3,167.5 120.7,167.2 121.1,167.0 121.5,166.8 121.9,166.8 122.3,166.7 122.7,166.6 123.1,166.8 123.5,167.4 123.9,167.7 124.3,167.4 124.7,167.1 125.1,166.7 125.5,166.2 125.9,165.8 126.3,165.3 126.7,164.9 127.1,165.0 127.5,166.0 127.9,167.0 128.3,167.3 128.7,166.8 129.1,166.3 129.5,166.4 129.9,166.7 130.3,166.5 130.7,166.3 131.1,166.6 131.5,167.0 131.9,167.2 132.3,167.4 132.7,167.6 133.1,167.5 133.5,167.2 133.9,167.0 134.3,167.0 134.7,167.1 135.1,167.5 135.1,149.5 135.9,149.1 136.3,148.7 136.7,148.7 137.1,148.9 137.5,148.6 137.9,148.2 138.3,148.2 138.7,148.7 139.1,149.0 139.5,149.1 139.9,149.2 140.3,149.5 140.7,149.5 141.1,148.9 141.5,148.3 141.9,148.4 142.3,148.9 142.7,149.3 143.1,149.1 143.5,148.5 143.9,148.2 143.9,166.6 144.7,167.1 145.1,167.4 145.5,166.9 145.9,166.0 146.3,165.5 146.7,165.9 147.1,166.3 147.5,166.4 147.9,166.7 148.3,167.1 148.7,166.9 149.1,166.6 149.5,166.6 149.9,166.8 150.3,167.1 150.7,167.4 151.1,167.9 151.5,168.0 151.9,167.4 152.3,166.8 152.7,166.9 153.1,167.5 153.5,167.9 153.9,167.8 154.3,167.4 154.7,167.0 155.1,166.7 155.5,166.5 155.9,166.6 156.3,166.9 156.7,167.1 157.1,166.8 157.5,166.5 157.9,166.4 158.3,166.5 158.7,166.7 159.1,167.0 159.5,167.3 159.9,167.5 160.3,167.3 160.7,166.7 161.1,166.4 161.5,166.5 161.9,166.9 162.3,167.1 162.7,167.2 163.1,167.2 163.5,167.1 163.9,166.8 164.3,166.7 164.7,166.8 165.1,166.9 165.5,167.1 165.9,167.5 166.3,167.6 166.7,167.3 167.1,166.5 167.5,165.9 167.9,165.6 168.3,165.8 168.7,166.4 169.1,166.7 169.5,166.7 169.9,166.7 170.3,166.9 170.7,166.9 171.1,166.5 171.5,166.3 171.9,166.3 172.3,166.6 172.7,167.0 173.1,167.5 173.5,167.7 173.9,167.5 174.3,167.1 174.7,166.6 175.1,166.3 175.5,166.6 175.9,167.1 176.3,167.3 176.7,167.0 177.1,166.6 177.5,166.2 177.9,165.8 178.3,165.4 178.7,165.5 179.1,165.8 179.5,166.1 179.9,166.4 180.3,166.7 180.7,167.2 181.1,167.8 181.5,168.1 181.9,168.0 182.3,167.7 182.7,167.6 183.1,167.5 183.5,167.2 183.9,167.1 184.3,167.1 184.7,167.2 185.1,167.3 185.5,167.2 185.9,167.1 186.3,166.8 186.7,166.7 186.7,459.8 187.3,460.3 187.7,454.3 188.1,446.8 188.5,438.9 188.9,431.7 189.3,427.2 189.7,424.1 190.1,421.7 190.5,419.9 190.9,417.1 191.3,414.4 191.7,412.2 192.1,410.2 192.5,408.5 192.9,407.0 193.3,405.9 193.7,404.9 194.1,403.3 194.5,401.2 194.9,400.6 195.3,399.6 195.7,397.7 196.1,395.1 196.5,394.3 196.9,394.7 197.3,393.9 197.7,393.5 198.1,391.8 198.5,389.7 198.9,388.1 199.3,387.5 199.7,387.0 200.1,387.2 200.5,388.9 200.9,388.1 201.3,387.2 201.7,388.3 202.1,387.5 202.5,385.4 202.9,384.5 203.3,385.1 203.7,384.6 204.1,382.7 204.5,382.4 204.9,381.6 205.3,381.5 205.7,381.5 206.1,382.2 206.5,382.9 206.9,382.4 207.3,380.8 207.7,380.0 208.1,377.4 208.5,377.1 208.9,377.5 209.3,377.4 209.7,377.1 210.1,375.9 210.5,377.0 210.9,378.3 211.3,377.2 211.7,375.8 212.1,375.8 212.5,375.0 212.9,373.9 213.3,373.9 213.7,372.3 214.1,371.3 214.5,372.0 214.9,372.1 215.3,372.6 215.7,373.2 216.1,373.4 216.5,374.1 216.9,374.4 217.3,373.9 217.7,372.3 218.1,372.2 218.5,372.5 218.9,371.2 219.3,368.8 219.7,368.9 220.1,370.1 220.5,370.0 220.9,368.5 221.3,367.4 221.7,366.7 222.1,365.1 222.5,365.4 222.9,367.7 223.3,368.2 223.7,367.3 224.1,367.2 224.5,367.8 224.9,366.2 225.3,365.2 225.7,365.5 226.1,364.0 226.5,364.1 226.9,364.6 227.3,363.8 227.7,363.5 228.1,364.0 228.5,363.9 228.9,365.4 229.3,366.9 229.7,366.9 230.1,367.1 230.5,365.0 230.9,362.4 231.3,361.0 231.7,360.8 232.1,360.8 232.5,362.1 232.9,363.6 233.3,363.1 233.7,361.7 234.1,362.6 234.5,362.5 234.9,362.6 235.3,362.6 235.7,362.2 236.1,361.7 236.5,362.2 236.9,361.9 237.3,360.5 237.7,360.8 238.1,362.5 238.5,364.0 238.9,364.8 239.3,365.2 239.7,364.8 240.1,363.6 240.5,362.8 240.9,361.9 241.3,360.3 241.7,358.1 242.1,357.9 242.5,359.6 242.9,360.5 243.3,360.7 243.7,360.9 244.1,361.8 244.5,362.9 244.9,363.2 245.3,364.2 245.7,364.8 246.1,363.1 246.5,362.7 246.9,362.3 247.3,361.2 247.7,361.9 248.1,363.8 248.5,363.5 248.9,362.5 249.3,361.8 249.7,360.5 250.1,360.9 250.5,360.0 250.9,359.8 251.3,361.2 251.7,361.4 252.1,360.4 252.5,358.5 252.9,355.9 253.3,355.3 253.7,357.4 254.1,359.0 254.5,358.9 254.9,358.8 255.3,357.6 255.7,356.9 256.1,357.7 256.5,358.5 256.9,359.0 257.3,359.1 257.7,358.2 258.1,358.7 258.5,359.3 258.9,358.6 259.3,358.7 259.7,359.3 260.1,359.7 260.5,360.2 260.9,359.5 261.3,357.5 261.7,356.3 262.1,358.0 262.5,358.8 262.9,358.0 263.3,357.2 263.7,357.0 264.1,356.7 264.5,355.3 264.9,354.3 265.3,353.6 265.7,353.7 266.1,353.7 266.5,353.4 266.9,353.6 267.3,355.6 267.7,356.1 268.1,354.6 268.5,355.9 268.9,355.6 269.3,354.4 269.7,354.3 270.1,354.1 270.5,354.6 270.9,355.7 271.3,355.5 271.7,354.9 272.1,354.2 272.5,353.6 272.9,353.1 273.3,353.4 273.7,353.9 274.1,355.1 274.5,355.3 274.9,355.8 275.3,356.1 275.7,355.0 276.1,353.5 276.5,352.9 276.9,351.2 277.3,351.1 277.7,349.8 278.1,350.5 278.5,351.7 278.9,351.0 279.3,349.9 279.7,350.9 280.1,352.4 280.5,352.6 280.9,354.0 281.3,354.6 281.7,353.6 282.1,351.9 282.5,351.2 282.9,352.5 283.3,355.4 283.7,355.8 284.1,354.9 284.5,354.2 284.9,352.9 285.3,350.8 285.7,350.7 286.1,349.4 286.5,348.5 286.9,350.1 287.3,350.3 287.7,350.3 288.1,349.9 288.5,350.5 288.9,351.8 289.3,351.2 289.7,349.8 290.1,348.6 290.5,349.1 290.9,349.0 291.3,349.0 291.7,348.8 292.1,349.7 292.5,350.0 292.9,349.4 293.3,350.2 293.7,350.8 294.1,351.8 294.5,351.6 294.9,352.1 295.3,353.9 295.7,353.4 296.1,352.5 296.5,352.9 296.9,352.8 297.3,352.1 297.7,350.9 298.1,351.2 298.5,349.7 298.9,348.4 299.3,348.1 299.7,349.4 300.1,351.3 300.5,350.9 300.9,349.9 301.3,350.2 301.7,350.5 302.1,350.0 302.5,348.7 302.9,348.7 303.3,349.2 303.7,347.1 304.1,345.3 304.5,344.7 304.9,345.6 305.3,346.3 305.7,347.9 306.1,348.5 306.5,347.7 306.9,346.3 307.3,345.5 307.7,345.1 308.1,345.2 308.5,345.3 308.9,346.0 309.3,347.0 309.7,347.5 310.1,347.9 310.5,349.1 310.9,349.6 311.3,349.5 311.7,350.3 312.1,349.4 312.5,348.8 312.9,348.0 313.3,346.2 313.7,346.8 314.1,347.6 314.5,347.1 314.9,346.1 315.3,344.7 315.7,343.0 316.1,343.6 316.5,344.8 316.9,344.6 317.3,345.8 317.7,347.5 318.1,348.9 318.5,349.7 318.9,349.1 319.3,348.0 319.7,348.0 320.1,348.9 320.5,348.7 320.9,347.3 321.3,345.5 321.7,343.7 322.1,342.6 322.5,343.8 322.9,345.3 323.3,345.8 323.7,347.3 324.1,349.0 324.5,349.6 324.9,347.9 325.3,346.1 325.7,344.8 326.1,344.0 326.5,343.7 326.9,344.7 327.3,347.1 327.7,348.1 328.1,348.2 328.5,347.4 328.9,347.3 329.3,348.9 329.7,351.2 330.1,350.2 330.5,347.6 330.9,347.2 331.3,347.2 331.7,346.6 332.1,347.2 332.5,348.2 332.9,347.8 333.3,346.7 333.7,345.5 334.1,345.1 334.5,345.4 334.9,346.0 335.3,347.2 335.7,346.9 336.1,346.4 336.5,345.7 336.9,345.4 337.3,345.9 337.7,346.1 338.1,346.6 338.5,348.5 338.9,349.7 339.3,348.6 339.7,347.0 340.1,345.4 340.5,344.6 340.9,345.6 341.3,346.0 341.7,345.6 342.1,346.1 342.5,346.7 342.9,347.6 343.3,346.8 343.7,346.1 344.1,345.1 344.5,342.8 344.9,343.2 345.3,343.7 345.7,343.8 346.1,345.0 346.5,346.2 346.9,345.8 347.3,346.4 347.7,348.2 348.1,348.3 348.5,347.6 348.9,347.2 349.3,346.6 349.7,346.4 350.1,346.9 350.5,347.2 350.9,346.3 351.3,345.0 351.7,344.9 352.1,344.9 352.5,344.6 352.9,344.8 353.3,344.9 353.7,344.8 354.1,344.2 354.5,344.0 354.9,344.8 355.3,344.9 355.7,343.8 356.1,343.7 356.5,344.8 356.9,344.6 357.3,344.6 357.7,344.6 358.1,345.4 358.5,346.7 358.9,346.3 359.3,344.0 359.7,342.4 360.1,342.4 360.5,345.5 360.9,347.2 361.3,346.2 361.7,345.1 362.1,344.5 362.5,343.5 362.9,344.1 363.3,344.9 363.7,344.7 364.1,343.7 364.5,342.6 364.9,342.1 365.3,342.3 365.7,343.6 366.1,343.0 366.5,341.6 366.9,341.2 367.3,341.5 367.7,341.7 368.1,342.9 368.5,344.2 368.9,344.9 369.3,344.3 369.7,343.1 370.1,343.3 370.5,342.6 370.9,343.1 371.3,345.1 371.7,344.4 372.1,343.3 372.5,342.4 372.9,341.9 373.3,342.0 373.7,340.8 374.1,341.6 374.5,343.1 374.9,345.1 375.3,345.7 375.7,344.6 376.1,343.5 376.5,344.2 376.9,344.4 377.3,343.4 377.7,342.2 378.1,341.5 378.5,340.4 378.9,340.4 379.3,340.5 379.7,339.8 380.1,339.4 380.5,339.7 380.9,339.8 381.3,340.7 381.7,342.5 382.1,342.6 382.5,342.1 382.9,342.2 383.3,342.6 383.7,342.3 384.1,342.4 384.5,343.3 384.9,343.3 385.3,342.6 385.7,342.8 386.1,343.7 386.5,343.4 386.9,343.4 387.3,343.0 387.7,342.1 388.1,342.3 388.5,342.8 388.9,341.7 389.3,340.8 389.7,340.3 390.1,340.0 390.5,339.4 390.9,339.3 391.3,339.0 391.7,339.8 392.1,340.1 392.5,339.5 392.9,339.5 393.3,341.4 393.7,342.7 394.1,342.3 394.5,342.7 394.9,344.3 395.3,344.8 395.7,345.0 396.1,344.5 396.5,343.0 396.9,342.5 397.3,341.0 397.7,340.3 398.1,341.3 398.5,342.2 398.9,341.4 399.3,341.0 399.7,340.8 400.1,342.0 400.5,343.4 400.9,344.7 401.3,344.9 401.7,344.1 402.1,343.1 402.5,343.9 402.9,344.3 403.3,343.9 403.7,343.9 404.1,344.3 404.5,343.9 404.9,342.4 405.3,341.7 405.7,341.3 406.1,340.3 406.5,339.0 406.9,339.2 407.3,341.6 407.7,343.4 408.1,343.8 408.5,342.6 408.9,341.5 409.3,341.7 409.7,341.3 410.1,340.1 410.5,338.8 410.9,338.0 411.3,338.1 411.7,338.6 412.1,339.3 412.5,340.2 412.9,341.6 413.3,342.7 413.7,342.3 414.1,342.1 414.5,340.9 414.9,340.3 415.3,340.0 415.7,340.2 416.1,342.2 416.5,342.6 416.9,343.0 417.3,343.4 417.7,342.5 418.1,341.0 418.5,338.8 418.9,339.5 419.3,339.6 419.7,339.5 420.1,340.2 420.5,339.6 420.9,338.4 421.3,338.5 421.7,340.0 422.1,339.5 422.5,341.2 422.9,343.1 423.3,342.2 423.7,340.2 424.1,339.0 424.5,338.1 424.9,337.7 425.3,336.7 425.7,335.2 426.1,335.2 426.5,336.2 426.9,335.5 427.3,336.3 427.7,338.6 428.1,337.9 428.5,337.2 428.9,337.7 429.3,338.1 429.7,336.9 430.1,335.5 430.5,334.2 430.9,335.0 431.3,336.5 431.7,338.0 432.1,339.5 432.5,338.8 432.9,336.7 433.3,336.8 433.7,337.6 434.1,337.9 434.5,338.2 434.9,338.1 435.3,337.0 435.7,337.7 436.1,339.7 436.5,338.9 436.9,337.1 437.3,336.9 437.7,336.6 438.1,335.7 438.5,336.0 438.9,337.1 439.3,336.9 439.7,337.8 440.1,339.0 440.5,340.3 440.9,341.6 441.3,340.9 441.7,341.2 442.1,339.5 442.5,338.8 442.9,339.4 443.3,340.0 443.7,339.6 444.1,338.5 444.5,338.3 444.9,338.9 445.3,338.6 445.7,337.4 445.7,168.0 446.4,169.7 446.8,170.5 447.2,170.3 447.6,171.3 448.0,172.6 448.4,172.2 448.8,173.0 449.2,172.6 449.6,172.5 450.0,172.8 450.4,173.1 450.8,173.6 451.2,173.9 451.6,174.2 452.0,175.1 452.4,174.9 452.8,175.4 453.2,175.5 453.6,176.4 454.0,176.7 454.4,177.2 454.8,177.8 455.2,177.6 455.6,177.2 456.0,177.1 456.4,176.4 456.8,175.7 457.2,175.7 457.6,176.8 458.0,177.1 458.4,177.7 458.8,177.2 459.2,175.7 459.6,176.2 460.0,177.1 460.4,177.2 460.8,178.2 461.2,179.6 461.6,178.9 462.0,178.3 462.4,177.5 462.8,177.0 463.2,177.3 463.6,177.8 464.0,178.8 464.4,179.6 464.8,179.1 465.2,178.9 465.6,178.5 466.0,179.0 466.4,179.0 466.8,178.8 467.2,179.0 467.6,178.4 468.0,178.9 468.4,179.9 468.8,180.3 469.2,179.2 469.6,179.3 470.0,179.3 470.4,180.1 470.8,180.1 471.2,180.3 471.6,180.4 472.0,181.8 472.4,181.3 472.8,181.8 473.2,180.7 473.6,181.3 474.0,181.9 474.4,182.3 474.8,181.3 475.2,180.2 475.6,180.5 476.0,179.8 476.4,179.7 476.8,180.2 477.2,180.5 477.6,181.3 478.0,181.1 478.4,181.2 478.8,181.6 479.2,182.0 479.6,183.1 480.0,183.5 480.4,183.2 480.8,181.9 481.2,181.3 481.6,180.9 482.0,180.9 482.4,181.2 482.8,181.8 483.2,182.2 483.6,183.5 484.0,184.0 484.4,183.4 484.8,182.8 485.2,182.7 485.6,182.2 486.0,182.6 486.4,182.4 486.8,183.1 487.2,183.0 487.6,183.6 488.0,183.2 488.4,183.4 488.8,182.8 489.2,182.6 489.6,182.7 490.0,183.3 490.4,184.0 490.8,183.9 491.2,183.7 491.6,183.3 492.0,184.2 492.4,184.2 492.8,184.2 493.2,184.6 493.6,185.9 494.0,185.7 494.4,185.0 494.8,183.5 495.2,183.2 495.6,184.5 496.0,185.4 496.4,185.0 496.8,184.6 497.2,184.4 497.6,183.6 498.0,183.8 498.4,183.7 498.8,183.3 499.2,183.1 499.6,182.6 500.0,182.6 500.4,183.1 500.8,184.9 501.2,185.7 501.6,185.1 502.0,184.6 502.4,184.6 502.8,184.7 503.2,186.0 503.6,185.9 504.0,185.4 504.4,185.9 504.8,185.6 505.2,186.0 505.6,185.6 506.0,185.9 506.4,185.3 506.8,184.6 507.2,184.1 507.6,183.7 508.0,183.3 508.4,183.8 508.8,184.0 509.2,184.7 509.6,184.8 510.0,184.0 510.4,184.2 510.8,184.2 511.2,185.1 511.6,186.1 512.0,186.7 512.4,186.8 512.8,186.3 513.2,185.9 513.6,186.4 514.0,186.7 514.4,186.1 514.8,185.9 515.2,185.4 515.6,184.8 516.0,185.4 516.4,185.3 516.8,184.9 517.2,185.2 517.6,186.0 518.0,185.5 518.4,186.1 518.8,186.0 519.2,186.2 519.6,185.5 520.0,185.4 520.4,185.6 520.8,186.6 521.2,186.4 521.6,185.3 522.0,185.6 522.4,185.9 522.8,186.4 523.2,187.0 523.6,187.2 524.0,187.6 524.4,187.0 524.8,186.8 525.2,186.7 525.6,186.2 526.0,187.5 526.4,186.7 526.8,186.1 527.2,186.2 527.6,186.3 528.0,186.7 528.4,186.6 528.8,186.6 529.2,186.2 529.6,185.7 530.0,186.5 530.4,186.9 530.8,187.0 531.2,186.8 531.6,187.3 532.0,187.3 532.4,186.6 532.8,186.1 533.2,186.7 533.6,187.6 534.0,188.7 534.4,189.4 534.8,189.7 535.2,188.9 535.6,188.4 536.0,187.5 536.4,186.7 536.8,186.0 537.2,186.3 537.6,185.5 538.0,187.2 538.4,188.7 538.8,188.6 539.2,187.9 539.6,187.0 540.0,186.8 540.4,187.8 540.8,188.4 541.2,187.5 541.6,187.0 542.0,187.0 542.4,188.1 542.8,188.2 543.2,187.5 543.6,187.5 544.0,187.7 544.4,187.6 544.8,188.3 545.2,188.4 545.6,187.8 546.0,188.5 546.4,188.6 546.8,187.8 547.2,187.2 547.6,185.7 548.0,185.3 548.4,184.8 548.8,185.5 549.2,185.7 549.6,186.7 550.0,187.4 550.4,188.4 550.8,188.9 551.2,187.7 551.6,187.6 552.0,186.7 552.4,187.1 552.8,186.9 553.2,186.3 553.6,186.9 554.0,188.1 554.4,188.2 554.8,187.6 555.2,186.7 555.6,187.0 556.0,187.5 556.4,187.0 556.8,188.2 557.2,189.0 557.6,188.8 558.0,188.0 558.4,187.1 558.8,188.2 559.2,188.4 559.6,188.9 560.0,187.9 560.4,187.6 560.8,187.4 561.2,187.8 561.6,186.6 562.0,186.7 562.4,187.6 562.8,187.8 563.2,188.2 563.6,188.7 564.0,188.1 564.4,187.9 564.8,187.9 565.2,188.4 565.6,188.5 566.0,188.8 566.4,188.1 566.8,186.8 567.2,186.6 567.6,187.7 568.0,188.3 568.4,189.2 568.8,188.1 569.2,188.0 569.6,187.9 570.0,188.6 570.4,189.0 570.8,189.0 571.2,188.6 571.6,187.1 572.0,187.0 572.4,187.2 572.8,186.9 573.2,187.1 573.6,186.6 574.0,187.0 574.4,187.7 574.8,188.2 575.2,188.2 575.6,187.5 576.0,188.2 576.4,188.1 576.8,187.8 577.2,187.9 577.6,186.6 578.0,187.1 578.4,187.2 578.8,187.7 579.2,188.7 579.6,189.5 580.0,189.7 580.4,189.6 580.8,190.1 581.2,189.9 581.6,189.7 582.0,189.3 582.4,188.5 582.8,187.7 583.2,187.5 583.6,188.4 584.0,188.0 584.4,188.8 584.8,189.3 585.2,189.4 585.6,189.4 586.0,188.5 586.4,188.4 586.8,188.8 587.2,189.2 587.6,189.9 588.0,189.4 588.4,189.4 588.8,188.6 589.2,188.4 589.6,188.5 590.0,187.3 590.4,187.9 590.8,187.1 591.2,187.2 591.6,187.5 592.0,187.9 592.4,187.7 592.8,187.5 593.2,189.3 593.6,189.1 594.0,188.7 594.4,188.2 594.8,188.9 595.2,188.9 595.6,188.6 596.0,188.4 596.4,188.9 596.8,189.0 597.2,188.9 597.6,189.5 598.0,189.4 598.4,190.0 598.8,190.0 599.2,191.5 599.6,191.3 600.0,190.0 600.4,188.3 600.8,188.4 601.2,187.4 601.6,187.2 602.0,187.1 602.4,187.6 602.8,188.5 603.2,189.1 603.6,190.0 604.0,189.8 604.4,189.6 604.8,189.8 605.2,190.4 605.6,190.2 606.0,190.1 606.4,189.0 606.8,188.3 607.2,187.6 607.6,186.5 608.0,186.4 608.4,187.6 608.8,187.6 609.2,188.4 609.6,188.8 610.0,189.4 610.4,190.1 610.8,189.5 611.2,190.2 611.6,190.6 612.0,190.6 612.4,190.7 612.8,190.5 613.2,190.1 613.6,189.2 614.0,188.3 614.4,188.9 614.8,189.4 615.2,189.5 615.6,189.7 616.0,190.0 616.4,189.4 616.8,189.3 617.2,188.5 617.6,188.0 618.0,188.8 618.4,189.0 618.4,161.8 619.1,161.7 619.5,161.5 619.9,161.8 620.3,162.4 620.7,162.6 621.1,162.0 621.5,161.5 621.9,161.3 622.3,161.1 622.7,161.2 623.1,162.1 623.5,162.4 623.9,161.9 624.3,161.2 624.7,160.3 625.1,159.7 625.5,159.7 625.9,160.6 626.3,161.9 626.7,161.5 627.1,160.2 627.5,160.8 627.9,162.9 628.3,164.0 628.7,164.0 629.1,163.6 629.5,162.2 629.9,161.7 630.3,162.3 630.7,163.5 631.1,163.2 631.5,162.6 631.9,162.0 632.3,161.2 632.7,160.4 633.1,159.6 633.5,160.0 633.9,161.1 634.3,162.6 634.7,163.3 635.1,162.2 635.5,160.8 635.9,160.9 636.3,161.8 636.7,161.8 637.1,161.2 637.5,161.1 637.9,161.8 638.3,162.5 638.7,162.4 639.1,161.5 639.5,161.0 639.9,160.9 640.3,161.6 640.7,162.0 641.1,162.1 641.5,162.2 641.9,162.1 642.3,163.1 642.7,163.3 643.1,163.0 643.5,162.3 643.9,161.5 644.3,161.8 644.7,162.7 645.1,162.7 645.5,162.4 645.9,162.4 646.3,163.0 646.7,162.6 647.1,162.4 647.5,163.8 647.9,164.3 648.3,163.6 648.7,163.0 649.1,163.0 649.5,164.1 649.9,164.6 650.3,162.9 650.7,161.5 651.1,161.8 651.5,162.6 651.9,162.5 652.3,161.5 652.7,161.3 653.1,162.2 653.5,163.4 653.9,163.8 654.3,163.5 654.7,163.4 655.1,162.7 655.5,161.4 655.9,160.0 656.3,160.1 656.7,161.0 657.1,162.0 657.5,162.0 657.9,161.4 658.3,161.8 658.7,162.2 659.1,162.2 659.5,161.7 659.9,162.0 660.3,162.9 660.7,162.9 661.1,162.7 661.5,161.8 661.9,161.5 662.3,161.4 662.7,161.5 663.1,161.8 663.5,161.4 663.9,161.0 664.3,160.8 664.7,162.0 665.1,163.1 665.5,164.1 665.9,164.1 666.3,162.6 666.7,161.5 667.1,161.0 667.5,161.3 667.9,162.1 668.3,162.7 668.7,163.2 669.1,163.4 669.5,163.0 669.9,162.2 670.3,161.7 670.7,161.2 671.1,160.4 671.5,159.8 671.9,160.9 672.3,161.8 672.7,161.6 673.1,160.9 673.5,160.3 673.9,160.7 674.3,161.5 674.7,162.3 675.1,162.5 675.5,162.1 675.9,162.1 676.3,162.1 676.7,162.3 677.1,163.6 677.5,164.4 677.9,163.3 678.3,162.4 678.7,162.9 679.1,163.7 679.5,163.3 679.9,161.9 680.3,161.7 680.7,161.5 681.1,161.8 681.5,162.4 681.9,162.6 682.3,161.9 682.7,161.3 683.1,161.4 683.5,161.9 683.9,162.6 684.3,162.0 684.7,162.2 685.1,162.4 685.5,161.9 685.9,161.2 686.3,161.2 686.7,161.4 687.1,161.5 687.5,161.8 687.9,162.0 688.3,162.2 688.7,162.7 689.1,162.8 689.5,162.5 689.9,162.6 690.3,162.4 690.7,162.1 691.1,162.8 691.5,163.1 691.9,161.8 692.3,161.1 692.7,162.4 693.1,162.8 693.5,161.8 693.9,161.8 694.3,161.5 694.7,160.9 695.1,162.2 695.5,163.5 695.9,163.8 696.3,163.5 696.7,162.7 697.1,163.5 697.5,163.4 697.9,161.3 698.3,161.3 698.7,162.0 699.1,161.1 699.5,160.6 699.9,161.6 700.3,162.1 700.7,161.9 701.1,162.6 701.5,163.5 701.9,163.5 702.3,162.5 702.7,161.2 703.1,160.4 703.5,159.7 703.9,160.4 704.3,161.9 704.7,162.6"/>
<path d="M101.5,166.7 101.9,166.5 102.3,166.0 102.7,165.8 103.1,165.9 103.5,166.2 103.9,166.3 104.3,166.6 104.7,167.0 105.1,167.3 105.5,167.4 105.9,167.1 106.3,166.3 106.7,166.0 107.1,166.6 107.5,167.4 107.9,167.7 108.3,167.5 108.7,167.1 109.1,166.9 109.5,167.5 109.9,168.2 110.3,167.9 110.7,167.0 111.1,166.7 111.5,166.4 111.9,166.2 112.3,166.6 112.7,167.5 113.1,168.1 113.5,168.0 113.9,167.2 114.3,166.7 114.7,166.6 115.1,166.9 115.5,166.9 115.9,166.5 116.3,166.2 116.7,166.1 117.1,166.3 117.5,167.1 117.9,168.1 118.3,168.4 118.7,167.8 119.1,167.1 119.5,167.4 119.9,167.9 120.3,167.6 120.7,167.1 121.1,166.8 121.5,166.7 121.9,166.7 122.3,166.9 122.7,167.0 123.1,166.8 123.5,166.5 123.9,166.4 124.3,166.7 124.7,167.0 125.1,166.9 125.5,166.5 125.9,166.4 126.3,166.6 126.7,166.7 127.1,166.9 127.5,167.1 127.9,167.4 128.3,167.0 128.7,165.9 129.1,164.7 129.5,164.5 129.9,165.2 130.3,166.1 130.7,167.2 131.1,167.9 131.5,167.9 131.9,167.6 132.3,167.5 132.7,167.5 133.1,167.2 133.5,166.8 133.9,166.7 134.3,167.2 134.7,167.7 135.1,167.6 135.1,149.2 135.9,149.0 136.3,148.8 136.7,148.7 137.1,148.7 137.5,148.6 137.9,148.7 138.3,149.3 138.7,149.7 139.1,149.4 139.5,148.7 139.9,148.2 140.3,148.2 140.7,148.0 141.1,148.2 141.5,148.8 141.9,149.2 142.3,148.8 142.7,148.4 143.1,148.5 143.5,148.4 143.9,147.9 143.9,166.1 144.7,166.6 145.1,166.7 145.5,166.4 145.9,166.3 146.3,166.3 146.7,166.3 147.1,166.7 147.5,167.4 147.9,167.7 148.3,167.5 148.7,167.1 149.1,166.7 149.5,166.6 149.9,166.5 150.3,166.6 150.7,166.6 151.1,166.5 151.5,166.4 151.9,166.6 152.3,166.6 152.7,166.4 153.1,166.3 153.5,166.5 153.9,166.8 154.3,167.0 154.7,167.1 155.1,167.2 155.5,167.3 155.9,167.2 156.3,167.2 156.7,167.0 157.1,166.7 157.5,166.4 157.9,166.3 158.3,166.4 158.7,166.6 159.1,166.9 159.5,167.0 159.9,167.2 160.3,167.2 160.7,167.1 161.1,167.1 161.5,167.2 161.9,167.6 162.3,167.7 162.7,167.4 163.1,167.1 163.5,167.4 163.9,168.1 164.3,168.3 164.7,167.7 165.1,166.8 165.5,166.1 165.9,165.9 166.3,165.9 166.7,166.2 167.1,166.6 167.5,166.4 167.9,165.9 168.3,165.9 168.7,166.5 169.1,166.9 169.5,166.7 169.9,166.3 170.3,165.9 170.7,166.1 171.1,166.7 171.5,167.0 171.9,166.7 172.3,166.3 172.7,166.5 173.1,166.9 173.5,167.0 173.9,167.0 174.3,166.9 174.7,166.6 175.1,166.1 175.5,165.8 175.9,166.1 176.3,166.8 176.7,167.4 177.1,167.5 177.5,167.2 177.9,166.9 178.3,166.6 178.7,166.2 179.1,166.2 179.5,166.5 179.9,166.8 180.3,167.4 180.7,167.9 181.1,167.8 181.5,167.6 181.9,167.6 182.3,167.3 182.7,166.6 183.1,166.5 183.5,167.0 183.9,167.3 184.3,167.1 184.7,167.1 185.1,167.4 185.5,167.4 185.9,167.0 186.3,166.6 186.7,166.5 186.7,457.2 187.3,458.5 187.7,452.3 188.1,445.8 188.5,439.5 188.9,433.3 189.3,427.8 189.7,424.0 190.1,421.2 190.5,418.2 190.9,416.4 191.3,415.3 191.7,413.2 192.1,410.8 192.5,410.1 192.9,408.1 193.3,404.9 193.7,403.4 194.1,403.0 194.5,401.3 194.9,399.7 195.3,398.5 195.7,397.7 196.1,397.8 196.5,396.2 196.9,393.8 197.3,392.2 197.7,391.1 198.1,389.9 198.5,387.7 198.9,386.8 199.3,385.0 199.7,384.0 200.1,385.6 200.5,386.2 200.9,386.0 201.3,385.9 201.7,385.9 202.1,385.9 202.5,386.7 202.9,386.1 203.3,384.3 203.7,383.9 204.1,384.7 204.5,385.3 204.9,384.6 205.3,383.6 205.7,383.6 206.1,383.9 206.5,383.4 206.9,382.9 207.3,382.9 207.7,381.8 208.1,380.2 208.5,378.7 208.9,379.2 209.3,379.2 209.7,378.8 210.1,378.3 210.5,377.9 210.9,377.5 211.3,377.1 211.7,377.2 212.1,377.6 212.5,376.3 212.9,374.7 213.3,373.6 213.7,372.5 214.1,372.2 214.5,372.1 214.9,371.5 215.3,373.1 215.7,373.1 216.1,371.9 216.5,373.6 216.9,374.7 217.3,374.5 217.7,373.9 218.1,372.9 218.5,370.4 218.9,369.3 219.3,369.2 219.7,368.0 220.1,367.5 220.5,369.9 220.9,371.7 221.3,371.8 221.7,371.7 222.1,370.3 222.5,367.3 222.9,366.8 223.3,367.1 223.7,366.9 224.1,365.4 224.5,364.6 224.9,365.7 225.3,366.4 225.7,366.0 226.1,368.1 226.5,369.4 226.9,369.9 227.3,369.3 227.7,367.7 228.1,366.7 228.5,364.9 228.9,365.1 229.3,366.6 229.7,366.6 230.1,364.7 230.5,364.3 230.9,366.0 231.3,366.7 231.7,366.5 232.1,365.4 232.5,364.9 232.9,366.2 233.3,366.5 233.7,366.9 234.1,368.6 234.5,369.2 234.9,369.4 235.3,366.8 235.7,363.1 236.1,361.5 236.5,360.9 236.9,362.8 237.3,364.1 237.7,363.4 238.1,364.2 238.5,364.6 238.9,364.7 239.3,363.8 239.7,362.6 240.1,363.1 240.5,363.8 240.9,365.5 241.3,367.0 241.7,367.1 242.1,367.8 242.5,366.9 242.9,365.9 243.3,364.4 243.7,363.2 244.1,363.3 244.5,363.6 244.9,363.7 245.3,362.4 245.7,361.9 246.1,362.3 246.5,361.5 246.9,360.5 247.3,360.4 247.7,361.1 248.1,361.8 248.5,362.1 248.9,361.6 249.3,361.2 249.7,359.8 250.1,358.7 250.5,359.5 250.9,360.5 251.3,361.0 251.7,361.9 252.1,361.6 252.5,361.1 252.9,360.5 253.3,359.6 253.7,360.0 254.1,360.8 254.5,361.4 254.9,360.5 255.3,360.1 255.7,359.8 256.1,359.3 256.5,358.5 256.9,359.5 257.3,360.2 257.7,360.8 258.1,361.3 258.5,359.6 258.9,358.5 259.3,358.6 259.7,360.0 260.1,361.4 260.5,361.0 260.9,358.9 261.3,357.1 261.7,356.7 262.1,355.5 262.5,355.5 262.9,356.1 263.3,356.7 263.7,357.7 264.1,357.9 264.5,357.5 264.9,357.1 265.3,356.2 265.7,356.3 266.1,355.9 266.5,355.4 266.9,355.7 267.3,355.3 267.7,355.2 268.1,355.1 268.5,353.9 268.9,355.2 269.3,356.2 269.7,355.6 270.1,356.6 270.5,354.2 270.9,352.0 271.3,351.7 271.7,352.6 272.1,353.3 272.5,353.7 272.9,355.4 273.3,356.6 273.7,356.1 274.1,356.5 274.5,357.5 274.9,357.7 275.3,356.5 275.7,356.0 276.1,355.6 276.5,355.0 276.9,355.2 277.3,356.4 277.7,356.9 278.1,356.1 278.5,356.3 278.9,356.7 279.3,356.4 279.7,356.4 280.1,356.6 280.5,355.3 280.9,353.6 281.3,353.6 281.7,352.1 282.1,351.7 282.5,352.7 282.9,352.3 283.3,352.0 283.7,353.5 284.1,354.1 284.5,353.4 284.9,352.7 285.3,353.5 285.7,353.7 286.1,353.7 286.5,352.4 286.9,351.4 287.3,350.8 287.7,351.9 288.1,353.2 288.5,352.7 288.9,352.1 289.3,352.7 289.7,352.5 290.1,352.1 290.5,351.4 290.9,350.4 291.3,350.0 291.7,350.1 292.1,350.5 292.5,350.5 292.9,350.3 293.3,349.3 293.7,349.7 294.1,351.8 294.5,352.8 294.9,352.4 295.3,351.4 295.7,351.1 296.1,350.6 296.5,350.7 296.9,350.3 297.3,349.8 297.7,349.5 298.1,349.1 298.5,349.9 298.9,351.5 299.3,352.6 299.7,352.4 300.1,352.3 300.5,352.3 300.9,352.9 301.3,352.4 301.7,350.7 302.1,350.8 302.5,351.5 302.9,351.5 303.3,349.9 303.7,350.4 304.1,351.7 304.5,353.6 304.9,353.5 305.3,352.6 305.7,351.7 306.1,351.2 306.5,350.7 306.9,349.3 307.3,348.1 307.7,348.8 308.1,348.7 308.5,348.1 308.9,348.6 309.3,349.5 309.7,348.6 310.1,348.6 310.5,350.5 310.9,351.1 311.3,349.5 311.7,348.7 312.1,349.0 312.5,350.1 312.9,350.8 313.3,350.8 313.7,349.7 314.1,348.8 314.5,349.0 314.9,349.5 315.3,348.6 315.7,348.0 316.1,348.2 316.5,348.3 316.9,348.0 317.3,347.9 317.7,349.3 318.1,349.3 318.5,347.6 318.9,347.5 319.3,347.6 319.7,347.9 320.1,347.9 320.5,348.3 320.9,348.2 321.3,346.7 321.7,344.3 322.1,342.9 322.5,343.9 322.9,346.3 323.3,346.8 323.7,347.4 324.1,348.1 324.5,347.9 324.9,348.6 325.3,348.9 325.7,348.3 326.1,346.3 326.5,345.4 326.9,344.9 327.3,343.9 327.7,342.8 328.1,343.5 328.5,344.6 328.9,344.9 329.3,345.5 329.7,345.6 330.1,344.9 330.5,344.3 330.9,344.4 331.3,344.9 331.7,346.6 332.1,347.8 332.5,349.2 332.9,350.0 333.3,349.2 333.7,348.3 334.1,347.8 334.5,347.8 334.9,347.4 335.3,345.8 335.7,344.7 336.1,345.2 336.5,346.8 336.9,347.0 337.3,345.9 337.7,344.6 338.1,344.8 338.5,345.1 338.9,345.7 339.3,346.4 339.7,347.0 340.1,347.5 340.5,346.2 340.9,345.9 341.3,346.5 341.7,347.5 342.1,348.0 342.5,346.7 342.9,345.6 343.3,345.8 343.7,345.7 344.1,345.0 344.5,345.3 344.9,344.8 345.3,344.9 345.7,346.2 346.1,347.7 346.5,347.3 346.9,346.2 347.3,345.2 347.7,345.5 348.1,347.0 348.5,348.9 348.9,349.0 349.3,347.7 349.7,346.3 350.1,345.8 350.5,346.5 350.9,347.3 351.3,346.9 351.7,345.7 352.1,344.8 352.5,345.0 352.9,345.4 353.3,346.0 353.7,346.1 354.1,346.3 354.5,346.1 354.9,346.0 355.3,346.3 355.7,345.5 356.1,345.3 356.5,344.7 356.9,344.3 357.3,344.3 357.7,343.6 358.1,342.8 358.5,342.7 358.9,343.3 359.3,345.0 359.7,346.4 360.1,346.7 360.5,346.7 360.9,348.1 361.3,348.7 361.7,347.4 362.1,347.1 362.5,347.6 362.9,347.6 363.3,348.0 363.7,347.8 364.1,347.8 364.5,348.7 364.9,348.7 365.3,347.6 365.7,346.1 366.1,346.3 366.5,347.3 366.9,346.9 367.3,346.7 367.7,345.6 368.1,345.6 368.5,346.3 368.9,346.5 369.3,345.9 369.7,345.3 370.1,344.7 370.5,343.0 370.9,341.5 371.3,342.2 371.7,343.8 372.1,343.8 372.5,343.4 372.9,342.1 373.3,340.7 373.7,341.1 374.1,342.2 374.5,342.0 374.9,341.7 375.3,341.7 375.7,341.6 376.1,341.7 376.5,342.9 376.9,343.8 377.3,345.2 377.7,345.6 378.1,344.6 378.5,344.5 378.9,344.2 379.3,343.4 379.7,343.2 380.1,343.8 380.5,343.3 380.9,342.2 381.3,342.1 381.7,343.4 382.1,344.9 382.5,345.1 382.9,344.4 383.3,344.0 383.7,343.5 384.1,342.3 384.5,341.3 384.9,340.5 385.3,341.0 385.7,342.3 386.1,342.9 386.5,343.6 386.9,344.8 387.3,344.4 387.7,344.4 388.1,343.9 388.5,343.3 388.9,343.4 389.3,343.0 389.7,341.8 390.1,341.8 390.5,342.1 390.9,340.6 391.3,340.9 391.7,342.2 392.1,342.4 392.5,341.7 392.9,341.4 393.3,341.2 393.7,341.3 394.1,342.5 394.5,344.1 394.9,344.2 395.3,343.9 395.7,343.9 396.1,342.9 396.5,341.5 396.9,341.7 397.3,343.4 397.7,345.9 398.1,347.1 398.5,346.3 398.9,344.7 399.3,342.0 399.7,340.4 400.1,340.3 400.5,341.2 400.9,342.0 401.3,341.3 401.7,341.6 402.1,341.8 402.5,341.2 402.9,339.5 403.3,339.3 403.7,340.6 404.1,340.5 404.5,339.7 404.9,339.3 405.3,340.1 405.7,340.0 406.1,339.6 406.5,339.8 406.9,339.8 407.3,339.5 407.7,340.1 408.1,341.2 408.5,342.6 408.9,343.3 409.3,342.8 409.7,341.3 410.1,339.8 410.5,340.4 410.9,341.1 411.3,340.6 411.7,339.2 412.1,338.8 412.5,340.7 412.9,342.0 413.3,342.4 413.7,341.7 414.1,342.2 414.5,342.3 414.9,342.5 415.3,343.5 415.7,344.4 416.1,345.0 416.5,345.2 416.9,345.2 417.3,344.3 417.7,342.8 418.1,341.9 418.5,341.3 418.9,340.1 419.3,338.4 419.7,338.1 420.1,339.4 420.5,340.4 420.9,341.2 421.3,341.4 421.7,342.5 422.1,343.1 422.5,343.3 422.9,343.2 423.3,343.0 423.7,341.9 424.1,340.5 424.5,340.1 424.9,340.2 425.3,340.8 425.7,341.3 426.1,341.5 426.5,341.9 426.9,342.0 427.3,341.3 427.7,341.3 428.1,339.4 428.5,335.9 428.9,334.9 429.3,334.5 429.7,333.9 430.1,335.7 430.5,337.5 430.9,338.2 431.3,338.7 431.7,338.7 432.1,339.3 432.5,339.4 432.9,338.9 433.3,338.2 433.7,337.3 434.1,338.1 434.5,340.1 434.9,340.3 435.3,338.6 435.7,337.2 436.1,337.6 436.5,339.4 436.9,340.1 437.3,340.7 437.7,340.7 438.1,340.4 438.5,339.0 438.9,337.5 439.3,337.6 439.7,338.2 440.1,337.7 440.5,338.2 440.9,338.4 441.3,338.3 441.7,337.1 442.1,336.6 442.5,336.3 442.9,335.1 443.3,336.6 443.7,336.9 444.1,336.3 444.5,336.4 444.9,336.5 445.3,337.4 445.7,338.4 445.7,180.5 446.4,183.0 446.8,184.6 447.2,184.0 447.6,184.7 448.0,186.2 448.4,187.2 448.8,187.1 449.2,187.5 449.6,187.6 450.0,188.3 450.4,188.3 450.8,189.4 451.2,189.8 451.6,190.1 452.0,190.2 452.4,190.4 452.8,191.8 453.2,191.9 453.6,192.5 454.0,191.7 454.4,191.5 454.8,192.5 455.2,192.0 455.6,193.2 456.0,193.7 456.4,193.6 456.8,193.3 457.2,193.0 457.6,192.7 458.0,192.7 458.4,192.3 458.8,193.3 459.2,193.0 459.6,193.6 460.0,193.1 460.4,193.5 460.8,193.1 461.2,193.2 461.6,194.0 462.0,194.3 462.4,194.8 462.8,193.0 463.2,193.3 463.6,194.5 464.0,194.5 464.4,194.2 464.8,193.8 465.2,193.4 465.6,193.5 466.0,193.7 466.4,194.7 466.8,195.7 467.2,196.2 467.6,196.7 468.0,196.2 468.4,195.9 468.8,194.8 469.2,194.3 469.6,195.2 470.0,194.6 470.4,194.6 470.8,193.8 471.2,193.1 471.6,193.4 472.0,194.2 472.4,194.8 472.8,195.4 473.2,195.8 473.6,195.5 474.0,195.5 474.4,194.9 474.8,194.2 475.2,193.8 475.6,193.4 476.0,194.7 476.4,195.4 476.8,194.6 477.2,193.6 477.6,193.0 478.0,193.8 478.4,194.6 478.8,195.2 479.2,195.8 479.6,195.3 480.0,195.4 480.4,195.0 480.8,195.0 481.2,195.0 481.6,196.0 482.0,197.2 482.4,198.3 482.8,197.1 483.2,197.8 483.6,196.9 484.0,197.0 484.4,196.8 484.8,197.9 485.2,197.4 485.6,196.6 486.0,195.8 486.4,195.3 486.8,194.7 487.2,195.4 487.6,195.4 488.0,195.7 488.4,194.6 488.8,195.8 489.2,195.0 489.6,194.5 490.0,195.6 490.4,195.7 490.8,196.7 491.2,197.7 491.6,198.7 492.0,197.9 492.4,198.0 492.8,197.2 493.2,195.4 493.6,195.5 494.0,195.6 494.4,195.3 494.8,195.1 495.2,196.0 495.6,196.3 496.0,197.1 496.4,196.1 496.8,195.9 497.2,196.0 497.6,196.8 498.0,197.4 498.4,198.6 498.8,199.3 499.2,198.9 499.6,198.2 500.0,198.2 500.4,197.6 500.8,197.4 501.2,196.8 501.6,196.8 502.0,197.1 502.4,198.2 502.8,199.9 503.2,199.3 503.6,197.8 504.0,196.6 504.4,197.2 504.8,197.3 505.2,198.0 505.6,198.3 506.0,198.4 506.4,198.2 506.8,198.7 507.2,198.8 507.6,198.8 508.0,197.9 508.4,197.0 508.8,197.1 509.2,196.9 509.6,196.6 510.0,195.8 510.4,197.6 510.8,197.6 511.2,197.4 511.6,198.4 512.0,197.9 512.4,198.2 512.8,198.3 513.2,197.8 513.6,198.7 514.0,197.9 514.4,198.8 514.8,198.8 515.2,198.5 515.6,198.1 516.0,199.4 516.4,200.1 516.8,200.6 517.2,199.6 517.6,199.1 518.0,198.1 518.4,198.3 518.8,199.9 519.2,200.7 519.6,201.4 520.0,202.0 520.4,200.8 520.8,200.4 521.2,200.3 521.6,200.3 522.0,200.5 522.4,201.2 522.8,200.4 523.2,200.1 523.6,200.6 524.0,201.5 524.4,202.6 524.8,202.2 525.2,201.1 525.6,201.7 526.0,201.8 526.4,201.8 526.8,202.4 527.2,203.2 527.6,202.8 528.0,202.6 528.4,202.0 528.8,201.9 529.2,200.6 529.6,201.0 530.0,201.6 530.4,201.0 530.8,200.3 531.2,200.3 531.6,202.2 532.0,202.0 532.4,201.6 532.8,200.4 533.2,200.5 533.6,201.4 534.0,203.0 534.4,203.6 534.8,204.0 535.2,203.9 535.6,204.0 536.0,202.9 536.4,201.8 536.8,201.6 537.2,200.7 537.6,201.2 538.0,201.2 538.4,201.2 538.8,201.8 539.2,201.8 539.6,201.6 540.0,201.4 540.4,200.9 540.8,201.6 541.2,201.8 541.6,202.7 542.0,202.4 542.4,202.9 542.8,201.7 543.2,201.8 543.6,201.5 544.0,200.6 544.4,201.4 544.8,202.1 545.2,202.9 545.6,202.9 546.0,202.6 546.4,202.7 546.8,203.2 547.2,202.2 547.6,202.3 548.0,202.2 548.4,202.3 548.8,201.0 549.2,201.0 549.6,201.0 550.0,200.9 550.4,201.5 550.8,201.4 551.2,201.0 551.6,201.8 552.0,201.8 552.4,201.4 552.8,200.5 553.2,199.7 553.6,200.7 554.0,201.9 554.4,201.8 554.8,201.1 555.2,202.1 555.6,202.9 556.0,202.9 556.4,203.4 556.8,203.2 557.2,202.3 557.6,202.3 558.0,201.7 558.4,200.7 558.8,200.5 559.2,201.0 559.6,201.5 560.0,202.3 560.4,201.8 560.8,201.5 561.2,201.8 561.6,201.5 562.0,201.8 562.4,202.0 562.8,201.5 563.2,200.7 563.6,200.2 564.0,201.4 564.4,201.4 564.8,201.0 565.2,201.2 565.6,200.8 566.0,201.2 566.4,200.5 566.8,199.9 567.2,199.8 567.6,201.4 568.0,200.7 568.4,199.6 568.8,200.0 569.2,200.5 569.6,200.8 570.0,200.9 570.4,201.9 570.8,201.9 571.2,201.7 571.6,201.2 572.0,200.9 572.4,201.5 572.8,201.7 573.2,201.7 573.6,202.7 574.0,203.3 574.4,202.9 574.8,202.1 575.2,201.4 575.6,201.8 576.0,202.1 576.4,201.2 576.8,201.4 577.2,202.4 577.6,201.7 578.0,202.4 578.4,201.9 578.8,201.8 579.2,201.1 579.6,201.1 580.0,201.2 580.4,201.0 580.8,201.2 581.2,201.8 581.6,201.3 582.0,201.9 582.4,201.4 582.8,201.3 583.2,201.4 583.6,201.3 584.0,201.7 584.4,202.1 584.8,202.8 585.2,202.9 585.6,202.3 586.0,202.1 586.4,202.1 586.8,201.3 587.2,201.2 587.6,201.5 588.0,200.9 588.4,200.9 588.8,200.3 589.2,200.8 589.6,200.4 590.0,201.0 590.4,200.9 590.8,201.1 591.2,201.3 591.6,202.0 592.0,201.1 592.4,200.8 592.8,200.2 593.2,200.4 593.6,200.7 594.0,200.1 594.4,199.8 594.8,199.1 595.2,199.4 595.6,200.3 596.0,200.8 596.4,201.2 596.8,201.8 597.2,202.0 597.6,201.4 598.0,200.8 598.4,201.6 598.8,201.6 599.2,202.0 599.6,202.4 600.0,201.7 600.4,202.3 600.8,201.8 601.2,201.2 601.6,200.5 602.0,200.8 602.4,201.2 602.8,201.4 603.2,202.2 603.6,201.8 604.0,201.7 604.4,201.2 604.8,200.6 605.2,200.9 605.6,201.3 606.0,201.8 606.4,201.4 606.8,200.6 607.2,200.0 607.6,200.2 608.0,200.5 608.4,202.1 608.8,201.7 609.2,200.9 609.6,200.0 610.0,199.5 610.4,200.0 610.8,199.7 611.2,200.1 611.6,199.3 612.0,199.2 612.4,198.5 612.8,200.4 613.2,201.2 613.6,201.6 614.0,200.7 614.4,200.9 614.8,201.7 615.2,203.0 615.6,202.3 616.0,202.5 616.4,202.3 616.8,201.8 617.2,201.6 617.6,201.3 618.0,200.7 618.4,199.5 618.4,159.5 619.1,160.2 619.5,160.6 619.9,160.6 620.3,160.0 620.7,159.1 621.1,158.4 621.5,158.7 621.9,158.8 622.3,158.1 622.7,158.5 623.1,159.7 623.5,160.3 623.9,160.5 624.3,161.0 624.7,160.8 625.1,161.2 625.5,161.4 625.9,160.8 626.3,161.0 626.7,160.5 627.1,160.6 627.5,162.1 627.9,162.5 628.3,161.7 628.7,161.9 629.1,162.0 629.5,162.1 629.9,162.5 630.3,161.3 630.7,160.3 631.1,160.4 631.5,160.4 631.9,160.2 632.3,159.8 632.7,159.8 633.1,160.2 633.5,160.5 633.9,161.6 634.3,161.7 634.7,160.8 635.1,160.3 635.5,160.4 635.9,161.5 636.3,162.6 636.7,162.1 637.1,161.8 637.5,162.2 637.9,161.5 638.3,161.8 638.7,163.1 639.1,163.2 639.5,163.0 639.9,162.6 640.3,162.4 640.7,162.6 641.1,163.1 641.5,162.8 641.9,160.3 642.3,158.7 642.7,159.3 643.1,159.8 643.5,160.2 643.9,160.4 644.3,161.3 644.7,161.9 645.1,161.1 645.5,160.9 645.9,161.3 646.3,161.0 646.7,160.9 647.1,160.7 647.5,160.6 647.9,161.2 648.3,161.3 648.7,161.8 649.1,161.6 649.5,160.7 649.9,161.1 650.3,162.0 650.7,162.5 651.1,162.9 651.5,162.0 651.9,161.4 652.3,160.5 652.7,160.9 653.1,161.3 653.5,160.4 653.9,160.3 654.3,159.9 654.7,159.5 655.1,159.9 655.5,160.4 655.9,160.5 656.3,160.2 656.7,159.4 657.1,159.7 657.5,162.4 657.9,163.9 658.3,162.8 658.7,161.2 659.1,160.8 659.5,161.4 659.9,161.4 660.3,160.9 660.7,161.4 661.1,162.2 661.5,162.1 661.9,161.7 662.3,161.3 662.7,161.0 663.1,161.2 663.5,161.2 663.9,161.0 664.3,161.6 664.7,162.5 665.1,161.8 665.5,159.7 665.9,160.0 666.3,161.8 666.7,162.4 667.1,161.6 667.5,160.7 667.9,161.3 668.3,162.2 668.7,161.9 669.1,161.0 669.5,161.0 669.9,161.7 670.3,162.3 670.7,161.7 671.1,160.1 671.5,160.7 671.9,161.7 672.3,161.3 672.7,161.9 673.1,162.4 673.5,161.7 673.9,162.3 674.3,162.6 674.7,160.6 675.1,160.0 675.5,161.3 675.9,161.5 676.3,161.5 676.7,162.2 677.1,162.6 677.5,162.5 677.9,162.8 678.3,162.8 678.7,162.5 679.1,162.7 679.5,162.5 679.9,163.0 680.3,163.2 680.7,160.7 681.1,159.5 681.5,159.9 681.9,160.8 682.3,161.6 682.7,162.5 683.1,163.1 683.5,161.7 683.9,160.6 684.3,160.9 684.7,161.0 685.1,161.5 685.5,162.4 685.9,162.7 686.3,162.3 686.7,161.5 687.1,161.7 687.5,161.5 687.9,160.4 688.3,159.9 688.7,160.3 689.1,160.9 689.5,161.9 689.9,162.7 690.3,163.6 690.7,164.7 691.1,163.1 691.5,161.0 691.9,161.4 692.3,162.0 692.7,161.8 693.1,161.5 693.5,160.8 693.9,159.1 694.3,159.6 694.7,161.5 695.1,162.3 695.5,162.3 695.9,161.5 696.3,161.4 696.7,162.0 697.1,161.4 697.5,160.6 697.9,161.2 698.3,161.4 698.7,162.1 699.1,162.4 699.5,162.7 699.9,162.4 700.3,161.6 700.7,161.7 701.1,161.7 701.5,161.4 701.9,161.3 702.3,161.2 702.7,161.5 703.1,161.6 703.5,161.7 703.9,162.2 704.3,161.7 704.7,161.0"/>
<path d="M101.5,166.3 101.9,166.4 102.3,166.6 102.7,166.5 103.1,166.3 103.5,166.3 103.9,166.2 104.3,166.2 104.7,166.3 105.1,166.4 105.5,166.5 105.9,166.5 106.3,166.4 106.7,166.5 107.1,166.8 107.5,167.5 107.9,168.1 108.3,167.8 108.7,167.1 109.1,166.9 109.5,167.3 109.9,167.6 110.3,167.6 110.7,167.2 111.1,166.6 111.5,166.7 111.9,167.4 112.3,167.8 112.7,167.6 113.1,167.4 113.5,167.2 113.9,167.2 114.3,167.0 114.7,166.8 115.1,166.7 115.5,167.1 115.9,167.7 116.3,167.9 116.7,167.8 117.1,167.7 117.5,168.0 117.9,168.0 118.3,167.8 118.7,167.4 119.1,167.2 119.5,167.4 119.9,167.5 120.3,167.5 120.7,167.3 121.1,167.1 121.5,166.9 121.9,166.6 122.3,166.4 122.7,166.5 123.1,166.9 123.5,167.6 123.9,168.0 124.3,167.7 124.7,167.4 125.1,167.2 125.5,167.1 125.9,167.1 126.3,167.3 126.7,167.7 127.1,167.5 127.5,166.8 127.9,166.5 128.3,166.4 128.7,166.5 129.1,166.9 129.5,167.4 129.9,167.7 130.3,168.0 130.7,168.2 131.1,168.2 131.5,168.2 131.9,167.7 132.3,166.8 132.7,166.9 133.1,167.5 133.5,167.7 133.9,167.7 134.3,167.8 134.7,167.6 135.1,167.2 135.1,148.9 135.9,149.0 136.3,148.8 136.7,148.7 137.1,148.8 137.5,148.8 137.9,148.7 138.3,149.2 138.7,149.7 139.1,149.6 139.5,149.1 139.9,148.8 140.3,148.8 140.7,149.0 141.1,149.4 141.5,149.8 141.9,149.4 142.3,149.0 142.7,149.1 143.1,149.5 143.5,149.6 143.9,149.4 143.9,167.5 144.7,167.4 145.1,167.2 145.5,167.1 145.9,167.4 146.3,167.5 146.7,167.2 147.1,167.1 147.5,167.6 147.9,167.7 148.3,167.2 148.7,166.7 149.1,166.9 149.5,167.0 149.9,166.8 150.3,166.7 150.7,166.7 151.1,166.2 151.5,165.7 151.9,166.2 152.3,166.7 152.7,166.4 153.1,166.4 153.5,167.3 153.9,168.3 154.3,168.8 154.7,168.7 155.1,168.1 155.5,167.4 155.9,167.2 156.3,167.1 156.7,166.8 157.1,166.6 157.5,166.8 157.9,167.0 158.3,166.8 158.7,166.5 159.1,166.8 159.5,167.5 159.9,167.6 160.3,167.4 160.7,167.2 161.1,167.2 161.5,167.4 161.9,167.8 162.3,168.0 162.7,167.9 163.1,167.7 163.5,167.5 163.9,167.4 164.3,167.5 164.7,167.4 165.1,167.5 165.5,167.7 165.9,167.9 166.3,167.9 166.7,167.7 167.1,167.2 167.5,167.2 167.9,167.3 168.3,167.2 168.7,167.0 169.1,166.9 169.5,167.0 169.9,167.2 170.3,167.5 170.7,168.0 171.1,168.4 171.5,168.5 171.9,168.5 172.3,168.5 172.7,168.4 173.1,168.2 173.5,168.2 173.9,168.2 174.3,167.9 174.7,167.4 175.1,167.1 175.5,167.1 175.9,167.4 176.3,167.7 176.7,167.8 177.1,168.0 177.5,168.0 177.9,167.5 178.3,166.6 178.7,165.9 179.1,165.7 179.5,165.9 179.9,166.2 180.3,166.5 180.7,166.5 181.1,166.3 181.5,166.4 181.9,167.2 182.3,167.6 182.7,167.4 183.1,167.2 183.5,167.6 183.9,167.9 184.3,167.9 184.7,167.8 185.1,167.8 185.5,168.0 185.9,168.0 186.3,167.5 186.7,166.3 186.7,455.1 187.3,457.7 187.7,452.3 188.1,446.3 188.5,441.0 188.9,434.3 189.3,428.2 189.7,424.4 190.1,421.6 190.5,418.0 190.9,416.2 191.3,416.0 191.7,415.0 192.1,413.6 192.5,411.5 192.9,409.0 193.3,407.2 193.7,406.5 194.1,405.5 194.5,404.1 194.9,402.5 195.3,401.5 195.7,399.4 196.1,396.8 196.5,393.4 196.9,391.5 197.3,391.4 197.7,389.8 198.1,388.6 198.5,389.1 198.9,389.3 199.3,388.0 199.7,387.5 200.1,388.2 200.5,388.3 200.9,387.0 201.3,385.7 201.7,386.3 202.1,386.8 202.5,387.7 202.9,386.3 203.3,385.5 203.7,385.1 204.1,385.8 204.5,386.5 204.9,384.8 205.3,383.7 205.7,382.4 206.1,382.0 206.5,383.0 206.9,383.3 207.3,382.4 207.7,381.2 208.1,381.8 208.5,382.0 208.9,378.9 209.3,377.3 209.7,378.2 210.1,380.4 210.5,378.7 210.9,377.6 211.3,377.6 211.7,378.7 212.1,378.3 212.5,377.2 212.9,376.5 213.3,377.1 213.7,376.7 214.1,374.2 214.5,370.7 214.9,370.9 215.3,372.6 215.7,372.6 216.1,371.5 216.5,373.8 216.9,374.6 217.3,373.9 217.7,371.4 218.1,369.9 218.5,369.2 218.9,368.4 219.3,366.9 219.7,366.1 220.1,367.8 220.5,368.0 220.9,366.9 221.3,367.1 221.7,368.6 222.1,367.3 222.5,366.9 222.9,367.4 223.3,368.4 223.7,369.9 224.1,370.3 224.5,368.9 224.9,367.7 225.3,368.8 225.7,369.4 226.1,369.9 226.5,370.6 226.9,369.2 227.3,369.3 227.7,370.3 228.1,371.6 228.5,372.6 228.9,371.8 229.3,370.6 229.7,370.0 230.1,368.3 230.5,366.6 230.9,365.6 231.3,365.2 231.7,365.4 232.1,365.0 232.5,364.6 232.9,364.2 233.3,363.5 233.7,363.9 234.1,365.6 234.5,365.7 234.9,366.8 235.3,367.1 235.7,366.6 236.1,365.9 236.5,366.4 236.9,367.2 237.3,366.4 237.7,366.0 238.1,364.4 238.5,363.6 238.9,364.6 239.3,365.7 239.7,366.6 240.1,365.1 240.5,364.9 240.9,364.4 241.3,362.7 241.7,360.4 242.1,359.2 242.5,360.6 242.9,361.6 243.3,361.6 243.7,361.7 244.1,362.1 244.5,361.6 244.9,360.6 245.3,360.1 245.7,361.1 246.1,361.3 246.5,361.8 246.9,361.6 247.3,362.5 247.7,363.6 248.1,364.0 248.5,364.3 248.9,363.9 249.3,363.8 249.7,363.0 250.1,363.1 250.5,361.6 250.9,360.0 251.3,359.5 251.7,361.2 252.1,362.6 252.5,360.4 252.9,359.0 253.3,360.2 253.7,360.7 254.1,359.4 254.5,358.6 254.9,359.1 255.3,359.9 255.7,361.2 256.1,361.2 256.5,359.3 256.9,357.7 257.3,356.9 257.7,356.8 258.1,357.2 258.5,357.3 258.9,358.5 259.3,358.7 259.7,358.7 260.1,358.8 260.5,357.0 260.9,357.0 261.3,356.8 261.7,356.4 262.1,356.0 262.5,355.8 262.9,357.3 263.3,357.5 263.7,356.1 264.1,356.9 264.5,357.7 264.9,357.9 265.3,358.1 265.7,357.5 266.1,357.4 266.5,357.6 266.9,356.1 267.3,355.3 267.7,355.0 268.1,354.9 268.5,356.1 268.9,357.4 269.3,357.5 269.7,357.6 270.1,354.4 270.5,351.9 270.9,351.9 271.3,352.3 271.7,353.6 272.1,353.4 272.5,352.5 272.9,353.3 273.3,355.3 273.7,357.7 274.1,357.7 274.5,357.8 274.9,358.4 275.3,358.3 275.7,357.3 276.1,355.9 276.5,355.2 276.9,354.1 277.3,352.9 277.7,353.1 278.1,352.6 278.5,352.4 278.9,353.4 279.3,354.0 279.7,353.4 280.1,351.3 280.5,349.8 280.9,350.1 281.3,351.5 281.7,353.0 282.1,354.3 282.5,354.9 282.9,355.1 283.3,354.1 283.7,353.9 284.1,353.5 284.5,352.5 284.9,351.0 285.3,349.5 285.7,349.7 286.1,349.6 286.5,350.0 286.9,351.0 287.3,352.7 287.7,353.5 288.1,354.5 288.5,355.4 288.9,354.7 289.3,354.2 289.7,353.6 290.1,353.1 290.5,352.4 290.9,351.9 291.3,352.9 291.7,354.2 292.1,355.4 292.5,355.2 292.9,353.8 293.3,351.7 293.7,349.0 294.1,348.6 294.5,348.8 294.9,349.5 295.3,349.8 295.7,350.0 296.1,350.4 296.5,350.4 296.9,350.0 297.3,349.9 297.7,350.5 298.1,350.7 298.5,350.8 298.9,350.1 299.3,349.8 299.7,350.2 300.1,350.7 300.5,349.4 300.9,348.1 301.3,348.9 301.7,350.0 302.1,350.5 302.5,350.7 302.9,350.8 303.3,349.9 303.7,349.3 304.1,349.0 304.5,348.5 304.9,347.9 305.3,347.9 305.7,349.2 306.1,350.5 306.5,351.2 306.9,350.9 307.3,350.7 307.7,350.3 308.1,351.1 308.5,352.0 308.9,352.1 309.3,351.6 309.7,351.1 310.1,348.9 310.5,347.6 310.9,346.4 311.3,346.4 311.7,346.6 312.1,347.6 312.5,349.0 312.9,351.6 313.3,353.5 313.7,353.5 314.1,353.2 314.5,352.2 314.9,350.7 315.3,349.2 315.7,347.8 316.1,347.7 316.5,348.2 316.9,347.7 317.3,347.5 317.7,347.9 318.1,349.8 318.5,349.8 318.9,349.2 319.3,349.8 319.7,349.4 320.1,348.6 320.5,347.6 320.9,348.1 321.3,350.1 321.7,351.1 322.1,351.3 322.5,350.8 322.9,349.4 323.3,348.3 323.7,347.4 324.1,346.0 324.5,346.4 324.9,346.7 325.3,346.4 325.7,347.0 326.1,346.3 326.5,346.5 326.9,347.9 327.3,348.5 327.7,348.5 328.1,348.2 328.5,348.7 328.9,348.9 329.3,348.9 329.7,348.4 330.1,346.8 330.5,346.4 330.9,347.0 331.3,347.1 331.7,346.4 332.1,345.7 332.5,346.7 332.9,347.4 333.3,347.5 333.7,346.9 334.1,347.2 334.5,348.8 334.9,348.2 335.3,346.0 335.7,345.5 336.1,345.7 336.5,345.9 336.9,346.6 337.3,346.2 337.7,345.5 338.1,345.8 338.5,345.8 338.9,345.1 339.3,345.7 339.7,346.0 340.1,345.8 340.5,345.6 340.9,345.5 341.3,345.6 341.7,344.7 342.1,344.2 342.5,346.6 342.9,349.6 343.3,350.1 343.7,348.8 344.1,348.1 344.5,347.2 344.9,346.3 345.3,346.9 345.7,347.7 346.1,347.4 346.5,346.2 346.9,345.6 347.3,346.7 347.7,345.7 348.1,345.7 348.5,346.5 348.9,346.5 349.3,345.9 349.7,344.3 350.1,344.2 350.5,344.3 350.9,343.6 351.3,344.0 351.7,345.4 352.1,346.0 352.5,347.7 352.9,348.4 353.3,347.3 353.7,346.1 354.1,345.8 354.5,345.5 354.9,345.2 355.3,345.3 355.7,345.6 356.1,345.5 356.5,345.1 356.9,345.1 357.3,345.7 357.7,345.5 358.1,344.0 358.5,343.3 358.9,344.0 359.3,345.4 359.7,346.3 360.1,346.6 360.5,347.1 360.9,348.1 361.3,348.5 361.7,348.0 362.1,347.5 362.5,346.2 362.9,346.1 363.3,345.8 363.7,343.9 364.1,343.3 364.5,343.6 364.9,343.1 365.3,344.8 365.7,347.0 366.1,347.3 366.5,347.7 366.9,347.2 367.3,345.8 367.7,346.0 368.1,347.3 368.5,348.2 368.9,347.9 369.3,346.3 369.7,344.5 370.1,343.7 370.5,344.9 370.9,346.1 371.3,347.9 371.7,348.1 372.1,346.6 372.5,346.3 372.9,344.9 373.3,344.4 373.7,344.8 374.1,345.5 374.5,345.7 374.9,345.9 375.3,345.2 375.7,344.3 376.1,344.8 376.5,345.8 376.9,345.4 377.3,343.5 377.7,341.4 378.1,340.9 378.5,342.9 378.9,344.9 379.3,343.6 379.7,342.9 380.1,343.8 380.5,344.4 380.9,343.9 381.3,343.3 381.7,344.5 382.1,345.7 382.5,346.1 382.9,344.6 383.3,342.9 383.7,341.4 384.1,341.8 384.5,343.4 384.9,343.0 385.3,341.8 385.7,340.6 386.1,340.8 386.5,342.4 386.9,342.9 387.3,343.1 387.7,343.1 388.1,342.5 388.5,342.3 388.9,345.1 389.3,346.8 389.7,345.8 390.1,344.7 390.5,344.1 390.9,343.0 391.3,342.2 391.7,343.5 392.1,345.4 392.5,346.3 392.9,345.5 393.3,345.2 393.7,345.5 394.1,346.0 394.5,346.1 394.9,344.7 395.3,342.9 395.7,341.8 396.1,342.2 396.5,341.9 396.9,343.2 397.3,343.5 397.7,342.7 398.1,342.5 398.5,343.8 398.9,344.9 399.3,345.2 399.7,344.0 400.1,344.5 400.5,344.6 400.9,345.9 401.3,346.3 401.7,345.4 402.1,343.0 402.5,341.3 402.9,340.9 403.3,342.4 403.7,343.7 404.1,343.5 404.5,342.8 404.9,342.9 405.3,343.2 405.7,342.5 406.1,341.3 406.5,341.6 406.9,341.5 407.3,341.3 407.7,343.0 408.1,343.1 408.5,342.2 408.9,342.4 409.3,342.7 409.7,343.0 410.1,344.0 410.5,344.2 410.9,344.1 411.3,344.0 411.7,343.3 412.1,344.5 412.5,344.2 412.9,343.5 413.3,343.1 413.7,342.0 414.1,342.0 414.5,342.8 414.9,341.9 415.3,340.8 415.7,340.7 416.1,341.3 416.5,341.0 416.9,340.5 417.3,340.9 417.7,341.0 418.1,341.7 418.5,342.5 418.9,342.0 419.3,341.5 419.7,342.4 420.1,342.8 420.5,342.0 420.9,341.7 421.3,341.0 421.7,339.6 422.1,339.5 422.5,340.5 422.9,341.7 423.3,342.2 423.7,342.1 424.1,342.0 424.5,341.0 424.9,339.6 425.3,338.6 425.7,338.7 426.1,339.2 426.5,338.7 426.9,338.1 427.3,338.0 427.7,337.9 428.1,338.7 428.5,339.9 428.9,339.9 429.3,340.1 429.7,340.3 430.1,339.2 430.5,338.8 430.9,339.4 431.3,338.5 431.7,337.2 432.1,337.6 432.5,338.1 432.9,338.7 433.3,338.8 433.7,338.1 434.1,338.9 434.5,340.1 434.9,339.3 435.3,339.0 435.7,339.4 436.1,338.7 436.5,339.5 436.9,340.7 437.3,340.3 437.7,339.6 438.1,338.6 438.5,338.0 438.9,337.6 439.3,337.1 439.7,337.4 440.1,337.4 440.5,337.1 440.9,338.9 441.3,340.0 441.7,339.2 442.1,338.1 442.5,337.7 442.9,338.8 443.3,340.6 443.7,340.7 444.1,340.3 444.5,340.9 444.9,340.0 445.3,339.3 445.7,339.4 445.7,195.0 446.4,197.6 446.8,197.8 447.2,199.6 447.6,200.2 448.0,200.7 448.4,200.8 448.8,201.3 449.2,201.4 449.6,201.2 450.0,201.4 450.4,202.9 450.8,204.0 451.2,203.8 451.6,202.8 452.0,201.7 452.4,201.8 452.8,202.0 453.2,202.7 453.6,202.8 454.0,203.0 454.4,203.6 454.8,204.3 455.2,205.7 455.6,205.7 456.0,206.2 456.4,205.6 456.8,204.6 457.2,203.3 457.6,203.0 458.0,203.3 458.4,203.7 458.8,204.9 459.2,204.3 459.6,203.1 460.0,202.5 460.4,202.7 460.8,203.1 461.2,203.0 461.6,203.9 462.0,204.4 462.4,204.4 462.8,205.2 463.2,206.3 463.6,205.9 464.0,205.8 464.4,206.0 464.8,205.7 465.2,205.1 465.6,204.4 466.0,205.2 466.4,204.0 466.8,204.3 467.2,205.0 467.6,205.1 468.0,204.9 468.4,204.7 468.8,205.5 469.2,205.9 469.6,205.4 470.0,205.2 470.4,205.1 470.8,204.7 471.2,203.8 471.6,204.3 472.0,204.2 472.4,205.1 472.8,205.8 473.2,206.3 473.6,205.9 474.0,205.5 474.4,204.6 474.8,205.9 475.2,205.5 475.6,206.3 476.0,205.1 476.4,204.3 476.8,205.0 477.2,204.9 477.6,205.6 478.0,205.0 478.4,205.2 478.8,204.9 479.2,205.6 479.6,206.5 480.0,206.3 480.4,205.4 480.8,205.7 481.2,206.3 481.6,205.9 482.0,205.6 482.4,205.0 482.8,204.5 483.2,204.0 483.6,204.7 484.0,205.5 484.4,205.2 484.8,204.9 485.2,204.8 485.6,205.6 486.0,205.8 486.4,206.5 486.8,206.6 487.2,206.7 487.6,205.9 488.0,204.9 488.4,205.2 488.8,204.4 489.2,204.0 489.6,204.0 490.0,204.9 490.4,205.9 490.8,207.2 491.2,207.1 491.6,205.5 492.0,205.0 492.4,204.8 492.8,204.5 493.2,204.9 493.6,205.0 494.0,204.9 494.4,205.0 494.8,204.1 495.2,205.5 495.6,206.0 496.0,206.4 496.4,205.6 496.8,205.5 497.2,205.4 497.6,205.6 498.0,204.6 498.4,204.5 498.8,205.0 499.2,205.7 499.6,205.6 500.0,206.4 500.4,205.3 500.8,205.3 501.2,204.3 501.6,204.2 502.0,203.9 502.4,203.9 502.8,203.7 503.2,204.1 503.6,204.4 504.0,205.9 504.4,205.8 504.8,206.2 505.2,205.8 505.6,207.2 506.0,207.0 506.4,205.6 506.8,205.2 507.2,205.0 507.6,205.0 508.0,203.9 508.4,204.8 508.8,205.8 509.2,206.7 509.6,206.1 510.0,204.7 510.4,205.1 510.8,205.2 511.2,205.3 511.6,206.1 512.0,206.7 512.4,206.7 512.8,206.3 513.2,206.5 513.6,206.2 514.0,206.4 514.4,206.9 514.8,206.1 515.2,205.9 515.6,205.9 516.0,206.3 516.4,206.3 516.8,207.5 517.2,208.2 517.6,208.6 518.0,207.5 518.4,206.7 518.8,205.9 519.2,205.8 519.6,205.4 520.0,205.3 520.4,205.3 520.8,205.9 521.2,206.9 521.6,206.4 522.0,205.6 522.4,206.0 522.8,206.7 523.2,206.7 523.6,206.7 524.0,207.4 524.4,207.5 524.8,208.2 525.2,206.6 525.6,206.1 526.0,206.7 526.4,206.6 526.8,206.3 527.2,206.3 527.6,205.8 528.0,205.4 528.4,206.8 528.8,206.9 529.2,206.5 529.6,205.4 530.0,205.6 530.4,206.1 530.8,207.2 531.2,208.1 531.6,208.0 532.0,207.5 532.4,207.7 532.8,208.4 533.2,207.6 533.6,207.9 534.0,208.0 534.4,208.1 534.8,206.9 535.2,206.8 535.6,207.0 536.0,207.3 536.4,207.2 536.8,206.5 537.2,206.1 537.6,205.5 538.0,206.0 538.4,205.6 538.8,205.9 539.2,206.1 539.6,205.4 540.0,205.0 540.4,205.1 540.8,206.5 541.2,206.3 541.6,207.0 542.0,207.1 542.4,208.3 542.8,206.9 543.2,205.8 543.6,206.3 544.0,207.0 544.4,207.2 544.8,206.4 545.2,206.6 545.6,206.6 546.0,206.8 546.4,207.0 546.8,207.3 547.2,207.1 547.6,206.1 548.0,205.5 548.4,207.0 548.8,207.4 549.2,207.6 549.6,206.4 550.0,206.7 550.4,206.2 550.8,207.3 551.2,207.1 551.6,207.1 552.0,207.1 552.4,206.9 552.8,206.5 553.2,206.7 553.6,208.4 554.0,207.8 554.4,207.6 554.8,207.5 555.2,209.0 555.6,209.0 556.0,209.7 556.4,208.5 556.8,206.4 557.2,206.7 557.6,207.6 558.0,208.0 558.4,208.3 558.8,207.7 559.2,207.0 559.6,206.2 560.0,206.6 560.4,206.4 560.8,206.5 561.2,206.4 561.6,206.8 562.0,207.3 562.4,208.1 562.8,208.2 563.2,207.6 563.6,207.2 564.0,208.4 564.4,208.7 564.8,208.9 565.2,209.8 565.6,209.2 566.0,208.5 566.4,208.0 566.8,208.4 567.2,208.6 567.6,208.1 568.0,208.5 568.4,209.4 568.8,209.4 569.2,209.0 569.6,208.0 570.0,208.5 570.4,208.8 570.8,208.9 571.2,209.0 571.6,208.5 572.0,208.3 572.4,207.8 572.8,207.5 573.2,208.2 573.6,208.2 574.0,209.1 574.4,209.9 574.8,209.6 575.2,209.5 575.6,209.1 576.0,209.4 576.4,208.9 576.8,209.0 577.2,208.5 577.6,208.8 578.0,209.9 578.4,209.3 578.8,208.8 579.2,209.0 579.6,208.4 580.0,208.1 580.4,209.1 580.8,209.4 581.2,209.0 581.6,208.9 582.0,208.8 582.4,209.6 582.8,209.7 583.2,209.8 583.6,209.2 584.0,210.4 584.4,211.2 584.8,210.1 585.2,210.2 585.6,210.4 586.0,210.1 586.4,210.8 586.8,211.0 587.2,210.6 587.6,209.9 588.0,210.1 588.4,210.4 588.8,210.6 589.2,210.4 589.6,211.0 590.0,210.8 590.4,210.2 590.8,210.5 591.2,211.3 591.6,210.9 592.0,210.4 592.4,210.9 592.8,210.4 593.2,209.9 593.6,209.2 594.0,208.8 594.4,208.2 594.8,209.7 595.2,210.2 595.6,209.5 596.0,209.2 596.4,209.9 596.8,209.5 597.2,209.4 597.6,209.5 598.0,208.7 598.4,209.6 598.8,208.3 599.2,208.5 599.6,209.1 600.0,209.8 600.4,209.8 600.8,210.0 601.2,209.8 601.6,209.3 602.0,210.4 602.4,210.4 602.8,209.9 603.2,209.3 603.6,209.4 604.0,209.5 604.4,210.4 604.8,208.7 605.2,208.0 605.6,209.3 606.0,209.5 606.4,210.4 606.8,210.1 607.2,210.1 607.6,210.7 608.0,211.1 608.4,210.5 608.8,210.8 609.2,210.1 609.6,209.4 610.0,209.8 610.4,210.0 610.8,210.5 611.2,210.7 611.6,211.1 612.0,210.5 612.4,209.8 612.8,209.9 613.2,210.0 613.6,209.8 614.0,210.5 614.4,209.4 614.8,209.5 615.2,210.3 615.6,211.1 616.0,212.0 616.4,211.9 616.8,210.9 617.2,211.8 617.6,210.7 618.0,210.6 618.4,210.5 618.4,157.1 619.1,158.4 619.5,158.9 619.9,158.4 620.3,158.0 620.7,158.3 621.1,158.6 621.5,159.0 621.9,159.6 622.3,159.4 622.7,159.8 623.1,160.5 623.5,159.7 623.9,157.9 624.3,156.9 624.7,157.4 625.1,158.9 625.5,159.1 625.9,158.6 626.3,158.5 626.7,158.5 627.1,159.0 627.5,159.2 627.9,159.9 628.3,160.0 628.7,159.8 629.1,159.9 629.5,159.7 629.9,160.1 630.3,161.3 630.7,161.8 631.1,161.4 631.5,160.5 631.9,159.3 632.3,159.3 632.7,159.6 633.1,159.9 633.5,161.0 633.9,161.9 634.3,161.8 634.7,161.9 635.1,162.2 635.5,161.8 635.9,160.6 636.3,160.3 636.7,161.1 637.1,161.2 637.5,160.9 637.9,160.9 638.3,159.8 638.7,159.0 639.1,159.1 639.5,159.1 639.9,159.6 640.3,159.9 640.7,159.8 641.1,159.5 641.5,158.5 641.9,158.6 642.3,160.5 642.7,161.7 643.1,161.4 643.5,160.8 643.9,160.7 644.3,160.8 644.7,160.9 645.1,160.2 645.5,160.2 645.9,160.6 646.3,160.9 646.7,160.2 647.1,159.1 647.5,159.3 647.9,159.9 648.3,160.8 648.7,161.0 649.1,160.2 649.5,160.1 649.9,159.8 650.3,160.1 650.7,161.1 651.1,161.9 651.5,161.8 651.9,161.3 652.3,160.7 652.7,160.8 653.1,161.2 653.5,161.2 653.9,161.3 654.3,162.0 654.7,162.9 655.1,163.2 655.5,162.7 655.9,161.4 656.3,160.0 656.7,159.6 657.1,159.9 657.5,159.3 657.9,159.0 658.3,160.7 658.7,162.3 659.1,161.8 659.5,161.1 659.9,160.9 660.3,160.5 660.7,160.1 661.1,160.9 661.5,161.7 661.9,161.6 662.3,161.4 662.7,161.3 663.1,160.9 663.5,159.5 663.9,158.8 664.3,159.7 664.7,160.8 665.1,161.1 665.5,160.7 665.9,160.9 666.3,161.2 666.7,161.4 667.1,161.2 667.5,161.6 667.9,161.7 668.3,161.0 668.7,160.6 669.1,160.2 669.5,159.9 669.9,159.8 670.3,160.2 670.7,161.2 671.1,161.5 671.5,161.2 671.9,161.2 672.3,161.7 672.7,162.5 673.1,162.2 673.5,161.4 673.9,160.7 674.3,159.8 674.7,159.7 675.1,160.2 675.5,160.6 675.9,160.3 676.3,159.8 676.7,159.4 677.1,158.9 677.5,159.0 677.9,159.8 678.3,160.9 678.7,161.7 679.1,162.4 679.5,162.9 679.9,161.6 680.3,159.9 680.7,160.5 681.1,161.9 681.5,161.9 681.9,161.4 682.3,160.8 682.7,160.2 683.1,160.6 683.5,160.6 683.9,160.5 684.3,161.6 684.7,162.2 685.1,161.0 685.5,159.9 685.9,159.8 686.3,159.2 686.7,158.6 687.1,159.7 687.5,160.5 687.9,160.3 688.3,160.5 688.7,160.6 689.1,160.4 689.5,160.3 689.9,160.4 690.3,160.6 690.7,160.9 691.1,161.0 691.5,160.5 691.9,160.3 692.3,160.8 692.7,161.5 693.1,162.4 693.5,162.4 693.9,162.6 694.3,162.2 694.7,161.8 695.1,162.0 695.5,161.6 695.9,160.9 696.3,160.3 696.7,159.8 697.1,160.1 697.5,160.3 697.9,160.2 698.3,161.7 698.7,162.2 699.1,162.1 699.5,163.1 699.9,163.4 700.3,161.6 700.7,158.9 701.1,158.7 701.5,160.0 701.9,160.3 702.3,160.7 702.7,160.9 703.1,161.0 703.5,160.7 703.9,160.1 704.3,159.6 704.7,159.9"/>
<path d="M101.5,166.7 101.9,166.7 102.3,166.8 102.7,166.8 103.1,166.5 103.5,166.3 103.9,166.3 104.3,166.7 104.7,166.7 105.1,166.5 105.5,166.0 105.9,165.6 106.3,165.8 106.7,166.4 107.1,167.0 107.5,167.1 107.9,167.0 108.3,166.9 108.7,166.8 109.1,166.9 109.5,167.2 109.9,167.3 110.3,167.1 110.7,166.8 111.1,166.5 111.5,166.6 111.9,167.3 112.3,167.8 112.7,168.1 113.1,168.2 113.5,168.0 113.9,167.5 114.3,167.5 114.7,167.5 115.1,167.4 115.5,167.3 115.9,167.4 116.3,167.9 116.7,168.5 117.1,168.6 117.5,168.1 117.9,167.4 118.3,167.3 118.7,167.7 119.1,168.0 119.5,167.5 119.9,166.6 120.3,166.1 120.7,166.3 121.1,166.7 121.5,166.9 121.9,166.9 122.3,166.8 122.7,166.7 123.1,166.7 123.5,166.7 123.9,166.7 124.3,166.5 124.7,166.5 125.1,167.0 125.5,167.4 125.9,167.4 126.3,167.0 126.7,166.4 127.1,166.3 127.5,167.0 127.9,167.7 128.3,167.6 128.7,167.2 129.1,167.3 129.5,167.5 129.9,167.1 130.3,166.4 130.7,166.5 131.1,167.3 131.5,167.6 131.9,167.5 132.3,167.3 132.7,167.1 133.1,166.8 133.5,166.4 133.9,166.1 134.3,166.3 134.7,167.0 135.1,167.6 135.1,149.4 135.9,149.1 136.3,149.1 136.7,149.6 137.1,150.0 137.5,149.9 137.9,149.5 138.3,149.3 138.7,149.2 139.1,149.1 139.5,148.8 139.9,148.4 140.3,148.4 140.7,149.0 141.1,149.4 141.5,149.2 141.9,148.6 142.3,148.7 142.7,149.3 143.1,149.6 143.5,149.7 143.9,149.8 143.9,168.1 144.7,167.7 145.1,166.8 145.5,166.2 145.9,166.2 146.3,166.2 146.7,166.1 147.1,166.3 147.5,166.4 147.9,166.2 148.3,166.3 148.7,166.7 149.1,167.0 149.5,166.9 149.9,166.7 150.3,166.9 150.7,167.3 151.1,167.4 151.5,166.9 151.9,166.7 152.3,166.9 152.7,167.1 153.1,167.2 153.5,167.1 153.9,167.1 154.3,167.1 154.7,167.0 155.1,166.9 155.5,167.0 155.9,167.1 156.3,167.0 156.7,166.8 157.1,166.7 157.5,166.6 157.9,166.6 158.3,166.7 158.7,166.7 159.1,166.8 159.5,166.9 159.9,166.9 160.3,167.1 160.7,167.7 161.1,168.0 161.5,167.7 161.9,167.3 162.3,166.8 162.7,166.4 163.1,166.2 163.5,166.2 163.9,166.4 164.3,166.9 164.7,167.4 165.1,167.7 165.5,167.6 165.9,167.4 166.3,166.9 166.7,166.2 167.1,166.0 167.5,166.3 167.9,166.2 168.3,165.7 168.7,165.4 169.1,165.8 169.5,166.9 169.9,168.0 170.3,168.3 170.7,168.1 171.1,167.8 171.5,167.5 171.9,167.1 172.3,166.8 172.7,166.4 173.1,166.2 173.5,166.3 173.9,166.8 174.3,167.6 174.7,168.1 175.1,167.8 175.5,167.4 175.9,167.1 176.3,167.2 176.7,167.7 177.1,168.2 177.5,168.3 177.9,168.1 178.3,167.5 178.7,167.3 179.1,167.6 179.5,167.8 179.9,167.6 180.3,167.2 180.7,167.3 181.1,167.3 181.5,166.9 181.9,166.5 182.3,166.5 182.7,167.0 183.1,167.5 183.5,167.5 183.9,167.3 184.3,167.4 184.7,167.6 185.1,167.6 185.5,167.3 185.9,166.9 186.3,166.7 186.7,166.8 186.7,453.3 187.3,458.2 187.7,453.5 188.1,447.7 188.5,441.4 188.9,435.0 189.3,430.3 189.7,426.2 190.1,422.9 190.5,421.0 190.9,418.8 191.3,415.6 191.7,412.5 192.1,411.0 192.5,409.7 192.9,408.0 193.3,406.5 193.7,404.4 194.1,403.5 194.5,402.8 194.9,402.2 195.3,401.6 195.7,400.5 196.1,398.2 196.5,396.8 196.9,396.0 197.3,395.2 197.7,394.4 198.1,393.9 198.5,394.8 198.9,394.9 199.3,394.1 199.7,394.0 200.1,391.6 200.5,387.4 200.9,384.3 201.3,382.7 201.7,382.7 202.1,383.7 202.5,384.5 202.9,385.4 203.3,387.3 203.7,388.7 204.1,388.1 204.5,386.0 204.9,383.5 205.3,382.6 205.7,382.9 206.1,381.4 206.5,380.2 206.9,381.2 207.3,381.4 207.7,380.7 208.1,382.2 208.5,382.5 208.9,383.3 209.3,382.9 209.7,381.3 210.1,379.9 210.5,378.9 210.9,378.2 211.3,378.4 211.7,378.6 212.1,378.4 212.5,379.3 212.9,378.9 213.3,379.0 213.7,380.4 214.1,380.6 214.5,378.1 214.9,376.5 215.3,375.3 215.7,373.1 216.1,371.8 216.5,370.6 216.9,369.9 217.3,369.8 217.7,370.0 218.1,369.9 218.5,368.5 218.9,368.7 219.3,369.9 219.7,370.2 220.1,370.6 220.5,370.9 220.9,370.7 221.3,369.8 221.7,370.2 222.1,371.3 222.5,372.0 222.9,370.5 223.3,369.5 223.7,369.3 224.1,369.2 224.5,369.2 224.9,369.2 225.3,368.1 225.7,367.6 226.1,367.5 226.5,366.8 226.9,365.3 227.3,365.3 227.7,366.4 228.1,366.7 228.5,365.0 228.9,364.4 229.3,365.5 229.7,365.9 230.1,366.5 230.5,367.2 230.9,366.4 231.3,367.4 231.7,368.6 232.1,368.7 232.5,370.1 232.9,369.9 233.3,369.4 233.7,369.2 234.1,367.0 234.5,365.0 234.9,366.2 235.3,366.4 235.7,365.7 236.1,366.1 236.5,365.3 236.9,365.5 237.3,367.5 237.7,367.9 238.1,367.8 238.5,367.1 238.9,365.7 239.3,365.8 239.7,363.7 240.1,362.5 240.5,363.1 240.9,364.0 241.3,365.2 241.7,364.6 242.1,364.0 242.5,362.6 242.9,360.8 243.3,360.0 243.7,359.8 244.1,360.5 244.5,361.8 244.9,363.5 245.3,364.3 245.7,365.5 246.1,366.5 246.5,366.4 246.9,366.2 247.3,364.3 247.7,363.1 248.1,363.1 248.5,363.2 248.9,362.6 249.3,361.7 249.7,361.1 250.1,360.9 250.5,360.8 250.9,360.2 251.3,360.5 251.7,362.0 252.1,363.7 252.5,363.5 252.9,362.6 253.3,361.3 253.7,360.7 254.1,359.5 254.5,358.8 254.9,359.6 255.3,359.4 255.7,358.5 256.1,358.2 256.5,360.1 256.9,362.0 257.3,363.7 257.7,364.6 258.1,364.0 258.5,363.5 258.9,361.9 259.3,360.0 259.7,358.8 260.1,357.9 260.5,357.8 260.9,357.4 261.3,357.2 261.7,359.2 262.1,360.2 262.5,360.4 262.9,360.8 263.3,360.3 263.7,360.3 264.1,360.6 264.5,359.6 264.9,359.5 265.3,360.9 265.7,361.1 266.1,360.9 266.5,359.6 266.9,357.7 267.3,356.8 267.7,356.6 268.1,357.9 268.5,359.5 268.9,361.2 269.3,361.5 269.7,359.4 270.1,357.4 270.5,356.7 270.9,356.4 271.3,356.2 271.7,355.9 272.1,354.7 272.5,354.4 272.9,355.2 273.3,355.7 273.7,355.2 274.1,355.0 274.5,355.8 274.9,356.4 275.3,356.9 275.7,356.2 276.1,355.2 276.5,355.5 276.9,357.6 277.3,358.7 277.7,358.1 278.1,356.0 278.5,355.2 278.9,355.8 279.3,354.3 279.7,352.6 280.1,353.2 280.5,353.5 280.9,354.8 281.3,354.5 281.7,352.9 282.1,353.5 282.5,354.1 282.9,353.8 283.3,352.5 283.7,352.2 284.1,352.3 284.5,350.5 284.9,350.4 285.3,351.1 285.7,351.8 286.1,353.0 286.5,354.9 286.9,354.9 287.3,353.8 287.7,353.0 288.1,352.9 288.5,354.1 288.9,355.5 289.3,354.6 289.7,352.8 290.1,350.6 290.5,349.3 290.9,350.1 291.3,350.6 291.7,351.1 292.1,351.4 292.5,352.4 292.9,352.4 293.3,352.2 293.7,352.4 294.1,352.1 294.5,352.0 294.9,352.2 295.3,352.6 295.7,352.3 296.1,353.2 296.5,354.3 296.9,354.5 297.3,354.3 297.7,354.3 298.1,354.2 298.5,354.4 298.9,352.0 299.3,349.4 299.7,348.4 300.1,348.9 300.5,349.9 300.9,349.8 301.3,351.0 301.7,353.0 302.1,353.5 302.5,355.1 302.9,356.5 303.3,356.2 303.7,354.1 304.1,351.5 304.5,350.6 304.9,351.2 305.3,350.5 305.7,349.2 306.1,349.8 306.5,350.3 306.9,350.3 307.3,350.5 307.7,349.9 308.1,350.1 308.5,350.2 308.9,349.7 309.3,350.3 309.7,351.3 310.1,350.1 310.5,348.6 310.9,347.6 311.3,347.3 311.7,346.8 312.1,346.8 312.5,347.8 312.9,348.1 313.3,347.9 313.7,347.3 314.1,348.4 314.5,350.2 314.9,350.3 315.3,349.8 315.7,349.7 316.1,349.0 316.5,348.1 316.9,347.5 317.3,347.0 317.7,347.1 318.1,348.9 318.5,349.6 318.9,348.4 319.3,348.6 319.7,350.3 320.1,350.5 320.5,350.7 320.9,350.7 321.3,350.3 321.7,350.2 322.1,349.9 322.5,348.7 322.9,348.9 323.3,348.4 323.7,346.9 324.1,346.9 324.5,347.8 324.9,346.7 325.3,346.0 325.7,346.3 326.1,345.1 326.5,344.5 326.9,345.4 327.3,345.8 327.7,346.0 328.1,346.9 328.5,348.0 328.9,348.3 329.3,348.0 329.7,348.8 330.1,348.2 330.5,347.3 330.9,347.3 331.3,347.8 331.7,348.0 332.1,347.9 332.5,346.5 332.9,347.6 333.3,347.6 333.7,346.0 334.1,346.9 334.5,347.1 334.9,346.6 335.3,346.4 335.7,346.5 336.1,346.4 336.5,347.1 336.9,348.4 337.3,349.0 337.7,350.1 338.1,350.5 338.5,347.9 338.9,346.5 339.3,346.5 339.7,347.2 340.1,347.9 340.5,347.2 340.9,346.9 341.3,345.9 341.7,343.6 342.1,343.7 342.5,344.8 342.9,346.1 343.3,347.4 343.7,349.3 344.1,348.9 344.5,347.8 344.9,346.5 345.3,345.5 345.7,345.3 346.1,345.3 346.5,346.0 346.9,346.8 347.3,348.1 347.7,349.0 348.1,349.3 348.5,348.4 348.9,347.3 349.3,347.2 349.7,346.4 350.1,346.6 350.5,347.6 350.9,347.4 351.3,347.3 351.7,346.7 352.1,346.3 352.5,346.1 352.9,345.4 353.3,346.3 353.7,346.6 354.1,345.9 354.5,345.3 354.9,345.3 355.3,345.3 355.7,344.9 356.1,343.3 356.5,343.6 356.9,344.6 357.3,345.5 357.7,345.9 358.1,345.6 358.5,345.4 358.9,345.0 359.3,346.2 359.7,346.8 360.1,347.2 360.5,347.5 360.9,345.8 361.3,344.2 361.7,344.3 362.1,343.9 362.5,343.2 362.9,343.5 363.3,344.8 363.7,345.5 364.1,344.8 364.5,345.0 364.9,346.3 365.3,347.0 365.7,348.6 366.1,349.0 366.5,348.2 366.9,348.0 367.3,345.8 367.7,343.9 368.1,343.2 368.5,343.4 368.9,343.8 369.3,343.6 369.7,343.4 370.1,343.6 370.5,343.6 370.9,344.4 371.3,345.3 371.7,345.0 372.1,344.4 372.5,344.4 372.9,344.3 373.3,344.5 373.7,344.9 374.1,345.3 374.5,344.8 374.9,343.4 375.3,342.7 375.7,343.0 376.1,344.2 376.5,343.5 376.9,343.9 377.3,344.3 377.7,345.1 378.1,345.8 378.5,345.8 378.9,345.8 379.3,346.1 379.7,345.4 380.1,344.4 380.5,344.0 380.9,344.8 381.3,346.8 381.7,347.6 382.1,347.1 382.5,346.1 382.9,347.0 383.3,347.1 383.7,346.1 384.1,346.4 384.5,346.1 384.9,346.5 385.3,346.9 385.7,346.6 386.1,346.6 386.5,347.1 386.9,347.7 387.3,347.6 387.7,346.5 388.1,344.4 388.5,342.5 388.9,342.5 389.3,343.4 389.7,344.3 390.1,344.4 390.5,343.4 390.9,343.1 391.3,343.6 391.7,343.8 392.1,344.0 392.5,343.8 392.9,342.5 393.3,341.2 393.7,341.0 394.1,340.5 394.5,342.5 394.9,345.2 395.3,345.5 395.7,345.8 396.1,346.3 396.5,345.0 396.9,344.8 397.3,344.7 397.7,344.0 398.1,344.6 398.5,345.9 398.9,346.0 399.3,345.1 399.7,344.6 400.1,344.0 400.5,342.5 400.9,341.5 401.3,341.6 401.7,341.8 402.1,342.0 402.5,342.1 402.9,342.9 403.3,342.8 403.7,342.5 404.1,343.1 404.5,342.3 404.9,341.6 405.3,342.1 405.7,342.9 406.1,343.1 406.5,342.9 406.9,343.6 407.3,343.8 407.7,344.0 408.1,344.3 408.5,343.9 408.9,342.5 409.3,342.4 409.7,341.7 410.1,341.4 410.5,342.6 410.9,342.1 411.3,342.4 411.7,343.1 412.1,344.6 412.5,346.0 412.9,346.3 413.3,346.4 413.7,346.9 414.1,347.3 414.5,347.4 414.9,345.4 415.3,343.0 415.7,342.3 416.1,342.3 416.5,340.8 416.9,340.2 417.3,340.9 417.7,339.8 418.1,339.9 418.5,341.8 418.9,343.2 419.3,342.7 419.7,341.6 420.1,341.5 420.5,340.9 420.9,340.1 421.3,338.7 421.7,339.7 422.1,341.6 422.5,342.0 422.9,340.7 423.3,339.1 423.7,341.3 424.1,343.1 424.5,343.5 424.9,342.8 425.3,342.9 425.7,342.3 426.1,341.0 426.5,340.2 426.9,339.8 427.3,339.7 427.7,339.2 428.1,339.0 428.5,338.9 428.9,339.8 429.3,341.1 429.7,341.8 430.1,342.0 430.5,341.4 430.9,339.6 431.3,338.4 431.7,338.7 432.1,341.1 432.5,342.3 432.9,341.3 433.3,340.1 433.7,339.0 434.1,339.5 434.5,340.2 434.9,339.1 435.3,337.9 435.7,338.7 436.1,339.8 436.5,341.3 436.9,342.3 437.3,342.0 437.7,342.0 438.1,341.4 438.5,339.3 438.9,337.7 439.3,337.1 439.7,338.5 440.1,340.1 440.5,340.6 440.9,340.1 441.3,338.7 441.7,338.5 442.1,339.6 442.5,339.9 442.9,339.6 443.3,339.6 443.7,338.9 444.1,338.8 444.5,339.5 444.9,339.6 445.3,340.0 445.7,340.5 445.7,211.8 446.4,213.9 446.8,215.2 447.2,216.3 447.6,216.5 448.0,217.6 448.4,219.0 448.8,219.7 449.2,220.7 449.6,221.1 450.0,220.7 450.4,221.3 450.8,222.4 451.2,222.2 451.6,221.3 452.0,221.1 452.4,220.7 452.8,220.2 453.2,220.3 453.6,221.5 454.0,222.8 454.4,223.2 454.8,223.3 455.2,223.2 455.6,223.1 456.0,223.0 456.4,222.9 456.8,223.7 457.2,223.3 457.6,223.7 458.0,223.9 458.4,223.5 458.8,223.0 459.2,222.8 459.6,223.0 460.0,223.4 460.4,224.3 460.8,223.7 461.2,224.1 461.6,222.5 462.0,223.2 462.4,222.8 462.8,222.9 463.2,223.1 463.6,221.7 464.0,221.8 464.4,222.1 464.8,222.5 465.2,223.2 465.6,223.8 466.0,223.7 466.4,224.3 466.8,224.0 467.2,225.1 467.6,225.0 468.0,224.9 468.4,225.1 468.8,224.2 469.2,223.3 469.6,224.5 470.0,224.1 470.4,224.4 470.8,224.9 471.2,224.2 471.6,224.7 472.0,225.4 472.4,224.7 472.8,225.9 473.2,225.2 473.6,225.3 474.0,224.4 474.4,223.1 474.8,223.3 475.2,224.5 475.6,223.8 476.0,223.5 476.4,223.0 476.8,222.7 477.2,222.4 477.6,222.8 478.0,224.4 478.4,225.3 478.8,225.8 479.2,224.8 479.6,225.1 480.0,224.8 480.4,224.9 480.8,225.5 481.2,225.0 481.6,224.1 482.0,225.0 482.4,226.1 482.8,225.8 483.2,224.6 483.6,223.6 484.0,224.0 484.4,224.9 484.8,225.6 485.2,225.7 485.6,225.9 486.0,225.3 486.4,225.1 486.8,225.0 487.2,224.9 487.6,224.4 488.0,224.1 488.4,224.0 488.8,224.7 489.2,224.1 489.6,224.1 490.0,224.6 490.4,224.7 490.8,223.5 491.2,223.2 491.6,224.7 492.0,225.2 492.4,225.8 492.8,225.3 493.2,224.8 493.6,225.7 494.0,226.1 494.4,226.4 494.8,227.0 495.2,226.6 495.6,226.5 496.0,226.0 496.4,225.3 496.8,223.8 497.2,224.2 497.6,224.0 498.0,224.2 498.4,225.7 498.8,226.3 499.2,225.5 499.6,225.6 500.0,225.3 500.4,225.5 500.8,225.7 501.2,225.3 501.6,225.2 502.0,225.3 502.4,225.4 502.8,225.1 503.2,225.0 503.6,225.9 504.0,226.8 504.4,227.6 504.8,226.9 505.2,225.5 505.6,226.5 506.0,226.0 506.4,226.3 506.8,226.3 507.2,227.0 507.6,227.7 508.0,227.2 508.4,227.4 508.8,226.9 509.2,226.5 509.6,225.9 510.0,226.2 510.4,227.1 510.8,227.4 511.2,226.7 511.6,226.2 512.0,225.6 512.4,225.1 512.8,225.0 513.2,226.1 513.6,226.1 514.0,226.0 514.4,225.9 514.8,225.5 515.2,225.5 515.6,225.6 516.0,225.6 516.4,226.9 516.8,226.9 517.2,228.4 517.6,228.1 518.0,227.8 518.4,227.5 518.8,227.5 519.2,227.6 519.6,227.2 520.0,227.9 520.4,227.4 520.8,226.9 521.2,227.1 521.6,227.9 522.0,226.8 522.4,226.6 522.8,226.8 523.2,227.6 523.6,227.0 524.0,227.9 524.4,227.7 524.8,226.6 525.2,226.3 525.6,226.2 526.0,227.0 526.4,227.6 526.8,227.7 527.2,227.3 527.6,227.0 528.0,226.3 528.4,227.1 528.8,227.2 529.2,227.6 529.6,228.1 530.0,227.4 530.4,226.6 530.8,226.8 531.2,226.9 531.6,228.2 532.0,228.4 532.4,228.0 532.8,228.6 533.2,227.8 533.6,227.5 534.0,226.8 534.4,227.5 534.8,227.6 535.2,227.8 535.6,228.3 536.0,227.9 536.4,228.1 536.8,227.5 537.2,227.3 537.6,227.8 538.0,226.4 538.4,227.7 538.8,227.4 539.2,227.6 539.6,226.8 540.0,227.0 540.4,226.7 540.8,227.5 541.2,226.8 541.6,226.2 542.0,225.5 542.4,226.1 542.8,227.4 543.2,227.3 543.6,227.8 544.0,228.5 544.4,228.6 544.8,228.7 545.2,228.2 545.6,228.1 546.0,227.1 546.4,228.0 546.8,229.0 547.2,229.6 547.6,229.3 548.0,228.1 548.4,228.2 548.8,228.5 549.2,229.4 549.6,228.2 550.0,228.5 550.4,227.7 550.8,227.5 551.2,227.5 551.6,227.9 552.0,227.8 552.4,228.1 552.8,227.6 553.2,226.4 553.6,227.3 554.0,226.5 554.4,226.8 554.8,227.5 555.2,228.2 555.6,228.1 556.0,227.9 556.4,227.9 556.8,228.6 557.2,228.7 557.6,228.9 558.0,228.7 558.4,227.7 558.8,227.9 559.2,228.0 559.6,228.3 560.0,227.4 560.4,228.3 560.8,229.8 561.2,228.8 561.6,229.6 562.0,228.3 562.4,228.2 562.8,228.4 563.2,228.1 563.6,229.1 564.0,228.8 564.4,228.9 564.8,228.3 565.2,227.9 565.6,228.5 566.0,229.2 566.4,230.1 566.8,229.6 567.2,228.9 567.6,228.8 568.0,228.2 568.4,228.4 568.8,228.1 569.2,228.3 569.6,228.6 570.0,227.4 570.4,227.9 570.8,228.0 571.2,228.9 571.6,229.2 572.0,228.9 572.4,229.6 572.8,229.9 573.2,228.9 573.6,229.0 574.0,229.6 574.4,228.6 574.8,229.3 575.2,229.8 575.6,229.1 576.0,229.2 576.4,228.7 576.8,228.0 577.2,229.3 577.6,229.9 578.0,230.6 578.4,230.2 578.8,229.3 579.2,228.9 579.6,230.0 580.0,230.8 580.4,231.0 580.8,231.2 581.2,231.1 581.6,229.5 582.0,228.6 582.4,228.4 582.8,227.9 583.2,227.9 583.6,228.1 584.0,228.2 584.4,227.4 584.8,227.4 585.2,227.8 585.6,227.8 586.0,228.2 586.4,228.8 586.8,229.1 587.2,229.0 587.6,229.6 588.0,230.8 588.4,230.7 588.8,230.9 589.2,230.7 589.6,229.9 590.0,229.4 590.4,228.3 590.8,227.5 591.2,228.3 591.6,228.0 592.0,228.8 592.4,229.7 592.8,229.8 593.2,229.6 593.6,229.4 594.0,228.9 594.4,228.6 594.8,228.2 595.2,228.8 595.6,228.3 596.0,228.5 596.4,228.3 596.8,227.7 597.2,228.2 597.6,228.1 598.0,228.5 598.4,228.7 598.8,228.7 599.2,228.1 599.6,229.1 600.0,229.3 600.4,228.8 600.8,228.1 601.2,228.5 601.6,228.3 602.0,228.7 602.4,228.6 602.8,228.7 603.2,229.6 603.6,230.2 604.0,229.3 604.4,228.9 604.8,228.4 605.2,229.1 605.6,229.3 606.0,230.6 606.4,230.8 606.8,229.8 607.2,229.7 607.6,229.3 608.0,228.9 608.4,228.8 608.8,229.0 609.2,229.4 609.6,229.5 610.0,228.3 610.4,227.3 610.8,227.5 611.2,226.5 611.6,226.6 612.0,227.0 612.4,228.3 612.8,229.1 613.2,230.2 613.6,229.1 614.0,229.0 614.4,228.9 614.8,228.4 615.2,229.2 615.6,228.8 616.0,228.8 616.4,229.0 616.8,228.7 617.2,228.9 617.6,228.7 618.0,228.2 618.4,227.3 618.4,158.1 619.1,156.7 619.5,156.6 619.9,157.5 620.3,157.3 620.7,156.7 621.1,156.7 621.5,156.8 621.9,158.3 622.3,159.5 622.7,158.9 623.1,157.7 623.5,158.6 623.9,159.6 624.3,159.0 624.7,158.5 625.1,158.3 625.5,157.4 625.9,157.6 626.3,158.1 626.7,158.1 627.1,158.5 627.5,159.3 627.9,159.3 628.3,158.1 628.7,156.8 629.1,156.3 629.5,156.8 629.9,157.5 630.3,158.9 630.7,160.4 631.1,159.7 631.5,158.9 631.9,158.6 632.3,157.8 632.7,158.1 633.1,158.8 633.5,159.0 633.9,159.3 634.3,159.1 634.7,159.7 635.1,160.8 635.5,160.7 635.9,159.9 636.3,159.7 636.7,159.6 637.1,158.8 637.5,158.8 637.9,160.1 638.3,160.7 638.7,159.9 639.1,158.9 639.5,158.2 639.9,158.3 640.3,159.0 640.7,159.9 641.1,160.3 641.5,160.0 641.9,159.4 642.3,158.9 642.7,159.6 643.1,160.1 643.5,158.8 643.9,158.3 644.3,160.0 644.7,161.3 645.1,160.8 645.5,159.8 645.9,159.2 646.3,158.3 646.7,158.7 647.1,159.5 647.5,160.1 647.9,160.5 648.3,162.2 648.7,163.4 649.1,162.9 649.5,161.3 649.9,159.8 650.3,159.8 650.7,160.6 651.1,160.3 651.5,159.5 651.9,159.2 652.3,159.3 652.7,159.9 653.1,160.6 653.5,161.3 653.9,161.0 654.3,160.5 654.7,159.9 655.1,158.1 655.5,157.8 655.9,159.1 656.3,160.9 656.7,162.1 657.1,161.6 657.5,160.6 657.9,159.4 658.3,158.5 658.7,159.3 659.1,160.7 659.5,160.5 659.9,159.8 660.3,159.4 660.7,158.7 661.1,158.2 661.5,158.7 661.9,158.8 662.3,158.7 662.7,159.3 663.1,159.8 663.5,160.1 663.9,160.2 664.3,160.1 664.7,159.7 665.1,159.4 665.5,159.8 665.9,160.4 666.3,160.9 666.7,160.3 667.1,160.0 667.5,160.6 667.9,160.9 668.3,161.8 668.7,162.5 669.1,161.2 669.5,159.3 669.9,159.1 670.3,159.4 670.7,158.8 671.1,159.2 671.5,159.8 671.9,159.5 672.3,159.3 672.7,159.5 673.1,159.6 673.5,159.8 673.9,160.0 674.3,159.8 674.7,160.3 675.1,161.4 675.5,161.4 675.9,160.6 676.3,160.2 676.7,160.3 677.1,159.9 677.5,159.1 677.9,159.5 678.3,160.4 678.7,160.6 679.1,161.5 679.5,161.4 679.9,160.4 680.3,160.0 680.7,160.5 681.1,161.2 681.5,161.6 681.9,161.7 682.3,161.0 682.7,160.3 683.1,160.8 683.5,161.0 683.9,160.1 684.3,159.3 684.7,159.5 685.1,160.1 685.5,160.6 685.9,161.5 686.3,160.7 686.7,158.9 687.1,158.7 687.5,159.2 687.9,159.3 688.3,160.1 688.7,161.1 689.1,160.8 689.5,160.2 689.9,160.9 690.3,161.1 690.7,160.4 691.1,160.2 691.5,159.6 691.9,159.6 692.3,161.0 692.7,161.0 693.1,159.1 693.5,158.3 693.9,159.7 694.3,160.1 694.7,159.9 695.1,159.7 695.5,160.6 695.9,161.4 696.3,161.3 696.7,161.3 697.1,161.3 697.5,161.0 697.9,159.9 698.3,158.8 698.7,158.3 699.1,158.9 699.5,159.3 699.9,159.6 700.3,160.7 700.7,161.7 701.1,162.8 701.5,161.7 701.9,160.1 702.3,160.4 702.7,161.4 703.1,162.1 703.5,161.9 703.9,161.1 704.3,161.0 704.7,161.1"/>
<path d="M101.5,167.2 101.9,167.6 102.3,167.9 102.7,167.9 103.1,167.6 103.5,167.0 103.9,166.4 104.3,166.4 104.7,166.9 105.1,167.4 105.5,167.8 105.9,168.2 106.3,168.4 106.7,168.3 107.1,167.8 107.5,167.4 107.9,167.1 108.3,166.8 108.7,166.6 109.1,166.9 109.5,167.4 109.9,167.3 110.3,166.7 110.7,166.1 111.1,165.9 111.5,165.9 111.9,166.1 112.3,166.1 112.7,165.6 113.1,165.3 113.5,165.6 113.9,166.0 114.3,166.3 114.7,166.7 115.1,167.2 115.5,167.4 115.9,167.4 116.3,167.5 116.7,167.6 117.1,167.4 117.5,167.3 117.9,167.2 118.3,166.8 118.7,166.1 119.1,165.4 119.5,165.2 119.9,165.6 120.3,166.1 120.7,166.3 121.1,166.8 121.5,167.9 121.9,168.6 122.3,168.3 122.7,167.6 123.1,167.1 123.5,166.7 123.9,166.5 124.3,166.6 124.7,166.7 125.1,166.9 125.5,167.3 125.9,167.6 126.3,167.6 126.7,167.5 127.1,167.3 127.5,167.1 127.9,167.1 128.3,167.3 128.7,167.3 129.1,167.2 129.5,167.1 129.9,167.1 130.3,167.0 130.7,166.5 131.1,166.3 131.5,166.6 131.9,166.8 132.3,167.0 132.7,167.4 133.1,168.0 133.5,168.3 133.9,167.9 134.3,167.5 134.7,167.4 135.1,167.2 135.1,148.6 135.9,148.4 136.3,148.2 136.7,148.1 137.1,147.9 137.5,147.8 137.9,148.0 138.3,148.7 138.7,149.3 139.1,149.4 139.5,149.4 139.9,149.5 140.3,149.8 140.7,149.7 141.1,149.4 141.5,149.1 141.9,148.8 142.3,148.8 142.7,148.8 143.1,148.7 143.5,148.2 143.9,147.8 143.9,166.2 144.7,166.9 145.1,167.4 145.5,167.4 145.9,167.1 146.3,166.9 146.7,167.0 147.1,167.4 147.5,167.7 147.9,167.3 148.3,167.1 148.7,167.2 149.1,167.3 149.5,167.3 149.9,167.3 150.3,167.2 150.7,167.0 151.1,166.8 151.5,166.7 151.9,167.1 152.3,167.4 152.7,167.5 153.1,167.4 153.5,167.1 153.9,166.8 154.3,166.6 154.7,166.6 155.1,167.0 155.5,167.6 155.9,167.8 156.3,167.7 156.7,167.2 157.1,166.8 157.5,166.7 157.9,166.9 158.3,167.3 158.7,167.6 159.1,167.8 159.5,167.7 159.9,167.2 160.3,166.7 160.7,166.7 161.1,166.8 161.5,166.8 161.9,166.9 162.3,167.4 162.7,168.0 163.1,167.9 163.5,167.2 163.9,166.7 164.3,166.6 164.7,166.9 165.1,167.3 165.5,167.3 165.9,167.0 166.3,166.9 166.7,167.1 167.1,167.1 167.5,167.1 167.9,166.7 168.3,166.5 168.7,166.5 169.1,166.6 169.5,166.8 169.9,167.0 170.3,167.3 170.7,167.7 171.1,167.9 171.5,167.6 171.9,167.1 172.3,166.8 172.7,166.6 173.1,166.7 173.5,167.0 173.9,167.4 174.3,167.6 174.7,167.3 175.1,166.8 175.5,166.5 175.9,166.5 176.3,166.7 176.7,167.2 177.1,167.6 177.5,167.9 177.9,167.9 178.3,167.8 178.7,167.5 179.1,167.3 179.5,167.5 179.9,167.4 180.3,167.0 180.7,167.2 181.1,167.7 181.5,168.0 181.9,167.9 182.3,167.7 182.7,167.3 183.1,166.8 183.5,166.3 183.9,166.2 184.3,166.5 184.7,166.6 185.1,166.3 185.5,166.4 185.9,166.8 186.3,166.9 186.7,166.5 186.7,452.4 187.3,458.3 187.7,453.4 188.1,447.0 188.5,439.8 188.9,434.4 189.3,431.2 189.7,428.8 190.1,426.4 190.5,423.4 190.9,420.7 191.3,418.6 191.7,416.2 192.1,414.7 192.5,413.3 192.9,411.0 193.3,408.7 193.7,407.7 194.1,406.8 194.5,403.9 194.9,400.9 195.3,398.8 195.7,397.0 196.1,395.9 196.5,395.9 196.9,396.8 197.3,396.6 197.7,395.8 198.1,394.4 198.5,393.0 198.9,393.8 199.3,393.3 199.7,391.9 200.1,392.5 200.5,391.1 200.9,389.7 201.3,389.4 201.7,388.3 202.1,386.6 202.5,385.7 202.9,385.2 203.3,386.1 203.7,385.5 204.1,384.9 204.5,385.5 204.9,385.8 205.3,387.3 205.7,387.3 206.1,384.9 206.5,383.6 206.9,382.2 207.3,380.9 207.7,380.1 208.1,379.7 208.5,379.6 208.9,382.2 209.3,383.6 209.7,381.7 210.1,380.7 210.5,379.0 210.9,376.6 211.3,377.2 211.7,379.7 212.1,379.9 212.5,379.9 212.9,379.1 213.3,378.9 213.7,378.6 214.1,378.0 214.5,379.0 214.9,378.9 215.3,377.7 215.7,377.5 216.1,378.6 216.5,380.7 216.9,380.3 217.3,379.6 217.7,378.6 218.1,377.9 218.5,377.9 218.9,377.4 219.3,377.0 219.7,376.1 220.1,375.1 220.5,372.7 220.9,370.4 221.3,369.2 221.7,371.9 222.1,372.7 222.5,371.3 222.9,371.6 223.3,372.3 223.7,372.3 224.1,373.3 224.5,373.0 224.9,371.1 225.3,370.0 225.7,369.0 226.1,368.0 226.5,368.5 226.9,370.6 227.3,373.0 227.7,373.8 228.1,372.2 228.5,371.8 228.9,372.6 229.3,372.8 229.7,372.6 230.1,371.9 230.5,370.7 230.9,371.9 231.3,372.9 231.7,372.4 232.1,372.0 232.5,371.3 232.9,369.9 233.3,368.3 233.7,368.0 234.1,368.5 234.5,369.8 234.9,370.1 235.3,369.9 235.7,368.4 236.1,366.7 236.5,366.0 236.9,365.1 237.3,364.8 237.7,366.4 238.1,369.0 238.5,368.9 238.9,367.7 239.3,367.1 239.7,366.4 240.1,365.0 240.5,363.6 240.9,363.3 241.3,364.4 241.7,365.5 242.1,366.6 242.5,364.9 242.9,363.2 243.3,364.8 243.7,366.6 244.1,366.7 244.5,366.3 244.9,365.9 245.3,365.3 245.7,364.2 246.1,364.7 246.5,365.2 246.9,366.3 247.3,368.6 247.7,368.7 248.1,367.0 248.5,367.2 248.9,366.0 249.3,363.3 249.7,362.5 250.1,363.0 250.5,364.1 250.9,365.7 251.3,365.6 251.7,363.0 252.1,361.2 252.5,362.2 252.9,363.5 253.3,364.0 253.7,364.3 254.1,363.7 254.5,361.7 254.9,360.0 255.3,360.5 255.7,361.0 256.1,362.9 256.5,363.5 256.9,363.0 257.3,362.8 257.7,362.4 258.1,361.5 258.5,361.1 258.9,362.3 259.3,362.4 259.7,361.5 260.1,360.6 260.5,360.3 260.9,358.9 261.3,358.2 261.7,358.8 262.1,357.8 262.5,356.7 262.9,357.4 263.3,359.1 263.7,359.1 264.1,358.2 264.5,358.0 264.9,358.7 265.3,359.3 265.7,358.9 266.1,358.8 266.5,358.1 266.9,356.7 267.3,356.0 267.7,355.8 268.1,357.2 268.5,359.5 268.9,360.3 269.3,359.5 269.7,360.4 270.1,361.5 270.5,360.7 270.9,359.2 271.3,358.4 271.7,357.3 272.1,356.6 272.5,357.1 272.9,357.2 273.3,357.9 273.7,359.6 274.1,360.1 274.5,360.5 274.9,359.4 275.3,358.6 275.7,357.8 276.1,356.9 276.5,355.6 276.9,354.9 277.3,355.7 277.7,357.6 278.1,358.5 278.5,357.8 278.9,356.8 279.3,357.5 279.7,357.0 280.1,355.9 280.5,356.1 280.9,356.3 281.3,355.5 281.7,353.5 282.1,353.6 282.5,355.5 282.9,356.2 283.3,356.1 283.7,357.6 284.1,359.4 284.5,359.7 284.9,358.8 285.3,357.3 285.7,356.7 286.1,356.4 286.5,355.0 286.9,352.9 287.3,350.1 287.7,348.3 288.1,349.1 288.5,350.4 288.9,352.3 289.3,354.8 289.7,356.0 290.1,355.7 290.5,355.4 290.9,355.5 291.3,355.7 291.7,355.7 292.1,354.7 292.5,355.3 292.9,355.1 293.3,353.7 293.7,352.3 294.1,351.8 294.5,350.3 294.9,349.5 295.3,350.1 295.7,350.7 296.1,350.9 296.5,351.0 296.9,352.2 297.3,353.5 297.7,352.7 298.1,351.4 298.5,351.1 298.9,351.8 299.3,353.0 299.7,353.2 300.1,353.5 300.5,353.7 300.9,353.8 301.3,352.0 301.7,351.6 302.1,352.7 302.5,352.6 302.9,351.3 303.3,351.1 303.7,351.6 304.1,352.1 304.5,351.6 304.9,351.3 305.3,351.3 305.7,350.8 306.1,350.3 306.5,349.5 306.9,348.7 307.3,347.6 307.7,347.5 308.1,349.1 308.5,351.6 308.9,352.1 309.3,352.9 309.7,352.8 310.1,351.7 310.5,351.4 310.9,350.5 311.3,349.1 311.7,349.0 312.1,350.6 312.5,351.6 312.9,351.4 313.3,351.3 313.7,351.2 314.1,350.0 314.5,349.3 314.9,349.9 315.3,349.9 315.7,348.0 316.1,347.9 316.5,349.0 316.9,348.6 317.3,350.0 317.7,351.8 318.1,351.5 318.5,351.1 318.9,351.5 319.3,351.4 319.7,350.5 320.1,350.3 320.5,350.5 320.9,351.2 321.3,351.2 321.7,350.5 322.1,349.9 322.5,349.6 322.9,349.3 323.3,348.2 323.7,347.9 324.1,349.5 324.5,351.4 324.9,351.5 325.3,350.3 325.7,348.8 326.1,349.5 326.5,349.0 326.9,348.1 327.3,347.9 327.7,347.6 328.1,347.3 328.5,348.6 328.9,349.1 329.3,350.3 329.7,349.8 330.1,348.7 330.5,348.8 330.9,350.4 331.3,351.7 331.7,350.9 332.1,349.4 332.5,348.8 332.9,349.3 333.3,348.8 333.7,348.9 334.1,349.8 334.5,350.1 334.9,349.8 335.3,348.8 335.7,348.7 336.1,349.3 336.5,348.8 336.9,348.8 337.3,348.8 337.7,348.7 338.1,348.5 338.5,348.1 338.9,347.1 339.3,347.1 339.7,347.6 340.1,347.0 340.5,347.1 340.9,347.8 341.3,349.2 341.7,350.7 342.1,350.1 342.5,347.4 342.9,345.2 343.3,345.2 343.7,346.5 344.1,347.7 344.5,347.7 344.9,348.4 345.3,348.3 345.7,347.7 346.1,349.1 346.5,350.0 346.9,349.5 347.3,349.1 347.7,349.2 348.1,348.5 348.5,347.7 348.9,347.8 349.3,347.9 349.7,346.9 350.1,346.8 350.5,347.3 350.9,348.1 351.3,348.8 351.7,349.3 352.1,350.2 352.5,351.0 352.9,352.0 353.3,352.0 353.7,351.1 354.1,350.4 354.5,349.4 354.9,348.5 355.3,348.6 355.7,347.8 356.1,345.8 356.5,346.2 356.9,348.2 357.3,348.8 357.7,347.5 358.1,346.8 358.5,347.6 358.9,349.5 359.3,349.9 359.7,349.1 360.1,348.3 360.5,348.1 360.9,347.8 361.3,348.4 361.7,348.6 362.1,349.2 362.5,349.3 362.9,348.6 363.3,348.4 363.7,349.3 364.1,349.0 364.5,348.2 364.9,348.6 365.3,347.7 365.7,347.8 366.1,347.7 366.5,346.5 366.9,345.0 367.3,344.6 367.7,344.8 368.1,344.2 368.5,344.5 368.9,345.2 369.3,345.4 369.7,345.5 370.1,346.1 370.5,347.4 370.9,348.2 371.3,347.3 371.7,346.7 372.1,347.0 372.5,346.6 372.9,345.7 373.3,345.5 373.7,345.9 374.1,346.4 374.5,346.8 374.9,347.5 375.3,348.1 375.7,348.2 376.1,347.1 376.5,347.4 376.9,348.7 377.3,347.9 377.7,345.4 378.1,344.6 378.5,345.7 378.9,346.1 379.3,347.0 379.7,348.3 380.1,348.3 380.5,348.2 380.9,348.0 381.3,346.8 381.7,347.9 382.1,350.4 382.5,350.1 382.9,349.2 383.3,348.1 383.7,348.1 384.1,346.9 384.5,347.0 384.9,346.8 385.3,346.1 385.7,345.2 386.1,343.7 386.5,344.5 386.9,344.5 387.3,343.6 387.7,343.0 388.1,343.0 388.5,343.3 388.9,343.8 389.3,344.5 389.7,344.5 390.1,344.8 390.5,345.7 390.9,347.5 391.3,346.3 391.7,344.3 392.1,345.9 392.5,347.4 392.9,346.3 393.3,345.4 393.7,345.5 394.1,346.4 394.5,346.5 394.9,345.1 395.3,344.2 395.7,345.0 396.1,344.8 396.5,345.1 396.9,345.9 397.3,344.9 397.7,344.0 398.1,344.2 398.5,344.1 398.9,343.7 399.3,344.2 399.7,343.9 400.1,344.3 400.5,344.4 400.9,344.4 401.3,344.9 401.7,345.7 402.1,345.2 402.5,344.0 402.9,342.9 403.3,341.3 403.7,341.1 404.1,340.2 404.5,339.6 404.9,341.5 405.3,344.0 405.7,344.9 406.1,345.3 406.5,345.2 406.9,345.1 407.3,344.9 407.7,345.2 408.1,345.2 408.5,345.1 408.9,345.2 409.3,345.6 409.7,346.0 410.1,345.7 410.5,344.5 410.9,344.4 411.3,343.7 411.7,341.5 412.1,340.5 412.5,340.1 412.9,339.5 413.3,339.5 413.7,340.4 414.1,341.8 414.5,342.3 414.9,342.6 415.3,341.9 415.7,341.6 416.1,341.6 416.5,342.4 416.9,344.0 417.3,343.5 417.7,341.7 418.1,340.6 418.5,342.0 418.9,343.8 419.3,344.2 419.7,344.5 420.1,345.5 420.5,345.7 420.9,345.3 421.3,345.6 421.7,345.9 422.1,345.4 422.5,344.1 422.9,343.2 423.3,343.2 423.7,343.3 424.1,343.0 424.5,342.5 424.9,341.7 425.3,341.9 425.7,342.7 426.1,343.3 426.5,343.5 426.9,344.1 427.3,343.6 427.7,343.4 428.1,342.1 428.5,340.2 428.9,340.7 429.3,341.7 429.7,342.1 430.1,342.1 430.5,341.3 430.9,340.7 431.3,339.2 431.7,337.2 432.1,336.7 432.5,338.7 432.9,340.2 433.3,342.2 433.7,342.2 434.1,340.4 434.5,340.3 434.9,342.5 435.3,343.9 435.7,343.6 436.1,342.9 436.5,342.9 436.9,343.5 437.3,343.2 437.7,343.2 438.1,345.1 438.5,345.6 438.9,344.4 439.3,343.6 439.7,343.4 440.1,342.5 440.5,342.1 440.9,342.7 441.3,342.4 441.7,341.6 442.1,340.8 442.5,341.6 442.9,342.0 443.3,339.0 443.7,337.7 444.1,338.1 444.5,337.7 444.9,338.5 445.3,339.2 445.7,338.7 445.7,240.7 446.4,243.0 446.8,243.6 447.2,244.0 447.6,244.5 448.0,245.2 448.4,246.1 448.8,246.5 449.2,246.4 449.6,247.0 450.0,247.0 450.4,248.8 450.8,249.2 451.2,249.5 451.6,249.8 452.0,249.4 452.4,250.2 452.8,250.6 453.2,251.0 453.6,251.6 454.0,251.3 454.4,251.2 454.8,252.2 455.2,252.4 455.6,252.1 456.0,251.4 456.4,252.4 456.8,252.9 457.2,252.4 457.6,252.0 458.0,250.6 458.4,250.9 458.8,251.0 459.2,251.2 459.6,251.1 460.0,252.0 460.4,253.4 460.8,253.7 461.2,252.8 461.6,251.7 462.0,251.7 462.4,251.1 462.8,251.8 463.2,251.6 463.6,251.5 464.0,252.9 464.4,252.3 464.8,253.1 465.2,252.4 465.6,252.0 466.0,251.6 466.4,252.0 466.8,253.1 467.2,252.7 467.6,253.0 468.0,252.6 468.4,252.7 468.8,252.9 469.2,251.4 469.6,252.1 470.0,252.4 470.4,252.7 470.8,251.9 471.2,251.5 471.6,252.0 472.0,252.9 472.4,252.5 472.8,252.4 473.2,251.1 473.6,252.8 474.0,253.5 474.4,253.4 474.8,252.9 475.2,252.7 475.6,251.9 476.0,251.2 476.4,251.0 476.8,251.9 477.2,252.1 477.6,252.0 478.0,252.6 478.4,251.9 478.8,251.6 479.2,250.5 479.6,250.4 480.0,252.4 480.4,253.3 480.8,253.5 481.2,252.9 481.6,253.1 482.0,253.4 482.4,252.7 482.8,253.3 483.2,252.6 483.6,252.5 484.0,251.4 484.4,252.3 484.8,252.1 485.2,252.4 485.6,252.3 486.0,252.4 486.4,251.9 486.8,252.1 487.2,251.8 487.6,252.6 488.0,253.3 488.4,253.0 488.8,253.4 489.2,253.2 489.6,253.3 490.0,253.7 490.4,253.4 490.8,253.2 491.2,253.1 491.6,253.1 492.0,252.7 492.4,253.0 492.8,253.0 493.2,253.4 493.6,254.5 494.0,253.8 494.4,253.6 494.8,253.1 495.2,253.7 495.6,253.8 496.0,253.5 496.4,253.3 496.8,253.6 497.2,253.5 497.6,253.2 498.0,253.4 498.4,253.6 498.8,254.8 499.2,254.8 499.6,254.4 500.0,254.0 500.4,253.8 500.8,254.8 501.2,255.2 501.6,254.3 502.0,254.4 502.4,254.9 502.8,253.5 503.2,254.3 503.6,254.7 504.0,254.9 504.4,253.9 504.8,253.7 505.2,253.6 505.6,253.5 506.0,253.6 506.4,254.3 506.8,254.4 507.2,254.0 507.6,254.3 508.0,254.5 508.4,254.2 508.8,253.4 509.2,253.9 509.6,253.9 510.0,253.8 510.4,254.9 510.8,255.4 511.2,255.7 511.6,255.7 512.0,255.8 512.4,254.9 512.8,255.0 513.2,254.8 513.6,255.1 514.0,254.8 514.4,255.1 514.8,255.2 515.2,254.9 515.6,255.3 516.0,254.9 516.4,255.3 516.8,254.9 517.2,254.2 517.6,254.1 518.0,253.5 518.4,254.4 518.8,253.6 519.2,253.7 519.6,253.9 520.0,254.2 520.4,253.8 520.8,253.9 521.2,254.2 521.6,254.6 522.0,255.0 522.4,255.2 522.8,255.3 523.2,254.8 523.6,255.1 524.0,255.6 524.4,254.9 524.8,253.9 525.2,253.8 525.6,254.4 526.0,254.7 526.4,255.0 526.8,255.7 527.2,256.5 527.6,256.7 528.0,257.4 528.4,257.2 528.8,255.1 529.2,254.3 529.6,254.5 530.0,254.5 530.4,255.8 530.8,256.6 531.2,255.8 531.6,255.1 532.0,256.1 532.4,255.8 532.8,256.2 533.2,256.4 533.6,256.1 534.0,256.3 534.4,256.5 534.8,257.4 535.2,257.1 535.6,256.2 536.0,256.1 536.4,256.4 536.8,256.7 537.2,256.5 537.6,255.6 538.0,256.3 538.4,256.3 538.8,257.2 539.2,257.2 539.6,257.8 540.0,258.8 540.4,259.2 540.8,259.4 541.2,258.5 541.6,257.1 542.0,256.4 542.4,256.6 542.8,256.3 543.2,256.5 543.6,256.7 544.0,256.5 544.4,256.8 544.8,257.3 545.2,257.1 545.6,257.2 546.0,257.8 546.4,258.8 546.8,258.9 547.2,258.9 547.6,259.0 548.0,259.2 548.4,258.4 548.8,257.6 549.2,257.5 549.6,257.9 550.0,258.4 550.4,258.0 550.8,257.8 551.2,257.2 551.6,257.7 552.0,256.7 552.4,255.8 552.8,254.6 553.2,255.0 553.6,256.2 554.0,257.0 554.4,258.6 554.8,258.5 555.2,258.2 555.6,258.5 556.0,257.7 556.4,257.9 556.8,258.3 557.2,257.8 557.6,257.1 558.0,257.3 558.4,257.5 558.8,257.6 559.2,257.8 559.6,257.6 560.0,257.8 560.4,257.7 560.8,257.9 561.2,256.9 561.6,257.0 562.0,256.6 562.4,256.7 562.8,257.4 563.2,258.7 563.6,259.2 564.0,258.1 564.4,259.0 564.8,258.1 565.2,257.8 565.6,257.2 566.0,256.0 566.4,255.6 566.8,255.7 567.2,255.6 567.6,256.8 568.0,256.2 568.4,255.7 568.8,256.8 569.2,257.9 569.6,258.1 570.0,257.9 570.4,258.1 570.8,257.7 571.2,257.5 571.6,257.5 572.0,258.4 572.4,257.9 572.8,258.0 573.2,257.9 573.6,257.5 574.0,257.5 574.4,256.4 574.8,256.4 575.2,255.9 575.6,256.4 576.0,256.3 576.4,257.2 576.8,258.0 577.2,257.8 577.6,257.6 578.0,258.1 578.4,258.6 578.8,258.3 579.2,258.3 579.6,259.2 580.0,259.5 580.4,259.8 580.8,259.5 581.2,258.0 581.6,257.7 582.0,258.6 582.4,258.9 582.8,258.3 583.2,257.6 583.6,256.6 584.0,257.5 584.4,256.8 584.8,256.8 585.2,257.8 585.6,257.3 586.0,257.0 586.4,257.4 586.8,257.6 587.2,258.0 587.6,258.1 588.0,258.8 588.4,258.6 588.8,258.2 589.2,257.9 589.6,258.1 590.0,258.7 590.4,258.8 590.8,258.0 591.2,257.7 591.6,257.5 592.0,257.1 592.4,257.3 592.8,257.6 593.2,258.5 593.6,258.4 594.0,258.1 594.4,257.4 594.8,257.7 595.2,257.5 595.6,258.1 596.0,259.0 596.4,259.1 596.8,259.6 597.2,259.5 597.6,258.7 598.0,258.1 598.4,258.2 598.8,257.5 599.2,257.8 599.6,258.0 600.0,258.2 600.4,258.4 600.8,258.7 601.2,258.8 601.6,257.9 602.0,257.2 602.4,257.5 602.8,258.4 603.2,259.3 603.6,259.2 604.0,258.6 604.4,259.1 604.8,258.8 605.2,259.2 605.6,259.3 606.0,259.2 606.4,260.2 606.8,260.0 607.2,259.9 607.6,260.4 608.0,260.0 608.4,259.6 608.8,258.7 609.2,258.7 609.6,258.5 610.0,258.9 610.4,259.2 610.8,258.4 611.2,259.4 611.6,258.6 612.0,258.7 612.4,258.5 612.8,259.8 613.2,259.4 613.6,259.7 614.0,259.3 614.4,259.9 614.8,258.9 615.2,258.9 615.6,258.0 616.0,257.5 616.4,257.5 616.8,257.4 617.2,258.1 617.6,259.0 618.0,259.1 618.4,259.2 618.4,155.6 619.1,155.2 619.5,154.8 619.9,155.4 620.3,156.7 620.7,157.2 621.1,156.1 621.5,155.7 621.9,155.9 622.3,156.1 622.7,156.1 623.1,156.4 623.5,156.7 623.9,157.5 624.3,157.3 624.7,156.7 625.1,156.9 625.5,157.4 625.9,157.9 626.3,158.1 626.7,157.3 627.1,156.1 627.5,155.5 627.9,155.8 628.3,156.5 628.7,157.2 629.1,156.7 629.5,156.9 629.9,158.1 630.3,158.3 630.7,157.1 631.1,157.4 631.5,157.8 631.9,157.1 632.3,156.9 632.7,156.2 633.1,156.5 633.5,156.9 633.9,157.5 634.3,158.8 634.7,159.3 635.1,159.1 635.5,160.0 635.9,159.7 636.3,158.0 636.7,158.3 637.1,159.6 637.5,160.3 637.9,159.6 638.3,158.4 638.7,158.3 639.1,158.6 639.5,158.4 639.9,158.5 640.3,158.6 640.7,159.1 641.1,160.5 641.5,160.9 641.9,161.4 642.3,161.1 642.7,160.0 643.1,158.6 643.5,158.2 643.9,158.5 644.3,158.4 644.7,159.0 645.1,161.4 645.5,162.2 645.9,160.8 646.3,159.4 646.7,158.5 647.1,158.3 647.5,159.0 647.9,159.5 648.3,160.2 648.7,161.2 649.1,161.4 649.5,160.2 649.9,159.4 650.3,159.2 650.7,159.0 651.1,159.3 651.5,160.3 651.9,159.8 652.3,158.6 652.7,159.3 653.1,160.4 653.5,160.1 653.9,159.5 654.3,159.7 654.7,159.6 655.1,159.1 655.5,158.8 655.9,158.2 656.3,158.0 656.7,158.5 657.1,160.0 657.5,160.4 657.9,159.7 658.3,160.0 658.7,160.0 659.1,158.8 659.5,159.0 659.9,160.0 660.3,159.8 660.7,158.4 661.1,157.4 661.5,158.3 661.9,159.6 662.3,159.4 662.7,159.4 663.1,159.7 663.5,159.9 663.9,159.5 664.3,159.5 664.7,159.3 665.1,158.9 665.5,159.8 665.9,160.5 666.3,159.9 666.7,158.8 667.1,158.0 667.5,157.4 667.9,157.0 668.3,157.3 668.7,158.8 669.1,159.7 669.5,160.6 669.9,161.7 670.3,160.9 670.7,159.7 671.1,158.6 671.5,158.4 671.9,158.7 672.3,158.8 672.7,158.3 673.1,158.2 673.5,158.6 673.9,158.8 674.3,158.6 674.7,159.4 675.1,160.1 675.5,160.4 675.9,160.7 676.3,160.3 676.7,160.0 677.1,160.3 677.5,160.7 677.9,160.5 678.3,160.2 678.7,159.9 679.1,159.5 679.5,159.5 679.9,159.5 680.3,159.9 680.7,159.5 681.1,159.1 681.5,159.3 681.9,159.0 682.3,158.1 682.7,158.7 683.1,159.9 683.5,159.7 683.9,159.5 684.3,160.9 684.7,161.2 685.1,159.5 685.5,158.4 685.9,158.1 686.3,158.6 686.7,159.9 687.1,160.8 687.5,160.3 687.9,160.7 688.3,160.1 688.7,159.2 689.1,159.3 689.5,159.7 689.9,159.4 690.3,159.2 690.7,159.4 691.1,159.7 691.5,159.7 691.9,159.2 692.3,159.1 692.7,159.8 693.1,159.8 693.5,158.9 693.9,157.9 694.3,158.3 694.7,158.3 695.1,158.1 695.5,158.1 695.9,157.6 696.3,157.0 696.7,158.0 697.1,159.5 697.5,159.3 697.9,158.7 698.3,158.4 698.7,158.6 699.1,160.4 699.5,161.0 699.9,160.2 700.3,159.6 700.7,158.9 701.1,158.8 701.5,158.9 701.9,159.1 702.3,159.3 702.7,159.0 703.1,159.1 703.5,159.1 703.9,160.0 704.3,161.3 704.7,161.0"/>
</g>
<g font-family="DejaVu Sans, Liberation Sans, sans-serif" fill="#262626">
<text x="113.7" y="26" font-size="24" font-weight="bold" fill="#000" textLength="259.4" lengthAdjust="spacing" xml:space="preserve">Kir2.4  Rat  CHO_FT</text>
<text x="518" y="46.7" font-size="19" fill="#000" xml:space="preserve">25 °C  <tspan x="584.1" font-size="18.7">Deactivation</tspan></text>
<text x="70.2" y="175" font-size="24" text-anchor="end">0</text>
<text x="93.4" y="311.3" font-size="24" text-anchor="end">-0.4</text>
<text x="93" y="447" font-size="24" text-anchor="end">-0.8</text>
<text x="186.0" y="542.3" font-size="24" text-anchor="middle">0.1</text>
<text x="444.9" y="542.3" font-size="24" text-anchor="middle">0.4</text>
<text x="617.3" y="542.3" font-size="24" text-anchor="middle">0.6</text>
<text x="402.5" y="576.1" font-size="26.4" text-anchor="middle">t [s]</text>
<text transform="translate(35.5,277.9) rotate(-90)" font-size="26" text-anchor="middle">I [nA]</text>
<text transform="translate(721.3,395.4) rotate(-90)" font-size="13.9" fill="#000">BBP Channelpedia ID 23567 rep 2</text>
</g>
</svg>
</body></html>
